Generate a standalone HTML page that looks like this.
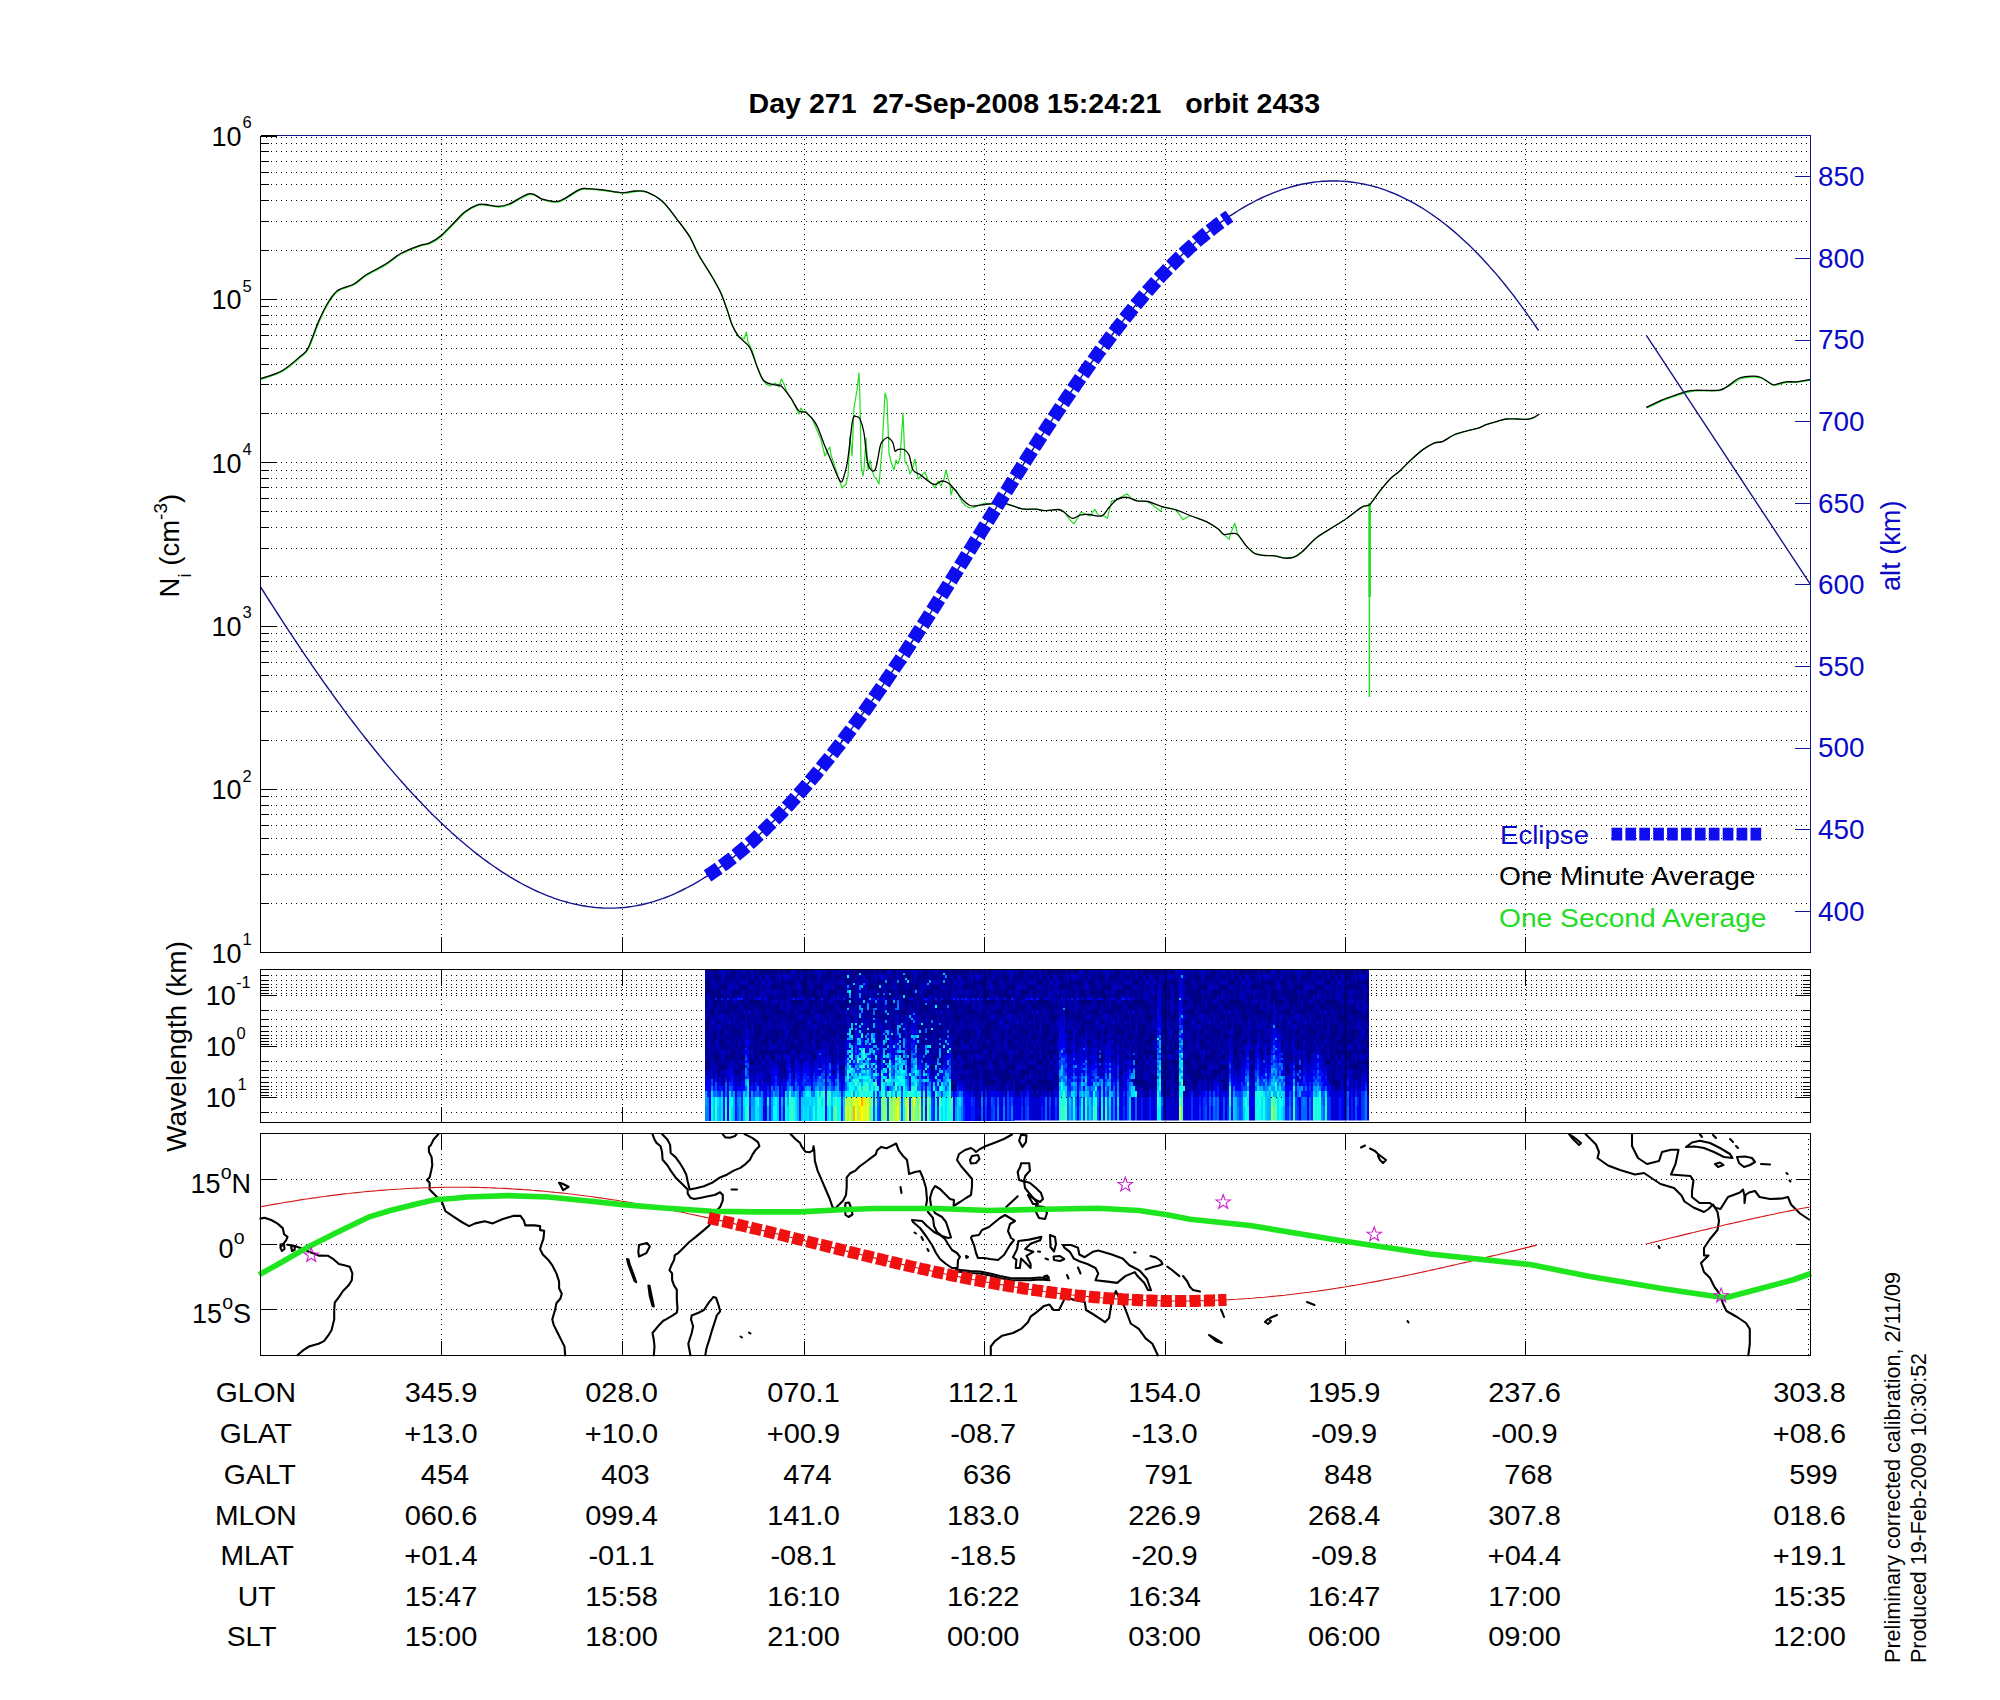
<!DOCTYPE html>
<html><head><meta charset="utf-8"><title>Day 271 27-Sep-2008 orbit 2433</title>
<style>html,body{margin:0;padding:0;background:#fff;}svg{display:block;}</style>
</head><body>
<svg width="2000" height="1700" viewBox="0 0 2000 1700">
<rect width="2000" height="1700" fill="#fff"/>
<g stroke="#000" stroke-width="1" stroke-dasharray="1 4" shape-rendering="crispEdges" fill="none">
<line x1="266" y1="903.5" x2="1809.5" y2="903.5"/>
<line x1="266" y1="874.5" x2="1809.5" y2="874.5"/>
<line x1="266" y1="854.5" x2="1809.5" y2="854.5"/>
<line x1="266" y1="838.5" x2="1809.5" y2="838.5"/>
<line x1="266" y1="825.5" x2="1809.5" y2="825.5"/>
<line x1="266" y1="814.5" x2="1809.5" y2="814.5"/>
<line x1="266" y1="805.5" x2="1809.5" y2="805.5"/>
<line x1="266" y1="796.5" x2="1809.5" y2="796.5"/>
<line x1="266" y1="789.5" x2="1809.5" y2="789.5"/>
<line x1="266" y1="740.5" x2="1809.5" y2="740.5"/>
<line x1="266" y1="711.5" x2="1809.5" y2="711.5"/>
<line x1="266" y1="691.5" x2="1809.5" y2="691.5"/>
<line x1="266" y1="675.5" x2="1809.5" y2="675.5"/>
<line x1="266" y1="662.5" x2="1809.5" y2="662.5"/>
<line x1="266" y1="651.5" x2="1809.5" y2="651.5"/>
<line x1="266" y1="641.5" x2="1809.5" y2="641.5"/>
<line x1="266" y1="633.5" x2="1809.5" y2="633.5"/>
<line x1="266" y1="626.5" x2="1809.5" y2="626.5"/>
<line x1="266" y1="576.5" x2="1809.5" y2="576.5"/>
<line x1="266" y1="548.5" x2="1809.5" y2="548.5"/>
<line x1="266" y1="527.5" x2="1809.5" y2="527.5"/>
<line x1="266" y1="511.5" x2="1809.5" y2="511.5"/>
<line x1="266" y1="498.5" x2="1809.5" y2="498.5"/>
<line x1="266" y1="487.5" x2="1809.5" y2="487.5"/>
<line x1="266" y1="478.5" x2="1809.5" y2="478.5"/>
<line x1="266" y1="470.5" x2="1809.5" y2="470.5"/>
<line x1="266" y1="462.5" x2="1809.5" y2="462.5"/>
<line x1="266" y1="413.5" x2="1809.5" y2="413.5"/>
<line x1="266" y1="384.5" x2="1809.5" y2="384.5"/>
<line x1="266" y1="364.5" x2="1809.5" y2="364.5"/>
<line x1="266" y1="348.5" x2="1809.5" y2="348.5"/>
<line x1="266" y1="335.5" x2="1809.5" y2="335.5"/>
<line x1="266" y1="324.5" x2="1809.5" y2="324.5"/>
<line x1="266" y1="315.5" x2="1809.5" y2="315.5"/>
<line x1="266" y1="306.5" x2="1809.5" y2="306.5"/>
<line x1="266" y1="299.5" x2="1809.5" y2="299.5"/>
<line x1="266" y1="250.5" x2="1809.5" y2="250.5"/>
<line x1="266" y1="221.5" x2="1809.5" y2="221.5"/>
<line x1="266" y1="200.5" x2="1809.5" y2="200.5"/>
<line x1="266" y1="184.5" x2="1809.5" y2="184.5"/>
<line x1="266" y1="172.5" x2="1809.5" y2="172.5"/>
<line x1="266" y1="161.5" x2="1809.5" y2="161.5"/>
<line x1="266" y1="151.5" x2="1809.5" y2="151.5"/>
<line x1="266" y1="143.5" x2="1809.5" y2="143.5"/>
<line x1="266" y1="137.5" x2="1809.5" y2="137.5"/>
<line x1="441.5" y1="139" x2="441.5" y2="951.5"/>
<line x1="622.5" y1="139" x2="622.5" y2="951.5"/>
<line x1="804.5" y1="139" x2="804.5" y2="951.5"/>
<line x1="984.5" y1="139" x2="984.5" y2="951.5"/>
<line x1="1165.5" y1="139" x2="1165.5" y2="951.5"/>
<line x1="1345.5" y1="139" x2="1345.5" y2="951.5"/>
<line x1="1525.5" y1="139" x2="1525.5" y2="951.5"/>
</g>
<g stroke="#000" stroke-width="1" stroke-dasharray="1 4" shape-rendering="crispEdges" fill="none">
<line x1="266" y1="975.5" x2="1809.5" y2="975.5"/>
<line x1="266" y1="980.5" x2="1809.5" y2="980.5"/>
<line x1="266" y1="984.5" x2="1809.5" y2="984.5"/>
<line x1="266" y1="987.5" x2="1809.5" y2="987.5"/>
<line x1="266" y1="990.5" x2="1809.5" y2="990.5"/>
<line x1="266" y1="993.5" x2="1809.5" y2="993.5"/>
<line x1="266" y1="995.5" x2="1809.5" y2="995.5"/>
<line x1="266" y1="1010.5" x2="1809.5" y2="1010.5"/>
<line x1="266" y1="1019.5" x2="1809.5" y2="1019.5"/>
<line x1="266" y1="1026.5" x2="1809.5" y2="1026.5"/>
<line x1="266" y1="1031.5" x2="1809.5" y2="1031.5"/>
<line x1="266" y1="1035.5" x2="1809.5" y2="1035.5"/>
<line x1="266" y1="1038.5" x2="1809.5" y2="1038.5"/>
<line x1="266" y1="1041.5" x2="1809.5" y2="1041.5"/>
<line x1="266" y1="1044.5" x2="1809.5" y2="1044.5"/>
<line x1="266" y1="1046.5" x2="1809.5" y2="1046.5"/>
<line x1="266" y1="1061.5" x2="1809.5" y2="1061.5"/>
<line x1="266" y1="1070.5" x2="1809.5" y2="1070.5"/>
<line x1="266" y1="1077.5" x2="1809.5" y2="1077.5"/>
<line x1="266" y1="1082.5" x2="1809.5" y2="1082.5"/>
<line x1="266" y1="1086.5" x2="1809.5" y2="1086.5"/>
<line x1="266" y1="1089.5" x2="1809.5" y2="1089.5"/>
<line x1="266" y1="1092.5" x2="1809.5" y2="1092.5"/>
<line x1="266" y1="1095.5" x2="1809.5" y2="1095.5"/>
<line x1="266" y1="1097.5" x2="1809.5" y2="1097.5"/>
<line x1="266" y1="1112.5" x2="1809.5" y2="1112.5"/>
<line x1="441.5" y1="974" x2="441.5" y2="1121.5"/>
<line x1="622.5" y1="974" x2="622.5" y2="1121.5"/>
<line x1="804.5" y1="974" x2="804.5" y2="1121.5"/>
<line x1="984.5" y1="974" x2="984.5" y2="1121.5"/>
<line x1="1165.5" y1="974" x2="1165.5" y2="1121.5"/>
<line x1="1345.5" y1="974" x2="1345.5" y2="1121.5"/>
<line x1="1525.5" y1="974" x2="1525.5" y2="1121.5"/>
</g>
<g stroke="#000" stroke-width="1" shape-rendering="crispEdges">
<line x1="260.5" y1="975.5" x2="268.5" y2="975.5"/>
<line x1="1802.5" y1="975.5" x2="1810.5" y2="975.5"/>
<line x1="260.5" y1="980.5" x2="268.5" y2="980.5"/>
<line x1="1802.5" y1="980.5" x2="1810.5" y2="980.5"/>
<line x1="260.5" y1="984.5" x2="268.5" y2="984.5"/>
<line x1="1802.5" y1="984.5" x2="1810.5" y2="984.5"/>
<line x1="260.5" y1="987.5" x2="268.5" y2="987.5"/>
<line x1="1802.5" y1="987.5" x2="1810.5" y2="987.5"/>
<line x1="260.5" y1="990.5" x2="268.5" y2="990.5"/>
<line x1="1802.5" y1="990.5" x2="1810.5" y2="990.5"/>
<line x1="260.5" y1="993.5" x2="268.5" y2="993.5"/>
<line x1="1802.5" y1="993.5" x2="1810.5" y2="993.5"/>
<line x1="260.5" y1="995.5" x2="276.5" y2="995.5"/>
<line x1="1794.5" y1="995.5" x2="1810.5" y2="995.5"/>
<line x1="260.5" y1="1010.5" x2="268.5" y2="1010.5"/>
<line x1="1802.5" y1="1010.5" x2="1810.5" y2="1010.5"/>
<line x1="260.5" y1="1019.5" x2="268.5" y2="1019.5"/>
<line x1="1802.5" y1="1019.5" x2="1810.5" y2="1019.5"/>
<line x1="260.5" y1="1026.5" x2="268.5" y2="1026.5"/>
<line x1="1802.5" y1="1026.5" x2="1810.5" y2="1026.5"/>
<line x1="260.5" y1="1031.5" x2="268.5" y2="1031.5"/>
<line x1="1802.5" y1="1031.5" x2="1810.5" y2="1031.5"/>
<line x1="260.5" y1="1035.5" x2="268.5" y2="1035.5"/>
<line x1="1802.5" y1="1035.5" x2="1810.5" y2="1035.5"/>
<line x1="260.5" y1="1038.5" x2="268.5" y2="1038.5"/>
<line x1="1802.5" y1="1038.5" x2="1810.5" y2="1038.5"/>
<line x1="260.5" y1="1041.5" x2="268.5" y2="1041.5"/>
<line x1="1802.5" y1="1041.5" x2="1810.5" y2="1041.5"/>
<line x1="260.5" y1="1044.5" x2="268.5" y2="1044.5"/>
<line x1="1802.5" y1="1044.5" x2="1810.5" y2="1044.5"/>
<line x1="260.5" y1="1046.5" x2="276.5" y2="1046.5"/>
<line x1="1794.5" y1="1046.5" x2="1810.5" y2="1046.5"/>
<line x1="260.5" y1="1061.5" x2="268.5" y2="1061.5"/>
<line x1="1802.5" y1="1061.5" x2="1810.5" y2="1061.5"/>
<line x1="260.5" y1="1070.5" x2="268.5" y2="1070.5"/>
<line x1="1802.5" y1="1070.5" x2="1810.5" y2="1070.5"/>
<line x1="260.5" y1="1077.5" x2="268.5" y2="1077.5"/>
<line x1="1802.5" y1="1077.5" x2="1810.5" y2="1077.5"/>
<line x1="260.5" y1="1082.5" x2="268.5" y2="1082.5"/>
<line x1="1802.5" y1="1082.5" x2="1810.5" y2="1082.5"/>
<line x1="260.5" y1="1086.5" x2="268.5" y2="1086.5"/>
<line x1="1802.5" y1="1086.5" x2="1810.5" y2="1086.5"/>
<line x1="260.5" y1="1089.5" x2="268.5" y2="1089.5"/>
<line x1="1802.5" y1="1089.5" x2="1810.5" y2="1089.5"/>
<line x1="260.5" y1="1092.5" x2="268.5" y2="1092.5"/>
<line x1="1802.5" y1="1092.5" x2="1810.5" y2="1092.5"/>
<line x1="260.5" y1="1095.5" x2="268.5" y2="1095.5"/>
<line x1="1802.5" y1="1095.5" x2="1810.5" y2="1095.5"/>
<line x1="260.5" y1="1097.5" x2="276.5" y2="1097.5"/>
<line x1="1794.5" y1="1097.5" x2="1810.5" y2="1097.5"/>
<line x1="260.5" y1="1112.5" x2="268.5" y2="1112.5"/>
<line x1="1802.5" y1="1112.5" x2="1810.5" y2="1112.5"/>
<line x1="441.5" y1="1122.5" x2="441.5" y2="1106.5"/>
<line x1="441.5" y1="969.5" x2="441.5" y2="985.5"/>
<line x1="622.5" y1="1122.5" x2="622.5" y2="1106.5"/>
<line x1="622.5" y1="969.5" x2="622.5" y2="985.5"/>
<line x1="804.5" y1="1122.5" x2="804.5" y2="1106.5"/>
<line x1="804.5" y1="969.5" x2="804.5" y2="985.5"/>
<line x1="984.5" y1="1122.5" x2="984.5" y2="1106.5"/>
<line x1="984.5" y1="969.5" x2="984.5" y2="985.5"/>
<line x1="1165.5" y1="1122.5" x2="1165.5" y2="1106.5"/>
<line x1="1165.5" y1="969.5" x2="1165.5" y2="985.5"/>
<line x1="1345.5" y1="1122.5" x2="1345.5" y2="1106.5"/>
<line x1="1345.5" y1="969.5" x2="1345.5" y2="985.5"/>
<line x1="1525.5" y1="1122.5" x2="1525.5" y2="1106.5"/>
<line x1="1525.5" y1="969.5" x2="1525.5" y2="985.5"/>
</g>
<defs><pattern id="sbg" patternUnits="userSpaceOnUse" width="48" height="160">
<rect width="48" height="160" fill="#000099"/>
<path fill="#00007f" d="M4 0h1v10h-1zM10 0h1v10h-1zM13 0h1v10h-1zM14 0h1v10h-1zM17 0h1v10h-1zM21 0h1v10h-1zM24 0h1v10h-1zM25 0h1v10h-1zM27 0h1v10h-1zM28 0h1v10h-1zM30 0h1v10h-1zM32 0h1v10h-1zM34 0h1v10h-1zM35 0h1v10h-1zM37 0h1v10h-1zM40 0h1v10h-1zM41 0h1v10h-1zM45 0h1v10h-1zM46 0h1v10h-1zM1 10h1v10h-1zM5 10h1v10h-1zM6 10h1v10h-1zM7 10h1v10h-1zM10 10h1v10h-1zM11 10h1v10h-1zM13 10h1v10h-1zM18 10h1v10h-1zM19 10h1v10h-1zM22 10h1v10h-1zM25 10h1v10h-1zM26 10h1v10h-1zM28 10h1v10h-1zM29 10h1v10h-1zM32 10h1v10h-1zM33 10h1v10h-1zM34 10h1v10h-1zM38 10h1v10h-1zM44 10h1v10h-1zM46 10h1v10h-1zM0 20h1v10h-1zM1 20h1v10h-1zM5 20h1v10h-1zM15 20h1v10h-1zM22 20h1v10h-1zM23 20h1v10h-1zM24 20h1v10h-1zM26 20h1v10h-1zM34 20h1v10h-1zM36 20h1v10h-1zM38 20h1v10h-1zM41 20h1v10h-1zM42 20h1v10h-1zM43 20h1v10h-1zM1 30h1v10h-1zM2 30h1v10h-1zM7 30h1v10h-1zM8 30h1v10h-1zM9 30h1v10h-1zM10 30h1v10h-1zM17 30h1v10h-1zM18 30h1v10h-1zM19 30h1v10h-1zM26 30h1v10h-1zM33 30h1v10h-1zM34 30h1v10h-1zM35 30h1v10h-1zM37 30h1v10h-1zM38 30h1v10h-1zM43 30h1v10h-1zM0 40h1v10h-1zM1 40h1v10h-1zM3 40h1v10h-1zM5 40h1v10h-1zM6 40h1v10h-1zM7 40h1v10h-1zM10 40h1v10h-1zM14 40h1v10h-1zM15 40h1v10h-1zM16 40h1v10h-1zM17 40h1v10h-1zM20 40h1v10h-1zM26 40h1v10h-1zM33 40h1v10h-1zM37 40h1v10h-1zM40 40h1v10h-1zM43 40h1v10h-1zM44 40h1v10h-1zM45 40h1v10h-1zM2 50h1v10h-1zM4 50h1v10h-1zM6 50h1v10h-1zM7 50h1v10h-1zM8 50h1v10h-1zM10 50h1v10h-1zM13 50h1v10h-1zM14 50h1v10h-1zM17 50h1v10h-1zM20 50h1v10h-1zM23 50h1v10h-1zM26 50h1v10h-1zM31 50h1v10h-1zM33 50h1v10h-1zM36 50h1v10h-1zM38 50h1v10h-1zM40 50h1v10h-1zM43 50h1v10h-1zM44 50h1v10h-1zM0 60h1v10h-1zM4 60h1v10h-1zM5 60h1v10h-1zM7 60h1v10h-1zM9 60h1v10h-1zM11 60h1v10h-1zM18 60h1v10h-1zM22 60h1v10h-1zM23 60h1v10h-1zM24 60h1v10h-1zM25 60h1v10h-1zM26 60h1v10h-1zM27 60h1v10h-1zM39 60h1v10h-1zM42 60h1v10h-1zM43 60h1v10h-1zM45 60h1v10h-1zM46 60h1v10h-1zM47 60h1v10h-1zM4 70h1v10h-1zM5 70h1v10h-1zM7 70h1v10h-1zM11 70h1v10h-1zM13 70h1v10h-1zM14 70h1v10h-1zM15 70h1v10h-1zM19 70h1v10h-1zM20 70h1v10h-1zM22 70h1v10h-1zM27 70h1v10h-1zM28 70h1v10h-1zM29 70h1v10h-1zM31 70h1v10h-1zM33 70h1v10h-1zM35 70h1v10h-1zM36 70h1v10h-1zM45 70h1v10h-1zM2 80h1v10h-1zM3 80h1v10h-1zM4 80h1v10h-1zM6 80h1v10h-1zM8 80h1v10h-1zM10 80h1v10h-1zM11 80h1v10h-1zM14 80h1v10h-1zM18 80h1v10h-1zM20 80h1v10h-1zM23 80h1v10h-1zM27 80h1v10h-1zM29 80h1v10h-1zM35 80h1v10h-1zM36 80h1v10h-1zM37 80h1v10h-1zM42 80h1v10h-1zM43 80h1v10h-1zM46 80h1v10h-1zM1 90h1v10h-1zM13 90h1v10h-1zM17 90h1v10h-1zM18 90h1v10h-1zM19 90h1v10h-1zM21 90h1v10h-1zM24 90h1v10h-1zM28 90h1v10h-1zM29 90h1v10h-1zM30 90h1v10h-1zM37 90h1v10h-1zM39 90h1v10h-1zM41 90h1v10h-1zM42 90h1v10h-1zM44 90h1v10h-1zM1 100h1v10h-1zM6 100h1v10h-1zM13 100h1v10h-1zM16 100h1v10h-1zM21 100h1v10h-1zM25 100h1v10h-1zM30 100h1v10h-1zM33 100h1v10h-1zM42 100h1v10h-1zM45 100h1v10h-1zM47 100h1v10h-1zM0 110h1v10h-1zM8 110h1v10h-1zM10 110h1v10h-1zM14 110h1v10h-1zM17 110h1v10h-1zM19 110h1v10h-1zM21 110h1v10h-1zM22 110h1v10h-1zM24 110h1v10h-1zM26 110h1v10h-1zM27 110h1v10h-1zM34 110h1v10h-1zM44 110h1v10h-1zM45 110h1v10h-1zM46 110h1v10h-1zM1 120h1v10h-1zM4 120h1v10h-1zM5 120h1v10h-1zM7 120h1v10h-1zM8 120h1v10h-1zM11 120h1v10h-1zM14 120h1v10h-1zM15 120h1v10h-1zM16 120h1v10h-1zM19 120h1v10h-1zM25 120h1v10h-1zM26 120h1v10h-1zM27 120h1v10h-1zM34 120h1v10h-1zM36 120h1v10h-1zM38 120h1v10h-1zM42 120h1v10h-1zM43 120h1v10h-1zM44 120h1v10h-1zM45 120h1v10h-1zM4 130h1v10h-1zM10 130h1v10h-1zM17 130h1v10h-1zM19 130h1v10h-1zM20 130h1v10h-1zM24 130h1v10h-1zM25 130h1v10h-1zM30 130h1v10h-1zM31 130h1v10h-1zM35 130h1v10h-1zM36 130h1v10h-1zM41 130h1v10h-1zM45 130h1v10h-1zM46 130h1v10h-1zM0 140h1v10h-1zM4 140h1v10h-1zM7 140h1v10h-1zM8 140h1v10h-1zM13 140h1v10h-1zM15 140h1v10h-1zM18 140h1v10h-1zM20 140h1v10h-1zM24 140h1v10h-1zM26 140h1v10h-1zM28 140h1v10h-1zM29 140h1v10h-1zM30 140h1v10h-1zM33 140h1v10h-1zM34 140h1v10h-1zM35 140h1v10h-1zM40 140h1v10h-1zM43 140h1v10h-1zM47 140h1v10h-1zM8 150h1v10h-1zM10 150h1v10h-1zM18 150h1v10h-1zM22 150h1v10h-1zM25 150h1v10h-1zM30 150h1v10h-1zM36 150h1v10h-1zM40 150h1v10h-1zM43 150h1v10h-1zM44 150h1v10h-1z"/>
<path fill="#0000b2" d="M1 0h1v10h-1zM3 0h1v10h-1zM8 0h1v10h-1zM11 0h1v10h-1zM12 0h1v10h-1zM16 0h1v10h-1zM19 0h1v10h-1zM26 0h1v10h-1zM36 0h1v10h-1zM39 0h1v10h-1zM47 0h1v10h-1zM16 10h1v10h-1zM20 10h1v10h-1zM35 10h1v10h-1zM36 10h1v10h-1zM41 10h1v10h-1zM42 10h1v10h-1zM43 10h1v10h-1zM45 10h1v10h-1zM47 10h1v10h-1zM3 20h1v10h-1zM4 20h1v10h-1zM8 20h1v10h-1zM12 20h1v10h-1zM14 20h1v10h-1zM16 20h1v10h-1zM19 20h1v10h-1zM20 20h1v10h-1zM21 20h1v10h-1zM25 20h1v10h-1zM29 20h1v10h-1zM31 20h1v10h-1zM33 20h1v10h-1zM35 20h1v10h-1zM37 20h1v10h-1zM45 20h1v10h-1zM46 20h1v10h-1zM0 30h1v10h-1zM4 30h1v10h-1zM5 30h1v10h-1zM11 30h1v10h-1zM13 30h1v10h-1zM14 30h1v10h-1zM15 30h1v10h-1zM16 30h1v10h-1zM22 30h1v10h-1zM23 30h1v10h-1zM24 30h1v10h-1zM27 30h1v10h-1zM30 30h1v10h-1zM31 30h1v10h-1zM32 30h1v10h-1zM40 30h1v10h-1zM41 30h1v10h-1zM44 30h1v10h-1zM45 30h1v10h-1zM47 30h1v10h-1zM12 40h1v10h-1zM18 40h1v10h-1zM19 40h1v10h-1zM27 40h1v10h-1zM30 40h1v10h-1zM31 40h1v10h-1zM35 40h1v10h-1zM36 40h1v10h-1zM38 40h1v10h-1zM41 40h1v10h-1zM42 40h1v10h-1zM47 40h1v10h-1zM9 50h1v10h-1zM12 50h1v10h-1zM19 50h1v10h-1zM21 50h1v10h-1zM22 50h1v10h-1zM24 50h1v10h-1zM28 50h1v10h-1zM29 50h1v10h-1zM30 50h1v10h-1zM34 50h1v10h-1zM35 50h1v10h-1zM37 50h1v10h-1zM47 50h1v10h-1zM1 60h1v10h-1zM2 60h1v10h-1zM8 60h1v10h-1zM16 60h1v10h-1zM21 60h1v10h-1zM30 60h1v10h-1zM33 60h1v10h-1zM34 60h1v10h-1zM40 60h1v10h-1zM0 70h1v10h-1zM2 70h1v10h-1zM3 70h1v10h-1zM10 70h1v10h-1zM17 70h1v10h-1zM18 70h1v10h-1zM30 70h1v10h-1zM32 70h1v10h-1zM37 70h1v10h-1zM38 70h1v10h-1zM42 70h1v10h-1zM46 70h1v10h-1zM7 80h1v10h-1zM9 80h1v10h-1zM13 80h1v10h-1zM17 80h1v10h-1zM21 80h1v10h-1zM24 80h1v10h-1zM25 80h1v10h-1zM26 80h1v10h-1zM28 80h1v10h-1zM31 80h1v10h-1zM2 90h1v10h-1zM6 90h1v10h-1zM16 90h1v10h-1zM26 90h1v10h-1zM27 90h1v10h-1zM34 90h1v10h-1zM35 90h1v10h-1zM38 90h1v10h-1zM40 90h1v10h-1zM45 90h1v10h-1zM14 100h1v10h-1zM15 100h1v10h-1zM17 100h1v10h-1zM18 100h1v10h-1zM20 100h1v10h-1zM22 100h1v10h-1zM24 100h1v10h-1zM26 100h1v10h-1zM27 100h1v10h-1zM31 100h1v10h-1zM36 100h1v10h-1zM38 100h1v10h-1zM39 100h1v10h-1zM41 100h1v10h-1zM43 100h1v10h-1zM3 110h1v10h-1zM4 110h1v10h-1zM9 110h1v10h-1zM15 110h1v10h-1zM16 110h1v10h-1zM18 110h1v10h-1zM20 110h1v10h-1zM29 110h1v10h-1zM31 110h1v10h-1zM32 110h1v10h-1zM33 110h1v10h-1zM35 110h1v10h-1zM37 110h1v10h-1zM38 110h1v10h-1zM42 110h1v10h-1zM43 110h1v10h-1zM47 110h1v10h-1zM0 120h1v10h-1zM2 120h1v10h-1zM3 120h1v10h-1zM12 120h1v10h-1zM18 120h1v10h-1zM20 120h1v10h-1zM29 120h1v10h-1zM0 130h1v10h-1zM1 130h1v10h-1zM6 130h1v10h-1zM9 130h1v10h-1zM15 130h1v10h-1zM23 130h1v10h-1zM28 130h1v10h-1zM37 130h1v10h-1zM42 130h1v10h-1zM47 130h1v10h-1zM1 140h1v10h-1zM2 140h1v10h-1zM6 140h1v10h-1zM14 140h1v10h-1zM16 140h1v10h-1zM17 140h1v10h-1zM21 140h1v10h-1zM22 140h1v10h-1zM23 140h1v10h-1zM25 140h1v10h-1zM27 140h1v10h-1zM36 140h1v10h-1zM37 140h1v10h-1zM39 140h1v10h-1zM44 140h1v10h-1zM2 150h1v10h-1zM3 150h1v10h-1zM5 150h1v10h-1zM13 150h1v10h-1zM17 150h1v10h-1zM20 150h1v10h-1zM21 150h1v10h-1zM23 150h1v10h-1zM29 150h1v10h-1zM33 150h1v10h-1zM34 150h1v10h-1zM38 150h1v10h-1zM41 150h1v10h-1z"/>
<path fill="#0000cc" d="M7 0h1v10h-1zM9 0h1v10h-1zM18 0h1v10h-1zM23 0h1v10h-1zM43 0h1v10h-1zM44 0h1v10h-1zM0 10h1v10h-1zM8 10h1v10h-1zM9 10h1v10h-1zM23 10h1v10h-1zM27 10h1v10h-1zM30 10h1v10h-1zM31 10h1v10h-1zM37 10h1v10h-1zM39 10h1v10h-1zM40 10h1v10h-1zM18 20h1v10h-1zM28 20h1v10h-1zM32 20h1v10h-1zM12 30h1v10h-1zM46 30h1v10h-1zM8 40h1v10h-1zM11 40h1v10h-1zM28 40h1v10h-1zM32 40h1v10h-1zM34 40h1v10h-1zM1 50h1v10h-1zM16 50h1v10h-1zM18 50h1v10h-1zM27 50h1v10h-1zM41 50h1v10h-1zM10 60h1v10h-1zM14 60h1v10h-1zM35 60h1v10h-1zM38 60h1v10h-1zM41 60h1v10h-1zM6 70h1v10h-1zM41 70h1v10h-1zM5 80h1v10h-1zM19 80h1v10h-1zM22 80h1v10h-1zM41 80h1v10h-1zM45 80h1v10h-1zM0 90h1v10h-1zM7 90h1v10h-1zM8 90h1v10h-1zM10 90h1v10h-1zM14 90h1v10h-1zM20 90h1v10h-1zM23 90h1v10h-1zM47 90h1v10h-1zM3 100h1v10h-1zM4 100h1v10h-1zM8 100h1v10h-1zM11 100h1v10h-1zM12 100h1v10h-1zM32 100h1v10h-1zM6 110h1v10h-1zM7 110h1v10h-1zM23 110h1v10h-1zM39 110h1v10h-1zM6 120h1v10h-1zM10 120h1v10h-1zM23 120h1v10h-1zM40 120h1v10h-1zM41 120h1v10h-1zM18 130h1v10h-1zM40 130h1v10h-1zM5 140h1v10h-1zM11 140h1v10h-1zM19 140h1v10h-1zM32 140h1v10h-1zM45 140h1v10h-1zM6 150h1v10h-1zM32 150h1v10h-1zM35 150h1v10h-1zM39 150h1v10h-1z"/>
</pattern></defs>
<g transform="translate(705.30 969.60) scale(1.9997 0.5)" shape-rendering="crispEdges">
<rect width="332" height="303" fill="url(#sbg)"/>
<path fill="#0000cc" d="M135 273h1v30h-1zM139 273h1v30h-1zM141 273h1v30h-1zM150 273h1v30h-1zM159 273h1v30h-1zM163 273h5v30h-5zM171 273h1v30h-1zM173 273h1v30h-1zM214 273h1v30h-1zM216 273h2v30h-2zM219 273h2v30h-2zM224 273h1v30h-1zM229 273h1v30h-1zM231 273h5v30h-5zM240 273h1v30h-1zM257 273h1v30h-1zM260 273h1v30h-1zM313 273h1v30h-1zM315 273h1v30h-1zM319 273h1v30h-1zM322 273h1v30h-1zM331 273h1v30h-1zM135 255h2v18h-2zM139 255h1v18h-1zM141 255h1v18h-1zM150 255h1v18h-1zM159 255h1v18h-1zM163 255h5v18h-5zM171 255h1v18h-1zM173 255h1v18h-1zM216 255h2v18h-2zM219 255h2v18h-2zM224 255h1v18h-1zM229 255h1v18h-1zM231 255h4v18h-4zM240 255h1v18h-1zM257 255h1v18h-1zM260 255h1v18h-1zM313 255h1v18h-1zM315 255h1v18h-1zM319 255h1v18h-1zM322 255h1v18h-1zM324 255h1v18h-1zM327 255h1v18h-1zM331 255h1v18h-1zM15 242h1v13h-1zM37 242h1v13h-1zM131 242h2v13h-2zM134 242h1v13h-1zM136 242h1v13h-1zM142 242h1v13h-1zM147 242h2v13h-2zM152 242h1v13h-1zM157 242h1v13h-1zM162 242h1v13h-1zM168 242h1v13h-1zM174 242h1v13h-1zM176 242h1v13h-1zM208 242h1v13h-1zM224 242h1v13h-1zM230 242h1v13h-1zM234 242h1v13h-1zM236 242h1v13h-1zM239 242h1v13h-1zM244 242h1v13h-1zM248 242h1v13h-1zM251 242h1v13h-1zM260 242h1v13h-1zM273 242h2v13h-2zM313 242h1v13h-1zM315 242h2v13h-2zM319 242h1v13h-1zM322 242h1v13h-1zM324 242h1v13h-1zM326 242h2v13h-2zM2 232h1v10h-1zM9 232h1v10h-1zM11 232h1v10h-1zM15 232h1v10h-1zM27 232h1v10h-1zM30 232h1v10h-1zM37 232h1v10h-1zM39 232h1v10h-1zM129 232h1v10h-1zM131 232h1v10h-1zM133 232h1v10h-1zM138 232h1v10h-1zM140 232h1v10h-1zM142 232h1v10h-1zM144 232h1v10h-1zM151 232h1v10h-1zM154 232h1v10h-1zM160 232h2v10h-2zM175 232h1v10h-1zM205 232h1v10h-1zM207 232h2v10h-2zM210 232h1v10h-1zM215 232h1v10h-1zM218 232h1v10h-1zM222 232h1v10h-1zM225 232h1v10h-1zM228 232h1v10h-1zM243 232h1v10h-1zM249 232h2v10h-2zM258 232h1v10h-1zM261 232h1v10h-1zM272 232h3v10h-3zM314 232h1v10h-1zM317 232h1v10h-1zM320 232h1v10h-1zM326 232h1v10h-1zM329 232h1v10h-1zM4 224h1v8h-1zM6 224h1v8h-1zM8 224h1v8h-1zM11 224h1v8h-1zM16 224h2v8h-2zM24 224h1v8h-1zM29 224h3v8h-3zM60 224h1v8h-1zM68 224h1v8h-1zM110 224h1v8h-1zM113 224h1v8h-1zM128 224h2v8h-2zM138 224h1v8h-1zM151 224h1v8h-1zM207 224h1v8h-1zM210 224h1v8h-1zM214 224h1v8h-1zM247 224h1v8h-1zM249 224h1v8h-1zM252 224h1v8h-1zM254 224h1v8h-1zM258 224h1v8h-1zM272 224h3v8h-3zM290 224h2v8h-2zM295 224h1v8h-1zM297 224h1v8h-1zM301 224h1v8h-1zM312 224h1v8h-1zM318 224h1v8h-1zM320 224h1v8h-1zM323 224h1v8h-1zM325 224h1v8h-1zM329 224h1v8h-1zM2 218h1v6h-1zM4 218h1v6h-1zM14 218h1v6h-1zM16 218h1v6h-1zM19 218h1v6h-1zM38 218h3v6h-3zM44 218h1v6h-1zM53 218h1v6h-1zM64 218h1v6h-1zM102 218h1v6h-1zM114 218h1v6h-1zM126 218h2v6h-2zM138 218h1v6h-1zM186 218h1v6h-1zM205 218h1v6h-1zM210 218h1v6h-1zM213 218h1v6h-1zM247 218h1v6h-1zM254 218h1v6h-1zM256 218h1v6h-1zM266 218h2v6h-2zM272 218h1v6h-1zM274 218h1v6h-1zM290 218h2v6h-2zM296 218h3v6h-3zM301 218h1v6h-1zM311 218h1v6h-1zM318 218h1v6h-1zM323 218h1v6h-1zM325 218h1v6h-1zM328 218h1v6h-1zM1 212h1v6h-1zM18 212h1v6h-1zM23 212h1v6h-1zM25 212h1v6h-1zM36 212h1v6h-1zM39 212h1v6h-1zM53 212h1v6h-1zM60 212h1v6h-1zM64 212h1v6h-1zM67 212h3v6h-3zM102 212h1v6h-1zM113 212h1v6h-1zM126 212h1v6h-1zM199 212h1v6h-1zM205 212h1v6h-1zM210 212h1v6h-1zM264 212h1v6h-1zM266 212h1v6h-1zM272 212h1v6h-1zM274 212h1v6h-1zM290 212h2v6h-2zM293 212h1v6h-1zM298 212h1v6h-1zM301 212h1v6h-1zM309 212h1v6h-1zM328 212h1v6h-1zM0 206h1v6h-1zM2 206h1v6h-1zM7 206h1v6h-1zM10 206h1v6h-1zM14 206h1v6h-1zM18 206h1v6h-1zM23 206h1v6h-1zM25 206h1v6h-1zM28 206h1v6h-1zM34 206h1v6h-1zM36 206h1v6h-1zM43 206h1v6h-1zM48 206h1v6h-1zM57 206h1v6h-1zM63 206h1v6h-1zM67 206h1v6h-1zM69 206h1v6h-1zM87 206h1v6h-1zM117 206h1v6h-1zM181 206h1v6h-1zM196 206h1v6h-1zM198 206h2v6h-2zM210 206h1v6h-1zM263 206h3v6h-3zM267 206h1v6h-1zM269 206h1v6h-1zM274 206h1v6h-1zM292 206h1v6h-1zM295 206h1v6h-1zM297 206h2v6h-2zM301 206h2v6h-2zM321 206h1v6h-1zM328 206h1v6h-1zM330 206h1v6h-1zM0 201h2v5h-2zM5 201h1v5h-1zM10 201h1v5h-1zM18 201h1v5h-1zM26 201h1v5h-1zM28 201h1v5h-1zM33 201h1v5h-1zM36 201h1v5h-1zM41 201h1v5h-1zM43 201h1v5h-1zM47 201h2v5h-2zM63 201h1v5h-1zM65 201h1v5h-1zM68 201h1v5h-1zM87 201h1v5h-1zM115 201h2v5h-2zM181 201h1v5h-1zM186 201h1v5h-1zM189 201h1v5h-1zM191 201h2v5h-2zM196 201h4v5h-4zM204 201h2v5h-2zM263 201h3v5h-3zM267 201h1v5h-1zM269 201h1v5h-1zM278 201h1v5h-1zM292 201h2v5h-2zM295 201h1v5h-1zM309 201h1v5h-1zM321 201h1v5h-1zM330 201h1v5h-1zM3 196h1v5h-1zM5 196h1v5h-1zM10 196h1v5h-1zM33 196h2v5h-2zM36 196h1v5h-1zM46 196h2v5h-2zM54 196h1v5h-1zM63 196h1v5h-1zM65 196h1v5h-1zM86 196h2v5h-2zM91 196h1v5h-1zM102 196h1v5h-1zM109 196h1v5h-1zM116 196h1v5h-1zM118 196h1v5h-1zM181 196h1v5h-1zM185 196h1v5h-1zM192 196h1v5h-1zM196 196h3v5h-3zM203 196h1v5h-1zM209 196h1v5h-1zM213 196h1v5h-1zM263 196h1v5h-1zM269 196h1v5h-1zM278 196h2v5h-2zM281 196h1v5h-1zM293 196h1v5h-1zM297 196h1v5h-1zM300 196h1v5h-1zM302 196h1v5h-1zM305 196h1v5h-1zM308 196h2v5h-2zM321 196h1v5h-1zM3 191h1v5h-1zM12 191h2v5h-2zM26 191h1v5h-1zM33 191h4v5h-4zM47 191h1v5h-1zM50 191h1v5h-1zM52 191h1v5h-1zM54 191h1v5h-1zM63 191h1v5h-1zM87 191h1v5h-1zM89 191h2v5h-2zM101 191h1v5h-1zM109 191h1v5h-1zM112 191h1v5h-1zM116 191h1v5h-1zM120 191h1v5h-1zM181 191h2v5h-2zM189 191h1v5h-1zM196 191h2v5h-2zM199 191h1v5h-1zM203 191h1v5h-1zM209 191h1v5h-1zM211 191h1v5h-1zM263 191h1v5h-1zM268 191h2v5h-2zM277 191h1v5h-1zM279 191h1v5h-1zM281 191h1v5h-1zM289 191h1v5h-1zM292 191h2v5h-2zM297 191h1v5h-1zM300 191h4v5h-4zM308 191h1v5h-1zM310 191h1v5h-1zM3 186h1v5h-1zM12 186h2v5h-2zM34 186h2v5h-2zM41 186h1v5h-1zM45 186h2v5h-2zM50 186h1v5h-1zM52 186h1v5h-1zM54 186h1v5h-1zM65 186h1v5h-1zM89 186h1v5h-1zM101 186h2v5h-2zM108 186h1v5h-1zM112 186h1v5h-1zM115 186h1v5h-1zM120 186h1v5h-1zM181 186h2v5h-2zM186 186h1v5h-1zM199 186h1v5h-1zM203 186h1v5h-1zM209 186h1v5h-1zM211 186h1v5h-1zM263 186h1v5h-1zM281 186h2v5h-2zM289 186h1v5h-1zM293 186h1v5h-1zM299 186h2v5h-2zM302 186h2v5h-2zM305 186h1v5h-1zM308 186h2v5h-2zM321 186h1v5h-1zM3 181h1v5h-1zM13 181h1v5h-1zM35 181h1v5h-1zM41 181h2v5h-2zM46 181h1v5h-1zM49 181h3v5h-3zM54 181h1v5h-1zM56 181h1v5h-1zM62 181h1v5h-1zM84 181h1v5h-1zM86 181h1v5h-1zM101 181h1v5h-1zM106 181h1v5h-1zM111 181h2v5h-2zM120 181h1v5h-1zM181 181h2v5h-2zM185 181h3v5h-3zM191 181h1v5h-1zM193 181h1v5h-1zM199 181h1v5h-1zM201 181h1v5h-1zM203 181h2v5h-2zM209 181h1v5h-1zM211 181h1v5h-1zM263 181h1v5h-1zM268 181h1v5h-1zM270 181h1v5h-1zM277 181h2v5h-2zM288 181h2v5h-2zM299 181h2v5h-2zM303 181h1v5h-1zM305 181h1v5h-1zM308 181h1v5h-1zM35 176h1v5h-1zM41 176h2v5h-2zM45 176h1v5h-1zM51 176h2v5h-2zM62 176h1v5h-1zM86 176h1v5h-1zM89 176h2v5h-2zM101 176h1v5h-1zM120 176h1v5h-1zM182 176h2v5h-2zM185 176h3v5h-3zM191 176h1v5h-1zM193 176h1v5h-1zM204 176h1v5h-1zM209 176h1v5h-1zM212 176h1v5h-1zM263 176h1v5h-1zM268 176h1v5h-1zM277 176h1v5h-1zM282 176h1v5h-1zM289 176h1v5h-1zM299 176h2v5h-2zM303 176h1v5h-1zM305 176h1v5h-1zM307 176h1v5h-1zM35 171h1v5h-1zM41 171h2v5h-2zM45 171h1v5h-1zM47 171h1v5h-1zM49 171h1v5h-1zM51 171h2v5h-2zM58 171h2v5h-2zM61 171h2v5h-2zM66 171h1v5h-1zM74 171h1v5h-1zM84 171h1v5h-1zM86 171h1v5h-1zM108 171h1v5h-1zM111 171h1v5h-1zM120 171h1v5h-1zM182 171h2v5h-2zM185 171h1v5h-1zM195 171h1v5h-1zM201 171h2v5h-2zM204 171h1v5h-1zM263 171h1v5h-1zM268 171h1v5h-1zM270 171h1v5h-1zM277 171h1v5h-1zM282 171h1v5h-1zM303 171h3v5h-3zM307 171h2v5h-2zM35 166h1v5h-1zM51 166h1v5h-1zM56 166h1v5h-1zM58 166h2v5h-2zM66 166h1v5h-1zM70 166h1v5h-1zM83 166h1v5h-1zM86 166h1v5h-1zM94 166h1v5h-1zM97 166h1v5h-1zM108 166h1v5h-1zM111 166h1v5h-1zM119 166h1v5h-1zM183 166h1v5h-1zM185 166h4v5h-4zM193 166h1v5h-1zM195 166h1v5h-1zM201 166h1v5h-1zM203 166h2v5h-2zM211 166h2v5h-2zM262 166h2v5h-2zM268 166h1v5h-1zM275 166h1v5h-1zM277 166h1v5h-1zM280 166h1v5h-1zM299 166h1v5h-1zM303 166h5v5h-5zM56 161h1v5h-1zM58 161h1v5h-1zM61 161h1v5h-1zM86 161h1v5h-1zM94 161h1v5h-1zM107 161h2v5h-2zM180 161h1v5h-1zM186 161h4v5h-4zM193 161h3v5h-3zM200 161h2v5h-2zM203 161h1v5h-1zM206 161h1v5h-1zM212 161h1v5h-1zM270 161h1v5h-1zM275 161h1v5h-1zM35 156h1v5h-1zM58 156h2v5h-2zM61 156h1v5h-1zM66 156h1v5h-1zM70 156h1v5h-1zM72 156h1v5h-1zM74 156h1v5h-1zM94 156h1v5h-1zM107 156h2v5h-2zM111 156h1v5h-1zM121 156h1v5h-1zM180 156h1v5h-1zM183 156h1v5h-1zM187 156h2v5h-2zM191 156h1v5h-1zM193 156h2v5h-2zM200 156h2v5h-2zM206 156h1v5h-1zM209 156h1v5h-1zM212 156h1v5h-1zM262 156h1v5h-1zM268 156h1v5h-1zM270 156h1v5h-1zM280 156h1v5h-1zM294 156h1v5h-1zM299 156h1v5h-1zM306 156h1v5h-1zM20 151h1v5h-1zM58 151h1v5h-1zM70 151h1v5h-1zM74 151h1v5h-1zM76 151h1v5h-1zM80 151h1v5h-1zM83 151h1v5h-1zM108 151h1v5h-1zM121 151h2v5h-2zM183 151h1v5h-1zM187 151h2v5h-2zM195 151h1v5h-1zM200 151h2v5h-2zM206 151h1v5h-1zM262 151h1v5h-1zM270 151h1v5h-1zM275 151h1v5h-1zM280 151h1v5h-1zM286 151h1v5h-1zM294 151h1v5h-1zM299 151h1v5h-1zM306 151h1v5h-1zM58 146h2v5h-2zM61 146h1v5h-1zM70 146h1v5h-1zM73 146h2v5h-2zM79 146h1v5h-1zM83 146h1v5h-1zM93 146h2v5h-2zM119 146h1v5h-1zM122 146h1v5h-1zM180 146h1v5h-1zM195 146h1v5h-1zM200 146h3v5h-3zM206 146h1v5h-1zM262 146h1v5h-1zM280 146h1v5h-1zM286 146h1v5h-1zM294 146h1v5h-1zM299 146h1v5h-1zM72 141h1v5h-1zM79 141h1v5h-1zM82 141h1v5h-1zM88 141h1v5h-1zM93 141h2v5h-2zM121 141h1v5h-1zM180 141h1v5h-1zM184 141h1v5h-1zM187 141h1v5h-1zM190 141h1v5h-1zM194 141h2v5h-2zM201 141h2v5h-2zM262 141h1v5h-1zM271 141h1v5h-1zM276 141h1v5h-1zM285 141h2v5h-2zM294 141h1v5h-1zM20 136h2v5h-2zM66 136h1v5h-1zM79 136h1v5h-1zM82 136h1v5h-1zM85 136h1v5h-1zM88 136h1v5h-1zM93 136h1v5h-1zM95 136h1v5h-1zM119 136h1v5h-1zM121 136h2v5h-2zM178 136h1v5h-1zM184 136h1v5h-1zM188 136h1v5h-1zM195 136h1v5h-1zM262 136h1v5h-1zM271 136h1v5h-1zM276 136h1v5h-1zM280 136h1v5h-1zM283 136h1v5h-1zM286 136h1v5h-1zM294 136h1v5h-1zM20 131h2v5h-2zM66 131h1v5h-1zM77 131h1v5h-1zM81 131h2v5h-2zM92 131h2v5h-2zM122 131h1v5h-1zM180 131h1v5h-1zM188 131h1v5h-1zM190 131h1v5h-1zM202 131h1v5h-1zM206 131h1v5h-1zM271 131h1v5h-1zM276 131h1v5h-1zM286 131h2v5h-2zM294 131h1v5h-1zM20 126h2v5h-2zM76 126h2v5h-2zM82 126h1v5h-1zM95 126h1v5h-1zM103 126h1v5h-1zM105 126h1v5h-1zM122 126h1v5h-1zM180 126h1v5h-1zM184 126h1v5h-1zM190 126h1v5h-1zM202 126h1v5h-1zM262 126h1v5h-1zM271 126h1v5h-1zM276 126h1v5h-1zM283 126h1v5h-1zM286 126h2v5h-2zM294 126h1v5h-1zM20 121h2v5h-2zM76 121h1v5h-1zM81 121h1v5h-1zM85 121h1v5h-1zM92 121h2v5h-2zM95 121h1v5h-1zM184 121h1v5h-1zM190 121h1v5h-1zM262 121h1v5h-1zM271 121h1v5h-1zM276 121h1v5h-1zM283 121h1v5h-1zM285 121h1v5h-1zM287 121h1v5h-1zM20 116h2v5h-2zM71 116h1v5h-1zM77 116h2v5h-2zM82 116h1v5h-1zM85 116h1v5h-1zM100 116h1v5h-1zM103 116h1v5h-1zM105 116h1v5h-1zM122 116h1v5h-1zM178 116h1v5h-1zM202 116h1v5h-1zM283 116h4v5h-4zM20 111h1v5h-1zM71 111h1v5h-1zM85 111h1v5h-1zM88 111h1v5h-1zM92 111h1v5h-1zM103 111h1v5h-1zM105 111h1v5h-1zM122 111h1v5h-1zM177 111h2v5h-2zM190 111h1v5h-1zM271 111h1v5h-1zM276 111h1v5h-1zM287 111h1v5h-1zM20 106h1v5h-1zM71 106h1v5h-1zM77 106h1v5h-1zM81 106h1v5h-1zM85 106h1v5h-1zM92 106h1v5h-1zM95 106h2v5h-2zM100 106h1v5h-1zM103 106h3v5h-3zM177 106h2v5h-2zM276 106h1v5h-1zM283 106h1v5h-1zM287 106h1v5h-1zM71 101h1v5h-1zM75 101h1v5h-1zM81 101h1v5h-1zM85 101h1v5h-1zM92 101h1v5h-1zM95 101h2v5h-2zM100 101h1v5h-1zM103 101h1v5h-1zM105 101h1v5h-1zM177 101h1v5h-1zM179 101h1v5h-1zM271 101h1v5h-1zM284 101h2v5h-2zM287 101h1v5h-1zM20 96h1v5h-1zM71 96h1v5h-1zM75 96h1v5h-1zM78 96h1v5h-1zM81 96h1v5h-1zM85 96h1v5h-1zM100 96h1v5h-1zM104 96h2v5h-2zM177 96h2v5h-2zM284 96h1v5h-1zM71 91h1v5h-1zM75 91h1v5h-1zM78 91h1v5h-1zM92 91h1v5h-1zM96 91h1v5h-1zM100 91h1v5h-1zM103 91h3v5h-3zM179 91h1v5h-1zM284 91h1v5h-1zM75 86h1v5h-1zM78 86h1v5h-1zM103 86h1v5h-1zM179 86h1v5h-1zM227 86h1v5h-1zM284 86h1v5h-1zM75 81h1v5h-1zM103 81h2v5h-2zM177 81h1v5h-1zM179 81h1v5h-1zM284 81h1v5h-1zM75 76h1v5h-1zM227 76h1v5h-1zM284 76h1v5h-1zM75 71h1v5h-1zM78 71h1v5h-1zM179 71h1v5h-1zM238 71h1v5h-1zM284 71h1v5h-1zM179 66h1v5h-1zM226 66h1v5h-1zM238 66h1v5h-1zM284 66h1v5h-1zM75 61h1v5h-1zM226 61h2v5h-2zM226 56h2v5h-2zM238 56h1v5h-1zM226 51h2v5h-2zM226 46h2v5h-2zM226 41h2v5h-2zM227 36h1v5h-1zM237 36h2v5h-2zM226 31h2v5h-2zM238 31h1v5h-1zM227 26h1v5h-1zM237 26h2v5h-2zM227 21h1v5h-1zM238 21h1v5h-1zM237 16h2v5h-2zM227 11h1v5h-1zM237 11h1v5h-1zM238 6h1v5h-1zM237 1h2v5h-2zM237 0h1v1h-1z"/>
<path fill="#0000e5" d="M30 273h1v30h-1zM124 273h1v30h-1zM136 273h1v30h-1zM142 273h1v30h-1zM145 273h1v30h-1zM147 273h2v30h-2zM154 273h4v30h-4zM162 273h1v30h-1zM169 273h1v30h-1zM174 273h1v30h-1zM176 273h1v30h-1zM197 273h1v30h-1zM207 273h2v30h-2zM221 273h1v30h-1zM223 273h1v30h-1zM236 273h1v30h-1zM239 273h1v30h-1zM241 273h2v30h-2zM244 273h3v30h-3zM248 273h1v30h-1zM251 273h1v30h-1zM272 273h3v30h-3zM297 273h1v30h-1zM314 273h1v30h-1zM316 273h1v30h-1zM324 273h1v30h-1zM327 273h1v30h-1zM30 255h1v18h-1zM124 255h1v18h-1zM142 255h1v18h-1zM145 255h1v18h-1zM147 255h2v18h-2zM154 255h4v18h-4zM162 255h1v18h-1zM169 255h1v18h-1zM174 255h1v18h-1zM176 255h1v18h-1zM197 255h1v18h-1zM207 255h2v18h-2zM210 255h1v18h-1zM213 255h2v18h-2zM221 255h1v18h-1zM223 255h1v18h-1zM236 255h1v18h-1zM239 255h1v18h-1zM241 255h2v18h-2zM244 255h3v18h-3zM248 255h1v18h-1zM251 255h1v18h-1zM272 255h1v18h-1zM274 255h1v18h-1zM297 255h1v18h-1zM314 255h1v18h-1zM316 255h1v18h-1zM2 242h1v13h-1zM9 242h1v13h-1zM11 242h1v13h-1zM22 242h1v13h-1zM30 242h1v13h-1zM39 242h1v13h-1zM47 242h1v13h-1zM114 242h1v13h-1zM124 242h1v13h-1zM144 242h2v13h-2zM149 242h1v13h-1zM154 242h1v13h-1zM170 242h1v13h-1zM207 242h1v13h-1zM210 242h1v13h-1zM225 242h1v13h-1zM228 242h1v13h-1zM242 242h1v13h-1zM247 242h1v13h-1zM253 242h1v13h-1zM258 242h1v13h-1zM290 242h1v13h-1zM312 242h1v13h-1zM314 242h1v13h-1zM317 242h2v13h-2zM6 232h1v10h-1zM22 232h1v10h-1zM24 232h1v10h-1zM29 232h1v10h-1zM60 232h1v10h-1zM68 232h1v10h-1zM116 232h1v10h-1zM197 232h1v10h-1zM199 232h1v10h-1zM203 232h1v10h-1zM209 232h1v10h-1zM247 232h1v10h-1zM252 232h1v10h-1zM254 232h2v10h-2zM263 232h1v10h-1zM311 232h1v10h-1zM318 232h1v10h-1zM0 224h3v8h-3zM7 224h1v8h-1zM18 224h2v8h-2zM38 224h2v8h-2zM44 224h1v8h-1zM47 224h1v8h-1zM64 224h1v8h-1zM87 224h1v8h-1zM102 224h1v8h-1zM126 224h2v8h-2zM192 224h1v8h-1zM205 224h1v8h-1zM255 224h2v8h-2zM263 224h1v8h-1zM266 224h2v8h-2zM292 224h2v8h-2zM309 224h1v8h-1zM311 224h1v8h-1zM328 224h1v8h-1zM1 218h1v6h-1zM7 218h1v6h-1zM18 218h1v6h-1zM23 218h1v6h-1zM25 218h1v6h-1zM28 218h1v6h-1zM33 218h2v6h-2zM47 218h1v6h-1zM67 218h3v6h-3zM84 218h1v6h-1zM87 218h1v6h-1zM113 218h1v6h-1zM189 218h1v6h-1zM196 218h1v6h-1zM199 218h1v6h-1zM203 218h1v6h-1zM209 218h1v6h-1zM264 218h1v6h-1zM268 218h1v6h-1zM292 218h2v6h-2zM295 218h1v6h-1zM302 218h2v6h-2zM330 218h1v6h-1zM0 212h1v6h-1zM3 212h1v6h-1zM7 212h1v6h-1zM10 212h1v6h-1zM12 212h1v6h-1zM14 212h1v6h-1zM26 212h1v6h-1zM28 212h1v6h-1zM43 212h1v6h-1zM47 212h2v6h-2zM87 212h1v6h-1zM91 212h1v6h-1zM116 212h1v6h-1zM118 212h1v6h-1zM186 212h1v6h-1zM192 212h2v6h-2zM197 212h1v6h-1zM201 212h1v6h-1zM203 212h2v6h-2zM209 212h1v6h-1zM263 212h1v6h-1zM265 212h1v6h-1zM269 212h1v6h-1zM281 212h1v6h-1zM292 212h1v6h-1zM295 212h1v6h-1zM303 212h1v6h-1zM321 212h1v6h-1zM330 212h1v6h-1zM3 206h1v6h-1zM5 206h1v6h-1zM13 206h1v6h-1zM26 206h1v6h-1zM33 206h1v6h-1zM47 206h1v6h-1zM52 206h1v6h-1zM91 206h1v6h-1zM108 206h1v6h-1zM115 206h1v6h-1zM118 206h1v6h-1zM182 206h2v6h-2zM185 206h3v6h-3zM189 206h1v6h-1zM192 206h1v6h-1zM201 206h1v6h-1zM203 206h2v6h-2zM209 206h1v6h-1zM277 206h1v6h-1zM288 206h2v6h-2zM293 206h1v6h-1zM303 206h2v6h-2zM309 206h2v6h-2zM3 201h1v5h-1zM12 201h1v5h-1zM34 201h1v5h-1zM46 201h1v5h-1zM50 201h1v5h-1zM55 201h1v5h-1zM84 201h1v5h-1zM86 201h1v5h-1zM91 201h1v5h-1zM102 201h1v5h-1zM108 201h1v5h-1zM183 201h1v5h-1zM185 201h1v5h-1zM187 201h1v5h-1zM201 201h1v5h-1zM203 201h1v5h-1zM209 201h1v5h-1zM211 201h1v5h-1zM277 201h1v5h-1zM279 201h1v5h-1zM281 201h2v5h-2zM289 201h1v5h-1zM299 201h1v5h-1zM302 201h2v5h-2zM308 201h1v5h-1zM310 201h1v5h-1zM12 196h2v5h-2zM45 196h1v5h-1zM50 196h1v5h-1zM52 196h1v5h-1zM55 196h1v5h-1zM99 196h1v5h-1zM112 196h1v5h-1zM120 196h1v5h-1zM183 196h1v5h-1zM186 196h1v5h-1zM191 196h1v5h-1zM204 196h1v5h-1zM211 196h1v5h-1zM268 196h1v5h-1zM277 196h1v5h-1zM282 196h1v5h-1zM289 196h1v5h-1zM303 196h2v5h-2zM310 196h1v5h-1zM41 191h2v5h-2zM45 191h2v5h-2zM49 191h1v5h-1zM51 191h1v5h-1zM55 191h1v5h-1zM58 191h1v5h-1zM65 191h1v5h-1zM84 191h1v5h-1zM86 191h1v5h-1zM99 191h1v5h-1zM106 191h1v5h-1zM183 191h1v5h-1zM186 191h2v5h-2zM191 191h1v5h-1zM193 191h1v5h-1zM195 191h1v5h-1zM201 191h1v5h-1zM204 191h1v5h-1zM212 191h1v5h-1zM278 191h1v5h-1zM304 191h2v5h-2zM307 191h1v5h-1zM49 186h1v5h-1zM55 186h2v5h-2zM86 186h1v5h-1zM106 186h1v5h-1zM111 186h1v5h-1zM119 186h1v5h-1zM183 186h1v5h-1zM185 186h1v5h-1zM187 186h1v5h-1zM191 186h1v5h-1zM193 186h2v5h-2zM201 186h1v5h-1zM204 186h1v5h-1zM212 186h1v5h-1zM268 186h1v5h-1zM277 186h2v5h-2zM304 186h1v5h-1zM307 186h1v5h-1zM45 181h1v5h-1zM55 181h1v5h-1zM58 181h2v5h-2zM66 181h1v5h-1zM83 181h1v5h-1zM90 181h1v5h-1zM94 181h1v5h-1zM107 181h1v5h-1zM119 181h1v5h-1zM183 181h1v5h-1zM194 181h2v5h-2zM200 181h1v5h-1zM202 181h1v5h-1zM206 181h1v5h-1zM212 181h1v5h-1zM275 181h1v5h-1zM280 181h1v5h-1zM282 181h1v5h-1zM286 181h1v5h-1zM294 181h1v5h-1zM304 181h1v5h-1zM306 181h2v5h-2zM21 176h1v5h-1zM56 176h1v5h-1zM58 176h1v5h-1zM61 176h1v5h-1zM74 176h1v5h-1zM83 176h2v5h-2zM93 176h2v5h-2zM107 176h2v5h-2zM111 176h1v5h-1zM194 176h2v5h-2zM200 176h2v5h-2zM262 176h1v5h-1zM270 176h1v5h-1zM275 176h1v5h-1zM280 176h1v5h-1zM294 176h1v5h-1zM306 176h1v5h-1zM56 171h1v5h-1zM70 171h1v5h-1zM83 171h1v5h-1zM107 171h1v5h-1zM119 171h1v5h-1zM122 171h1v5h-1zM187 171h2v5h-2zM190 171h1v5h-1zM193 171h2v5h-2zM200 171h1v5h-1zM212 171h1v5h-1zM275 171h2v5h-2zM280 171h1v5h-1zM286 171h1v5h-1zM294 171h1v5h-1zM299 171h1v5h-1zM20 166h1v5h-1zM61 166h1v5h-1zM74 166h1v5h-1zM93 166h1v5h-1zM107 166h1v5h-1zM121 166h1v5h-1zM190 166h1v5h-1zM194 166h1v5h-1zM200 166h1v5h-1zM206 166h1v5h-1zM270 166h2v5h-2zM285 166h2v5h-2zM294 166h1v5h-1zM20 161h1v5h-1zM59 161h1v5h-1zM66 161h1v5h-1zM70 161h1v5h-1zM74 161h1v5h-1zM80 161h1v5h-1zM88 161h1v5h-1zM93 161h1v5h-1zM119 161h1v5h-1zM184 161h1v5h-1zM190 161h1v5h-1zM202 161h1v5h-1zM262 161h1v5h-1zM271 161h1v5h-1zM276 161h1v5h-1zM280 161h1v5h-1zM285 161h1v5h-1zM294 161h1v5h-1zM299 161h1v5h-1zM21 156h1v5h-1zM80 156h1v5h-1zM93 156h1v5h-1zM119 156h1v5h-1zM177 156h1v5h-1zM184 156h1v5h-1zM190 156h1v5h-1zM195 156h1v5h-1zM202 156h1v5h-1zM271 156h1v5h-1zM276 156h1v5h-1zM286 156h1v5h-1zM21 151h1v5h-1zM66 151h1v5h-1zM79 151h1v5h-1zM82 151h1v5h-1zM88 151h1v5h-1zM93 151h1v5h-1zM104 151h1v5h-1zM178 151h1v5h-1zM180 151h1v5h-1zM184 151h1v5h-1zM202 151h1v5h-1zM271 151h1v5h-1zM283 151h1v5h-1zM20 146h1v5h-1zM85 146h1v5h-1zM88 146h1v5h-1zM100 146h1v5h-1zM105 146h1v5h-1zM178 146h1v5h-1zM184 146h1v5h-1zM190 146h1v5h-1zM271 146h1v5h-1zM276 146h1v5h-1zM20 141h2v5h-2zM85 141h1v5h-1zM95 141h2v5h-2zM103 141h1v5h-1zM105 141h1v5h-1zM122 141h1v5h-1zM177 141h2v5h-2zM283 141h1v5h-1zM287 141h1v5h-1zM75 136h1v5h-1zM96 136h1v5h-1zM190 136h1v5h-1zM287 136h1v5h-1zM71 131h1v5h-1zM76 131h1v5h-1zM85 131h1v5h-1zM88 131h1v5h-1zM95 131h2v5h-2zM178 131h2v5h-2zM283 131h1v5h-1zM285 131h1v5h-1zM85 126h1v5h-1zM92 126h1v5h-1zM100 126h1v5h-1zM177 126h3v5h-3zM284 126h2v5h-2zM71 121h1v5h-1zM78 121h1v5h-1zM100 121h1v5h-1zM103 121h3v5h-3zM177 121h3v5h-3zM226 121h1v5h-1zM92 116h1v5h-1zM95 116h1v5h-1zM104 116h1v5h-1zM177 116h1v5h-1zM179 116h1v5h-1zM75 111h1v5h-1zM78 111h1v5h-1zM81 111h1v5h-1zM100 111h1v5h-1zM104 111h1v5h-1zM179 111h1v5h-1zM179 106h1v5h-1zM226 106h1v5h-1zM284 106h1v5h-1zM78 101h1v5h-1zM226 101h2v5h-2zM179 96h1v5h-1zM226 91h1v5h-1zM226 86h1v5h-1zM238 86h1v5h-1zM227 81h1v5h-1zM237 81h1v5h-1zM226 76h1v5h-1zM226 71h2v5h-2zM227 66h1v5h-1zM238 61h1v5h-1zM1 56h1v5h-1zM15 56h1v5h-1zM25 56h1v5h-1zM54 56h1v5h-1zM63 56h1v5h-1zM78 56h1v5h-1zM88 56h1v5h-1zM93 56h1v5h-1zM102 56h1v5h-1zM111 56h1v5h-1zM129 56h1v5h-1zM131 56h1v5h-1zM142 56h1v5h-1zM146 56h1v5h-1zM150 56h1v5h-1zM154 56h1v5h-1zM161 56h1v5h-1zM175 56h1v5h-1zM193 56h1v5h-1zM204 56h1v5h-1zM212 56h2v5h-2zM238 51h1v5h-1zM237 46h2v5h-2zM237 41h2v5h-2zM237 31h1v5h-1zM237 21h1v5h-1z"/>
<path fill="#0000ff" d="M2 273h1v30h-1zM11 273h1v30h-1zM29 273h1v30h-1zM37 273h1v30h-1zM39 273h1v30h-1zM60 273h1v30h-1zM130 273h3v30h-3zM186 273h1v30h-1zM205 273h1v30h-1zM210 273h1v30h-1zM213 273h1v30h-1zM225 273h1v30h-1zM230 273h1v30h-1zM253 273h1v30h-1zM258 273h1v30h-1zM263 273h1v30h-1zM301 273h1v30h-1zM318 273h1v30h-1zM326 273h1v30h-1zM2 255h1v18h-1zM11 255h1v18h-1zM37 255h1v18h-1zM130 255h3v18h-3zM168 255h1v18h-1zM186 255h1v18h-1zM205 255h1v18h-1zM225 255h1v18h-1zM230 255h1v18h-1zM258 255h1v18h-1zM273 255h1v18h-1zM301 255h1v18h-1zM318 255h1v18h-1zM29 242h1v13h-1zM32 242h1v13h-1zM60 242h1v13h-1zM110 242h1v13h-1zM129 242h2v13h-2zM133 242h1v13h-1zM143 242h1v13h-1zM146 242h1v13h-1zM153 242h1v13h-1zM158 242h1v13h-1zM160 242h1v13h-1zM172 242h1v13h-1zM175 242h1v13h-1zM186 242h1v13h-1zM197 242h1v13h-1zM199 242h1v13h-1zM205 242h1v13h-1zM218 242h1v13h-1zM222 242h1v13h-1zM249 242h1v13h-1zM255 242h1v13h-1zM259 242h1v13h-1zM261 242h1v13h-1zM263 242h1v13h-1zM272 242h1v13h-1zM291 242h1v13h-1zM295 242h1v13h-1zM301 242h1v13h-1zM323 242h1v13h-1zM0 232h2v10h-2zM14 232h1v10h-1zM16 232h4v10h-4zM28 232h1v10h-1zM44 232h1v10h-1zM48 232h1v10h-1zM53 232h1v10h-1zM87 232h1v10h-1zM91 232h1v10h-1zM102 232h1v10h-1zM110 232h1v10h-1zM113 232h1v10h-1zM127 232h2v10h-2zM186 232h1v10h-1zM189 232h1v10h-1zM265 232h3v10h-3zM290 232h4v10h-4zM301 232h1v10h-1zM303 232h1v10h-1zM312 232h1v10h-1zM321 232h1v10h-1zM323 232h1v10h-1zM325 232h1v10h-1zM328 232h1v10h-1zM14 224h1v8h-1zM23 224h1v8h-1zM26 224h1v8h-1zM28 224h1v8h-1zM33 224h2v8h-2zM36 224h1v8h-1zM40 224h1v8h-1zM43 224h1v8h-1zM53 224h1v8h-1zM69 224h1v8h-1zM86 224h1v8h-1zM115 224h1v8h-1zM117 224h1v8h-1zM186 224h1v8h-1zM191 224h1v8h-1zM193 224h1v8h-1zM199 224h1v8h-1zM203 224h1v8h-1zM209 224h1v8h-1zM264 224h2v8h-2zM269 224h1v8h-1zM298 224h1v8h-1zM303 224h1v8h-1zM310 224h1v8h-1zM0 218h1v6h-1zM5 218h1v6h-1zM12 218h1v6h-1zM26 218h1v6h-1zM36 218h1v6h-1zM43 218h1v6h-1zM46 218h1v6h-1zM48 218h1v6h-1zM51 218h1v6h-1zM63 218h1v6h-1zM86 218h1v6h-1zM115 218h1v6h-1zM118 218h1v6h-1zM183 218h1v6h-1zM187 218h1v6h-1zM191 218h2v6h-2zM204 218h1v6h-1zM263 218h1v6h-1zM265 218h1v6h-1zM269 218h1v6h-1zM300 218h1v6h-1zM308 218h3v6h-3zM5 212h1v6h-1zM13 212h1v6h-1zM33 212h2v6h-2zM41 212h1v6h-1zM52 212h1v6h-1zM55 212h1v6h-1zM62 212h2v6h-2zM65 212h1v6h-1zM106 212h1v6h-1zM108 212h1v6h-1zM112 212h1v6h-1zM117 212h1v6h-1zM181 212h2v6h-2zM198 212h1v6h-1zM211 212h1v6h-1zM268 212h1v6h-1zM277 212h1v6h-1zM279 212h1v6h-1zM300 212h1v6h-1zM302 212h1v6h-1zM305 212h1v6h-1zM308 212h1v6h-1zM12 206h1v6h-1zM35 206h1v6h-1zM41 206h1v6h-1zM46 206h1v6h-1zM51 206h1v6h-1zM55 206h2v6h-2zM65 206h1v6h-1zM112 206h1v6h-1zM191 206h1v6h-1zM211 206h1v6h-1zM268 206h1v6h-1zM278 206h2v6h-2zM281 206h1v6h-1zM299 206h2v6h-2zM307 206h1v6h-1zM13 201h1v5h-1zM35 201h1v5h-1zM42 201h1v5h-1zM45 201h1v5h-1zM49 201h1v5h-1zM51 201h2v5h-2zM54 201h1v5h-1zM56 201h1v5h-1zM58 201h1v5h-1zM101 201h1v5h-1zM112 201h1v5h-1zM182 201h1v5h-1zM188 201h1v5h-1zM268 201h1v5h-1zM288 201h1v5h-1zM300 201h1v5h-1zM305 201h1v5h-1zM35 196h1v5h-1zM41 196h1v5h-1zM49 196h1v5h-1zM51 196h1v5h-1zM59 196h1v5h-1zM61 196h1v5h-1zM83 196h1v5h-1zM101 196h1v5h-1zM108 196h1v5h-1zM111 196h1v5h-1zM182 196h1v5h-1zM187 196h1v5h-1zM193 196h2v5h-2zM201 196h1v5h-1zM212 196h1v5h-1zM275 196h1v5h-1zM294 196h1v5h-1zM306 196h2v5h-2zM56 191h1v5h-1zM61 191h1v5h-1zM74 191h1v5h-1zM108 191h1v5h-1zM121 191h1v5h-1zM194 191h1v5h-1zM200 191h1v5h-1zM270 191h1v5h-1zM275 191h1v5h-1zM280 191h1v5h-1zM282 191h1v5h-1zM299 191h1v5h-1zM42 186h1v5h-1zM51 186h1v5h-1zM58 186h2v5h-2zM61 186h1v5h-1zM66 186h1v5h-1zM70 186h1v5h-1zM74 186h1v5h-1zM94 186h1v5h-1zM107 186h1v5h-1zM184 186h1v5h-1zM188 186h1v5h-1zM206 186h1v5h-1zM270 186h1v5h-1zM275 186h1v5h-1zM280 186h1v5h-1zM283 186h1v5h-1zM294 186h1v5h-1zM21 181h1v5h-1zM61 181h1v5h-1zM73 181h1v5h-1zM180 181h1v5h-1zM184 181h1v5h-1zM188 181h1v5h-1zM262 181h1v5h-1zM271 181h1v5h-1zM59 176h1v5h-1zM66 176h1v5h-1zM70 176h1v5h-1zM72 176h1v5h-1zM119 176h1v5h-1zM121 176h1v5h-1zM177 176h1v5h-1zM188 176h1v5h-1zM190 176h1v5h-1zM202 176h1v5h-1zM206 176h1v5h-1zM286 176h1v5h-1zM21 171h1v5h-1zM71 171h1v5h-1zM88 171h1v5h-1zM93 171h2v5h-2zM121 171h1v5h-1zM184 171h1v5h-1zM206 171h1v5h-1zM262 171h1v5h-1zM21 166h1v5h-1zM72 166h1v5h-1zM85 166h1v5h-1zM88 166h1v5h-1zM95 166h1v5h-1zM122 166h1v5h-1zM178 166h3v5h-3zM184 166h1v5h-1zM202 166h1v5h-1zM276 166h1v5h-1zM283 166h1v5h-1zM21 161h1v5h-1zM76 161h1v5h-1zM81 161h1v5h-1zM92 161h1v5h-1zM100 161h1v5h-1zM104 161h1v5h-1zM179 161h1v5h-1zM286 161h2v5h-2zM71 156h1v5h-1zM76 156h1v5h-1zM81 156h1v5h-1zM88 156h1v5h-1zM95 156h1v5h-1zM103 156h1v5h-1zM283 156h1v5h-1zM287 156h1v5h-1zM71 151h1v5h-1zM77 151h1v5h-1zM81 151h1v5h-1zM92 151h1v5h-1zM96 151h1v5h-1zM100 151h1v5h-1zM177 151h1v5h-1zM179 151h1v5h-1zM190 151h1v5h-1zM226 151h1v5h-1zM276 151h1v5h-1zM285 151h1v5h-1zM287 151h1v5h-1zM21 146h1v5h-1zM71 146h1v5h-1zM78 146h1v5h-1zM92 146h1v5h-1zM177 146h1v5h-1zM179 146h1v5h-1zM283 146h3v5h-3zM287 146h1v5h-1zM71 141h1v5h-1zM75 141h1v5h-1zM92 141h1v5h-1zM104 141h1v5h-1zM179 141h1v5h-1zM78 136h1v5h-1zM92 136h1v5h-1zM100 136h1v5h-1zM103 136h1v5h-1zM105 136h1v5h-1zM177 136h1v5h-1zM179 136h1v5h-1zM284 136h1v5h-1zM75 131h1v5h-1zM100 131h1v5h-1zM177 131h1v5h-1zM238 131h1v5h-1zM284 131h1v5h-1zM75 126h1v5h-1zM104 126h1v5h-1zM226 126h2v5h-2zM75 121h1v5h-1zM284 121h1v5h-1zM226 111h2v5h-2zM227 106h1v5h-1zM238 106h1v5h-1zM238 101h1v5h-1zM226 96h2v5h-2zM238 96h1v5h-1zM227 91h1v5h-1zM226 81h1v5h-1zM238 81h1v5h-1zM237 76h2v5h-2zM237 71h1v5h-1zM237 66h1v5h-1zM237 61h1v5h-1zM14 56h1v5h-1zM26 56h2v5h-2zM30 56h1v5h-1zM43 56h1v5h-1zM46 56h1v5h-1zM48 56h1v5h-1zM53 56h1v5h-1zM66 56h1v5h-1zM83 56h1v5h-1zM89 56h1v5h-1zM94 56h1v5h-1zM103 56h1v5h-1zM109 56h1v5h-1zM123 56h1v5h-1zM133 56h1v5h-1zM138 56h1v5h-1zM145 56h1v5h-1zM149 56h1v5h-1zM160 56h1v5h-1zM162 56h1v5h-1zM165 56h1v5h-1zM170 56h1v5h-1zM178 56h1v5h-1zM181 56h1v5h-1zM188 56h1v5h-1zM191 56h2v5h-2zM196 56h3v5h-3zM203 56h1v5h-1zM211 56h1v5h-1zM237 51h1v5h-1z"/>
<path fill="#0019ff" d="M9 273h1v30h-1zM15 273h1v30h-1zM22 273h1v30h-1zM32 273h1v30h-1zM47 273h1v30h-1zM68 273h1v30h-1zM110 273h1v30h-1zM114 273h1v30h-1zM133 273h2v30h-2zM152 273h1v30h-1zM168 273h1v30h-1zM199 273h1v30h-1zM203 273h1v30h-1zM218 273h1v30h-1zM222 273h1v30h-1zM290 273h1v30h-1zM293 273h1v30h-1zM303 273h1v30h-1zM317 273h1v30h-1zM323 273h1v30h-1zM9 255h1v18h-1zM15 255h1v18h-1zM29 255h1v18h-1zM32 255h1v18h-1zM39 255h1v18h-1zM47 255h1v18h-1zM60 255h1v18h-1zM114 255h1v18h-1zM116 255h1v18h-1zM129 255h1v18h-1zM134 255h1v18h-1zM152 255h1v18h-1zM158 255h1v18h-1zM199 255h1v18h-1zM203 255h1v18h-1zM209 255h1v18h-1zM218 255h1v18h-1zM222 255h1v18h-1zM247 255h1v18h-1zM253 255h1v18h-1zM261 255h1v18h-1zM263 255h1v18h-1zM290 255h2v18h-2zM293 255h1v18h-1zM296 255h1v18h-1zM303 255h1v18h-1zM317 255h1v18h-1zM323 255h1v18h-1zM326 255h1v18h-1zM1 242h1v13h-1zM18 242h1v13h-1zM38 242h1v13h-1zM68 242h1v13h-1zM86 242h1v13h-1zM113 242h1v13h-1zM125 242h1v13h-1zM140 242h1v13h-1zM161 242h1v13h-1zM201 242h1v13h-1zM243 242h1v13h-1zM250 242h1v13h-1zM256 242h1v13h-1zM293 242h1v13h-1zM298 242h3v13h-3zM302 242h1v13h-1zM311 242h1v13h-1zM320 242h1v13h-1zM325 242h1v13h-1zM4 232h1v10h-1zM7 232h2v10h-2zM23 232h1v10h-1zM25 232h1v10h-1zM31 232h1v10h-1zM34 232h1v10h-1zM38 232h1v10h-1zM40 232h1v10h-1zM47 232h1v10h-1zM67 232h1v10h-1zM69 232h1v10h-1zM98 232h1v10h-1zM108 232h1v10h-1zM126 232h1v10h-1zM182 232h1v10h-1zM196 232h1v10h-1zM256 232h1v10h-1zM295 232h1v10h-1zM299 232h1v10h-1zM308 232h2v10h-2zM13 224h1v8h-1zM25 224h1v8h-1zM46 224h1v8h-1zM48 224h1v8h-1zM50 224h1v8h-1zM52 224h1v8h-1zM67 224h1v8h-1zM181 224h2v8h-2zM299 224h2v8h-2zM302 224h1v8h-1zM321 224h1v8h-1zM330 224h1v8h-1zM10 218h1v6h-1zM13 218h1v6h-1zM35 218h1v6h-1zM41 218h1v6h-1zM52 218h1v6h-1zM55 218h1v6h-1zM181 218h1v6h-1zM185 218h1v6h-1zM212 218h1v6h-1zM278 218h1v6h-1zM281 218h1v6h-1zM304 218h1v6h-1zM321 218h1v6h-1zM45 212h2v6h-2zM50 212h1v6h-1zM86 212h1v6h-1zM109 212h1v6h-1zM183 212h1v6h-1zM187 212h1v6h-1zM191 212h1v6h-1zM194 212h1v6h-1zM206 212h1v6h-1zM310 212h1v6h-1zM45 206h1v6h-1zM49 206h2v6h-2zM54 206h1v6h-1zM61 206h1v6h-1zM89 206h2v6h-2zM119 206h1v6h-1zM193 206h1v6h-1zM270 206h1v6h-1zM282 206h1v6h-1zM286 206h1v6h-1zM305 206h1v6h-1zM308 206h1v6h-1zM61 201h2v5h-2zM111 201h1v5h-1zM119 201h1v5h-1zM180 201h1v5h-1zM184 201h1v5h-1zM193 201h1v5h-1zM200 201h1v5h-1zM202 201h1v5h-1zM206 201h1v5h-1zM262 201h1v5h-1zM280 201h1v5h-1zM304 201h1v5h-1zM307 201h1v5h-1zM21 196h1v5h-1zM42 196h1v5h-1zM56 196h1v5h-1zM58 196h1v5h-1zM66 196h1v5h-1zM106 196h1v5h-1zM119 196h1v5h-1zM180 196h1v5h-1zM188 196h1v5h-1zM200 196h1v5h-1zM262 196h1v5h-1zM270 196h2v5h-2zM276 196h1v5h-1zM280 196h1v5h-1zM287 196h1v5h-1zM299 196h1v5h-1zM20 191h1v5h-1zM59 191h1v5h-1zM80 191h1v5h-1zM82 191h1v5h-1zM88 191h1v5h-1zM107 191h1v5h-1zM119 191h1v5h-1zM188 191h1v5h-1zM202 191h1v5h-1zM206 191h1v5h-1zM271 191h1v5h-1zM72 186h2v5h-2zM122 186h1v5h-1zM179 186h1v5h-1zM190 186h1v5h-1zM195 186h1v5h-1zM200 186h1v5h-1zM276 186h1v5h-1zM20 181h1v5h-1zM70 181h1v5h-1zM79 181h1v5h-1zM93 181h1v5h-1zM276 181h1v5h-1zM285 181h1v5h-1zM287 181h1v5h-1zM80 176h1v5h-1zM180 176h1v5h-1zM276 176h1v5h-1zM77 171h1v5h-1zM82 171h1v5h-1zM104 171h1v5h-1zM178 171h3v5h-3zM271 171h1v5h-1zM285 171h1v5h-1zM287 171h1v5h-1zM75 166h2v5h-2zM96 166h1v5h-1zM227 166h1v5h-1zM284 166h1v5h-1zM287 166h1v5h-1zM77 161h1v5h-1zM85 161h1v5h-1zM122 161h1v5h-1zM177 161h1v5h-1zM283 161h1v5h-1zM20 156h1v5h-1zM85 156h1v5h-1zM92 156h1v5h-1zM178 156h1v5h-1zM78 151h1v5h-1zM95 151h1v5h-1zM103 151h1v5h-1zM75 146h1v5h-1zM81 146h1v5h-1zM95 146h1v5h-1zM103 146h2v5h-2zM78 141h1v5h-1zM100 141h1v5h-1zM284 141h1v5h-1zM226 131h1v5h-1zM237 131h1v5h-1zM238 126h1v5h-1zM227 121h1v5h-1zM226 116h2v5h-2zM237 116h1v5h-1zM237 106h1v5h-1zM237 101h1v5h-1zM237 91h1v5h-1zM237 86h1v5h-1zM5 56h1v5h-1zM8 56h1v5h-1zM11 56h1v5h-1zM16 56h3v5h-3zM44 56h1v5h-1zM58 56h1v5h-1zM69 56h1v5h-1zM84 56h1v5h-1zM86 56h1v5h-1zM110 56h1v5h-1zM115 56h1v5h-1zM118 56h1v5h-1zM124 56h1v5h-1zM126 56h1v5h-1zM128 56h1v5h-1zM130 56h1v5h-1zM134 56h1v5h-1zM136 56h1v5h-1zM141 56h1v5h-1zM153 56h1v5h-1zM163 56h1v5h-1zM166 56h1v5h-1zM183 56h1v5h-1zM186 56h1v5h-1zM208 56h2v5h-2z"/>
<path fill="#0032ff" d="M18 273h1v30h-1zM87 273h1v30h-1zM102 273h1v30h-1zM116 273h1v30h-1zM129 273h1v30h-1zM140 273h1v30h-1zM143 273h1v30h-1zM158 273h1v30h-1zM160 273h1v30h-1zM172 273h1v30h-1zM175 273h1v30h-1zM189 273h1v30h-1zM209 273h1v30h-1zM228 273h1v30h-1zM243 273h1v30h-1zM247 273h1v30h-1zM249 273h1v30h-1zM261 273h1v30h-1zM291 273h1v30h-1zM296 273h1v30h-1zM311 273h2v30h-2zM320 273h1v30h-1zM328 273h1v30h-1zM18 255h1v18h-1zM22 255h1v18h-1zM68 255h1v18h-1zM87 255h1v18h-1zM102 255h1v18h-1zM110 255h1v18h-1zM133 255h1v18h-1zM144 255h1v18h-1zM160 255h2v18h-2zM189 255h1v18h-1zM243 255h1v18h-1zM249 255h2v18h-2zM311 255h2v18h-2zM320 255h1v18h-1zM328 255h1v18h-1zM7 242h1v13h-1zM24 242h1v13h-1zM27 242h1v13h-1zM31 242h1v13h-1zM108 242h1v13h-1zM123 242h1v13h-1zM126 242h1v13h-1zM138 242h1v13h-1zM151 242h1v13h-1zM193 242h1v13h-1zM209 242h1v13h-1zM252 242h1v13h-1zM267 242h1v13h-1zM303 242h1v13h-1zM328 242h2v13h-2zM49 232h1v10h-1zM64 232h1v10h-1zM181 232h1v10h-1zM201 232h1v10h-1zM211 232h1v10h-1zM268 232h1v10h-1zM302 232h1v10h-1zM330 232h1v10h-1zM3 224h1v8h-1zM12 224h1v8h-1zM35 224h1v8h-1zM42 224h1v8h-1zM49 224h1v8h-1zM51 224h1v8h-1zM61 224h1v8h-1zM63 224h1v8h-1zM65 224h1v8h-1zM108 224h1v8h-1zM187 224h1v8h-1zM204 224h1v8h-1zM211 224h1v8h-1zM268 224h1v8h-1zM270 224h1v8h-1zM277 224h1v8h-1zM279 224h1v8h-1zM281 224h1v8h-1zM307 224h2v8h-2zM45 218h1v6h-1zM50 218h1v6h-1zM54 218h1v6h-1zM89 218h1v6h-1zM112 218h1v6h-1zM182 218h1v6h-1zM193 218h2v6h-2zM200 218h1v6h-1zM211 218h1v6h-1zM275 218h1v6h-1zM277 218h1v6h-1zM289 218h1v6h-1zM299 218h1v6h-1zM306 218h2v6h-2zM20 212h1v6h-1zM35 212h1v6h-1zM42 212h1v6h-1zM49 212h1v6h-1zM51 212h1v6h-1zM54 212h1v6h-1zM56 212h1v6h-1zM59 212h1v6h-1zM101 212h1v6h-1zM122 212h1v6h-1zM262 212h1v6h-1zM275 212h1v6h-1zM278 212h1v6h-1zM280 212h1v6h-1zM282 212h1v6h-1zM294 212h1v6h-1zM299 212h1v6h-1zM21 206h1v6h-1zM42 206h1v6h-1zM72 206h1v6h-1zM94 206h1v6h-1zM101 206h1v6h-1zM206 206h1v6h-1zM212 206h1v6h-1zM262 206h1v6h-1zM306 206h1v6h-1zM21 201h1v5h-1zM59 201h1v5h-1zM66 201h1v5h-1zM94 201h1v5h-1zM194 201h2v5h-2zM212 201h1v5h-1zM270 201h1v5h-1zM275 201h1v5h-1zM286 201h1v5h-1zM294 201h1v5h-1zM77 196h1v5h-1zM88 196h1v5h-1zM96 196h1v5h-1zM107 196h1v5h-1zM179 196h1v5h-1zM184 196h1v5h-1zM195 196h1v5h-1zM206 196h1v5h-1zM286 196h1v5h-1zM66 191h1v5h-1zM73 191h1v5h-1zM177 191h1v5h-1zM276 191h1v5h-1zM286 191h1v5h-1zM294 191h1v5h-1zM306 191h1v5h-1zM88 186h1v5h-1zM177 186h1v5h-1zM262 186h1v5h-1zM271 186h1v5h-1zM286 186h1v5h-1zM306 186h1v5h-1zM75 181h1v5h-1zM82 181h1v5h-1zM85 181h1v5h-1zM88 181h1v5h-1zM122 181h1v5h-1zM284 181h1v5h-1zM88 176h1v5h-1zM100 176h1v5h-1zM122 176h1v5h-1zM227 176h1v5h-1zM238 176h1v5h-1zM271 176h1v5h-1zM283 176h1v5h-1zM285 176h1v5h-1zM287 176h1v5h-1zM20 171h1v5h-1zM105 171h1v5h-1zM177 171h1v5h-1zM283 171h1v5h-1zM100 166h1v5h-1zM105 166h1v5h-1zM177 166h1v5h-1zM288 166h1v5h-1zM95 161h1v5h-1zM103 161h1v5h-1zM197 161h1v5h-1zM237 161h1v5h-1zM75 156h1v5h-1zM96 156h1v5h-1zM100 156h1v5h-1zM104 156h1v5h-1zM179 156h1v5h-1zM238 156h1v5h-1zM284 156h1v5h-1zM75 151h1v5h-1zM226 141h1v5h-1zM227 136h1v5h-1zM238 116h1v5h-1zM238 111h1v5h-1zM237 96h1v5h-1z"/>
<path fill="#004cff" d="M84 273h1v30h-1zM86 273h1v30h-1zM91 273h1v30h-1zM98 273h1v30h-1zM113 273h1v30h-1zM144 273h1v30h-1zM151 273h1v30h-1zM161 273h1v30h-1zM196 273h1v30h-1zM250 273h1v30h-1zM252 273h1v30h-1zM255 273h1v30h-1zM259 273h1v30h-1zM267 273h1v30h-1zM295 273h1v30h-1zM325 273h1v30h-1zM329 273h1v30h-1zM84 255h1v18h-1zM91 255h1v18h-1zM98 255h1v18h-1zM108 255h1v18h-1zM113 255h1v18h-1zM140 255h1v18h-1zM143 255h1v18h-1zM151 255h1v18h-1zM153 255h1v18h-1zM172 255h1v18h-1zM175 255h1v18h-1zM255 255h1v18h-1zM259 255h1v18h-1zM267 255h1v18h-1zM295 255h1v18h-1zM309 255h1v18h-1zM321 255h1v18h-1zM329 255h1v18h-1zM6 242h1v13h-1zM16 242h2v13h-2zM33 242h1v13h-1zM48 242h1v13h-1zM84 242h1v13h-1zM98 242h1v13h-1zM118 242h1v13h-1zM181 242h2v13h-2zM192 242h1v13h-1zM254 242h1v13h-1zM265 242h2v13h-2zM268 242h1v13h-1zM292 242h1v13h-1zM308 242h1v13h-1zM5 232h1v10h-1zM13 232h1v10h-1zM20 232h1v10h-1zM35 232h1v10h-1zM45 232h1v10h-1zM54 232h1v10h-1zM63 232h1v10h-1zM115 232h1v10h-1zM120 232h1v10h-1zM183 232h1v10h-1zM187 232h1v10h-1zM192 232h1v10h-1zM269 232h2v10h-2zM310 232h1v10h-1zM5 224h1v8h-1zM54 224h2v8h-2zM94 224h1v8h-1zM109 224h1v8h-1zM111 224h1v8h-1zM278 224h1v8h-1zM288 224h1v8h-1zM305 224h1v8h-1zM3 218h1v6h-1zM42 218h1v6h-1zM49 218h1v6h-1zM58 218h1v6h-1zM72 218h1v6h-1zM177 218h1v6h-1zM184 218h1v6h-1zM195 218h1v6h-1zM206 218h1v6h-1zM282 218h1v6h-1zM287 218h1v6h-1zM21 212h1v6h-1zM58 212h1v6h-1zM61 212h1v6h-1zM83 212h1v6h-1zM100 212h1v6h-1zM226 212h1v6h-1zM285 212h1v6h-1zM304 212h1v6h-1zM307 212h1v6h-1zM58 206h2v6h-2zM70 206h1v6h-1zM83 206h1v6h-1zM93 206h1v6h-1zM104 206h1v6h-1zM111 206h1v6h-1zM122 206h1v6h-1zM179 206h2v6h-2zM184 206h1v6h-1zM188 206h1v6h-1zM194 206h2v6h-2zM275 206h2v6h-2zM284 206h1v6h-1zM294 206h1v6h-1zM70 201h1v5h-1zM75 201h3v5h-3zM83 201h1v5h-1zM121 201h1v5h-1zM179 201h1v5h-1zM190 201h1v5h-1zM271 201h1v5h-1zM276 201h1v5h-1zM62 196h1v5h-1zM75 196h1v5h-1zM79 196h1v5h-1zM81 196h1v5h-1zM94 196h1v5h-1zM122 196h1v5h-1zM177 196h1v5h-1zM226 196h1v5h-1zM21 191h1v5h-1zM70 191h1v5h-1zM103 191h1v5h-1zM179 191h2v5h-2zM190 191h1v5h-1zM262 191h1v5h-1zM285 191h1v5h-1zM287 191h1v5h-1zM21 186h1v5h-1zM62 186h1v5h-1zM75 186h1v5h-1zM82 186h1v5h-1zM85 186h1v5h-1zM93 186h1v5h-1zM103 186h1v5h-1zM180 186h1v5h-1zM197 186h1v5h-1zM285 186h1v5h-1zM288 186h1v5h-1zM297 186h1v5h-1zM177 181h3v5h-3zM279 181h1v5h-1zM283 181h1v5h-1zM297 181h1v5h-1zM75 176h1v5h-1zM92 176h1v5h-1zM184 176h1v5h-1zM288 176h1v5h-1zM81 171h1v5h-1zM92 171h1v5h-1zM100 171h1v5h-1zM306 171h1v5h-1zM57 166h1v5h-1zM92 166h1v5h-1zM214 166h1v5h-1zM226 166h1v5h-1zM75 161h1v5h-1zM226 161h1v5h-1zM238 161h1v5h-1zM284 161h1v5h-1zM189 156h1v5h-1zM226 146h1v5h-1zM237 141h1v5h-1zM238 136h1v5h-1zM237 121h1v5h-1zM110 116h1v5h-1zM237 111h1v5h-1z"/>
<path fill="#0065ff" d="M16 273h1v30h-1zM108 273h1v30h-1zM138 273h1v30h-1zM170 273h1v30h-1zM181 273h1v30h-1zM201 273h1v30h-1zM211 273h1v30h-1zM215 273h1v30h-1zM254 273h1v30h-1zM256 273h1v30h-1zM268 273h1v30h-1zM298 273h3v30h-3zM302 273h1v30h-1zM309 273h1v30h-1zM321 273h1v30h-1zM86 255h1v18h-1zM146 255h1v18h-1zM149 255h1v18h-1zM170 255h1v18h-1zM181 255h1v18h-1zM185 255h1v18h-1zM187 255h1v18h-1zM196 255h1v18h-1zM201 255h1v18h-1zM211 255h1v18h-1zM215 255h1v18h-1zM228 255h1v18h-1zM252 255h1v18h-1zM256 255h1v18h-1zM266 255h1v18h-1zM268 255h1v18h-1zM292 255h1v18h-1zM298 255h1v18h-1zM300 255h1v18h-1zM302 255h1v18h-1zM325 255h1v18h-1zM4 242h1v13h-1zM10 242h1v13h-1zM13 242h1v13h-1zM25 242h2v13h-2zM35 242h1v13h-1zM54 242h1v13h-1zM128 242h1v13h-1zM196 242h1v13h-1zM204 242h1v13h-1zM211 242h1v13h-1zM296 242h1v13h-1zM309 242h1v13h-1zM321 242h1v13h-1zM10 232h1v10h-1zM12 232h1v10h-1zM33 232h1v10h-1zM36 232h1v10h-1zM41 232h1v10h-1zM46 232h1v10h-1zM57 232h1v10h-1zM70 232h1v10h-1zM90 232h1v10h-1zM92 232h1v10h-1zM106 232h1v10h-1zM204 232h1v10h-1zM264 232h1v10h-1zM275 232h1v10h-1zM279 232h1v10h-1zM289 232h1v10h-1zM300 232h1v10h-1zM10 224h1v8h-1zM41 224h1v8h-1zM45 224h1v8h-1zM59 224h1v8h-1zM70 224h1v8h-1zM101 224h1v8h-1zM107 224h1v8h-1zM121 224h1v8h-1zM180 224h1v8h-1zM197 224h1v8h-1zM200 224h1v8h-1zM282 224h1v8h-1zM286 224h1v8h-1zM296 224h1v8h-1zM304 224h1v8h-1zM56 218h2v6h-2zM62 218h1v6h-1zM65 218h1v6h-1zM101 218h1v6h-1zM107 218h1v6h-1zM119 218h1v6h-1zM179 218h1v6h-1zM262 218h1v6h-1zM270 218h1v6h-1zM280 218h1v6h-1zM305 218h1v6h-1zM66 212h1v6h-1zM73 212h1v6h-1zM85 212h1v6h-1zM94 212h1v6h-1zM107 212h1v6h-1zM178 212h1v6h-1zM185 212h1v6h-1zM189 212h1v6h-1zM196 212h1v6h-1zM212 212h1v6h-1zM283 212h1v6h-1zM286 212h1v6h-1zM297 212h1v6h-1zM306 212h1v6h-1zM66 206h1v6h-1zM76 206h1v6h-1zM107 206h1v6h-1zM190 206h1v6h-1zM200 206h1v6h-1zM271 206h1v6h-1zM287 206h1v6h-1zM296 206h1v6h-1zM107 201h1v5h-1zM122 201h1v5h-1zM287 201h1v5h-1zM297 201h1v5h-1zM306 201h1v5h-1zM57 196h1v5h-1zM70 196h1v5h-1zM80 196h1v5h-1zM93 196h1v5h-1zM121 196h1v5h-1zM190 196h1v5h-1zM214 196h1v5h-1zM62 191h1v5h-1zM76 191h1v5h-1zM93 191h1v5h-1zM96 191h1v5h-1zM122 191h1v5h-1zM184 191h1v5h-1zM283 191h2v5h-2zM288 191h1v5h-1zM20 186h1v5h-1zM76 186h1v5h-1zM178 186h1v5h-1zM189 186h1v5h-1zM202 186h1v5h-1zM226 186h1v5h-1zM71 181h1v5h-1zM108 181h1v5h-1zM20 176h1v5h-1zM179 176h1v5h-1zM226 176h1v5h-1zM96 171h1v5h-1zM103 171h1v5h-1zM109 171h1v5h-1zM197 171h1v5h-1zM103 166h1v5h-1zM226 156h2v5h-2zM237 151h2v5h-2zM284 151h1v5h-1zM110 136h1v5h-1zM117 136h1v5h-1zM121 131h1v5h-1zM110 121h1v5h-1zM121 121h1v5h-1zM117 106h1v5h-1zM104 101h1v5h-1zM104 86h1v5h-1zM84 81h1v5h-1zM84 76h1v5h-1zM95 76h1v5h-1zM121 71h1v5h-1zM90 66h1v5h-1zM96 61h1v5h-1zM86 46h1v5h-1zM89 46h1v5h-1zM79 26h1v5h-1z"/>
<path fill="#007fff" d="M0 273h2v30h-2zM128 273h1v30h-1zM146 273h1v30h-1zM149 273h1v30h-1zM153 273h1v30h-1zM183 273h1v30h-1zM185 273h1v30h-1zM187 273h1v30h-1zM191 273h1v30h-1zM204 273h1v30h-1zM266 273h1v30h-1zM292 273h1v30h-1zM330 273h1v30h-1zM1 255h1v18h-1zM16 255h1v18h-1zM125 255h1v18h-1zM138 255h1v18h-1zM183 255h1v18h-1zM193 255h1v18h-1zM204 255h1v18h-1zM254 255h1v18h-1zM299 255h1v18h-1zM308 255h1v18h-1zM330 255h1v18h-1zM5 242h1v13h-1zM28 242h1v13h-1zM36 242h1v13h-1zM41 242h1v13h-1zM44 242h1v13h-1zM53 242h1v13h-1zM69 242h1v13h-1zM90 242h1v13h-1zM95 242h1v13h-1zM127 242h1v13h-1zM195 242h1v13h-1zM200 242h1v13h-1zM212 242h1v13h-1zM330 242h1v13h-1zM3 232h1v10h-1zM26 232h1v10h-1zM43 232h1v10h-1zM58 232h1v10h-1zM61 232h1v10h-1zM93 232h1v10h-1zM101 232h1v10h-1zM107 232h1v10h-1zM109 232h1v10h-1zM112 232h1v10h-1zM185 232h1v10h-1zM191 232h1v10h-1zM193 232h2v10h-2zM206 232h1v10h-1zM280 232h1v10h-1zM288 232h1v10h-1zM296 232h2v10h-2zM307 232h1v10h-1zM56 224h3v8h-3zM62 224h1v8h-1zM112 224h1v8h-1zM195 224h1v8h-1zM206 224h1v8h-1zM212 224h1v8h-1zM306 224h1v8h-1zM61 218h1v6h-1zM77 218h1v6h-1zM108 218h1v6h-1zM180 218h1v6h-1zM188 218h1v6h-1zM197 218h1v6h-1zM201 218h2v6h-2zM271 218h1v6h-1zM111 212h1v6h-1zM119 212h2v6h-2zM177 212h1v6h-1zM179 212h1v6h-1zM184 212h1v6h-1zM188 212h1v6h-1zM195 212h1v6h-1zM200 212h1v6h-1zM270 212h2v6h-2zM276 212h1v6h-1zM289 212h1v6h-1zM20 206h1v6h-1zM62 206h1v6h-1zM103 206h1v6h-1zM283 206h1v6h-1zM20 201h1v5h-1zM93 201h1v5h-1zM120 201h1v5h-1zM227 201h1v5h-1zM284 201h1v5h-1zM20 196h1v5h-1zM85 196h1v5h-1zM117 196h1v5h-1zM189 196h1v5h-1zM285 196h1v5h-1zM288 196h1v5h-1zM94 191h1v5h-1zM110 191h1v5h-1zM77 186h1v5h-1zM91 186h1v5h-1zM100 186h1v5h-1zM214 186h1v5h-1zM284 186h1v5h-1zM77 181h1v5h-1zM95 181h1v5h-1zM100 181h1v5h-1zM103 181h1v5h-1zM116 181h1v5h-1zM190 181h1v5h-1zM214 181h1v5h-1zM104 176h1v5h-1zM116 176h1v5h-1zM178 176h1v5h-1zM284 176h1v5h-1zM75 171h1v5h-1zM226 171h2v5h-2zM99 166h1v5h-1zM104 166h1v5h-1zM98 161h1v5h-1zM110 156h1v5h-1zM117 156h1v5h-1zM83 141h1v5h-1zM84 131h1v5h-1zM227 131h1v5h-1zM89 126h1v5h-1zM96 126h2v5h-2zM237 126h1v5h-1zM96 121h1v5h-1zM75 116h1v5h-1zM113 101h1v5h-1zM84 86h1v5h-1zM78 81h1v5h-1zM85 76h1v5h-1zM96 76h1v5h-1zM96 71h1v5h-1zM81 66h1v5h-1zM96 66h1v5h-1zM110 66h1v5h-1zM85 61h1v5h-1zM90 61h1v5h-1zM77 51h1v5h-1zM77 36h1v5h-1zM71 31h1v5h-1zM77 31h1v5h-1zM96 21h1v5h-1zM120 11h1v5h-1z"/>
<path fill="#0099ff" d="M17 273h1v30h-1zM24 273h1v30h-1zM28 273h1v30h-1zM33 273h1v30h-1zM38 273h1v30h-1zM63 273h1v30h-1zM125 273h1v30h-1zM193 273h1v30h-1zM308 273h1v30h-1zM0 255h1v18h-1zM17 255h1v18h-1zM23 255h2v18h-2zM28 255h1v18h-1zM33 255h1v18h-1zM128 255h1v18h-1zM191 255h1v18h-1zM0 242h1v13h-1zM8 242h1v13h-1zM14 242h1v13h-1zM20 242h1v13h-1zM23 242h1v13h-1zM34 242h1v13h-1zM43 242h1v13h-1zM46 242h1v13h-1zM74 242h1v13h-1zM185 242h1v13h-1zM187 242h1v13h-1zM189 242h1v13h-1zM206 242h1v13h-1zM264 242h1v13h-1zM305 242h1v13h-1zM50 232h1v10h-1zM52 232h1v10h-1zM55 232h1v10h-1zM62 232h1v10h-1zM65 232h1v10h-1zM96 232h1v10h-1zM184 232h1v10h-1zM188 232h1v10h-1zM200 232h1v10h-1zM202 232h1v10h-1zM212 232h1v10h-1zM271 232h1v10h-1zM281 232h1v10h-1zM283 232h2v10h-2zM286 232h1v10h-1zM298 232h1v10h-1zM304 232h2v10h-2zM66 224h1v8h-1zM78 224h1v8h-1zM100 224h1v8h-1zM106 224h1v8h-1zM119 224h1v8h-1zM183 224h1v8h-1zM185 224h1v8h-1zM189 224h2v8h-2zM213 224h1v8h-1zM275 224h1v8h-1zM280 224h1v8h-1zM289 224h1v8h-1zM294 224h1v8h-1zM59 218h1v6h-1zM66 218h1v6h-1zM78 218h1v6h-1zM100 218h1v6h-1zM116 218h2v6h-2zM120 218h1v6h-1zM198 218h1v6h-1zM279 218h1v6h-1zM285 218h2v6h-2zM288 218h1v6h-1zM57 212h1v6h-1zM93 212h1v6h-1zM105 212h1v6h-1zM238 212h1v6h-1zM78 206h2v6h-2zM82 206h1v6h-1zM86 206h1v6h-1zM213 206h2v6h-2zM280 206h1v6h-1zM285 206h1v6h-1zM82 201h1v5h-1zM103 201h1v5h-1zM109 201h1v5h-1zM177 201h1v5h-1zM226 201h1v5h-1zM237 201h1v5h-1zM285 201h1v5h-1zM103 196h1v5h-1zM115 196h1v5h-1zM202 196h1v5h-1zM237 196h1v5h-1zM283 196h1v5h-1zM104 191h1v5h-1zM185 191h1v5h-1zM226 191h1v5h-1zM78 186h1v5h-1zM97 186h1v5h-1zM104 186h2v5h-2zM287 186h1v5h-1zM80 181h1v5h-1zM96 181h1v5h-1zM98 181h1v5h-1zM121 181h1v5h-1zM226 181h1v5h-1zM98 176h1v5h-1zM103 176h1v5h-1zM117 171h1v5h-1zM237 171h1v5h-1zM284 171h1v5h-1zM71 166h1v5h-1zM84 166h1v5h-1zM83 161h1v5h-1zM105 161h1v5h-1zM117 161h1v5h-1zM178 161h1v5h-1zM86 156h1v5h-1zM89 156h2v5h-2zM97 156h1v5h-1zM105 156h1v5h-1zM285 156h1v5h-1zM84 151h1v5h-1zM99 151h1v5h-1zM110 151h1v5h-1zM80 146h1v5h-1zM117 146h1v5h-1zM227 146h1v5h-1zM237 146h1v5h-1zM76 141h1v5h-1zM81 141h1v5h-1zM90 141h1v5h-1zM99 141h1v5h-1zM238 141h1v5h-1zM71 136h3v5h-3zM99 136h1v5h-1zM104 136h1v5h-1zM237 136h1v5h-1zM285 136h1v5h-1zM80 131h1v5h-1zM104 131h1v5h-1zM81 126h1v5h-1zM84 126h1v5h-1zM90 121h1v5h-1zM99 116h1v5h-1zM284 111h1v5h-1zM98 106h1v5h-1zM90 101h1v5h-1zM84 96h1v5h-1zM77 86h1v5h-1zM90 81h1v5h-1zM77 76h1v5h-1zM81 76h1v5h-1zM179 76h1v5h-1zM77 71h1v5h-1zM81 71h1v5h-1zM82 56h1v5h-1zM72 51h1v5h-1zM77 46h1v5h-1zM92 46h1v5h-1zM105 41h1v5h-1zM111 26h1v5h-1zM90 21h1v5h-1zM112 21h1v5h-1zM119 21h1v5h-1zM238 11h1v5h-1zM99 6h1v5h-1z"/>
<path fill="#00b2ff" d="M7 273h1v30h-1zM14 273h1v30h-1zM23 273h1v30h-1zM27 273h1v30h-1zM31 273h1v30h-1zM46 273h1v30h-1zM52 273h1v30h-1zM127 273h1v30h-1zM182 273h1v30h-1zM265 273h1v30h-1zM281 273h2v30h-2zM289 273h1v30h-1zM7 255h1v18h-1zM14 255h1v18h-1zM27 255h1v18h-1zM38 255h1v18h-1zM41 255h1v18h-1zM46 255h1v18h-1zM265 255h1v18h-1zM281 255h2v18h-2zM49 242h1v13h-1zM63 242h1v13h-1zM67 242h1v13h-1zM87 242h1v13h-1zM116 242h2v13h-2zM191 242h1v13h-1zM203 242h1v13h-1zM227 242h1v13h-1zM269 242h2v13h-2zM280 242h1v13h-1zM282 242h1v13h-1zM284 242h2v13h-2zM297 242h1v13h-1zM42 232h1v10h-1zM51 232h1v10h-1zM56 232h1v10h-1zM59 232h1v10h-1zM66 232h1v10h-1zM71 232h1v10h-1zM75 232h1v10h-1zM111 232h1v10h-1zM121 232h1v10h-1zM177 232h1v10h-1zM190 232h1v10h-1zM198 232h1v10h-1zM277 232h2v10h-2zM306 232h1v10h-1zM20 224h1v8h-1zM90 224h1v8h-1zM103 224h1v8h-1zM120 224h1v8h-1zM179 224h1v8h-1zM184 224h1v8h-1zM194 224h1v8h-1zM196 224h1v8h-1zM198 224h1v8h-1zM201 224h2v8h-2zM226 224h1v8h-1zM237 224h1v8h-1zM262 224h1v8h-1zM276 224h1v8h-1zM287 224h1v8h-1zM20 218h1v6h-1zM178 218h1v6h-1zM276 218h1v6h-1zM283 218h2v6h-2zM294 218h1v6h-1zM70 212h1v6h-1zM72 212h1v6h-1zM74 212h1v6h-1zM84 212h1v6h-1zM121 212h1v6h-1zM180 212h1v6h-1zM190 212h1v6h-1zM202 212h1v6h-1zM213 212h2v6h-2zM287 212h2v6h-2zM74 206h1v6h-1zM80 206h1v6h-1zM96 206h1v6h-1zM100 206h1v6h-1zM106 206h1v6h-1zM110 206h1v6h-1zM120 206h2v6h-2zM177 206h2v6h-2zM202 206h1v6h-1zM80 201h1v5h-1zM85 201h1v5h-1zM89 201h1v5h-1zM95 201h1v5h-1zM117 201h1v5h-1zM214 201h1v5h-1zM238 201h1v5h-1zM283 201h1v5h-1zM74 196h1v5h-1zM78 196h1v5h-1zM82 196h1v5h-1zM100 196h1v5h-1zM104 196h1v5h-1zM284 196h1v5h-1zM71 191h1v5h-1zM75 191h1v5h-1zM83 191h1v5h-1zM178 191h1v5h-1zM81 186h1v5h-1zM90 186h1v5h-1zM110 186h1v5h-1zM116 186h2v5h-2zM121 186h1v5h-1zM227 186h1v5h-1zM74 181h1v5h-1zM78 181h1v5h-1zM81 181h1v5h-1zM104 181h2v5h-2zM96 176h1v5h-1zM90 171h1v5h-1zM99 171h1v5h-1zM101 171h1v5h-1zM77 166h1v5h-1zM80 166h1v5h-1zM82 166h1v5h-1zM89 166h1v5h-1zM110 166h1v5h-1zM117 166h1v5h-1zM71 161h1v5h-1zM73 161h1v5h-1zM89 161h1v5h-1zM96 161h1v5h-1zM99 161h1v5h-1zM110 161h1v5h-1zM78 156h1v5h-1zM82 156h2v5h-2zM73 151h1v5h-1zM85 151h1v5h-1zM91 151h1v5h-1zM97 151h1v5h-1zM105 151h1v5h-1zM227 151h1v5h-1zM76 146h1v5h-1zM89 146h1v5h-1zM96 146h1v5h-1zM99 146h1v5h-1zM121 146h1v5h-1zM80 141h1v5h-1zM97 141h1v5h-1zM120 141h1v5h-1zM227 141h1v5h-1zM77 136h1v5h-1zM81 136h1v5h-1zM90 136h1v5h-1zM90 131h1v5h-1zM97 131h1v5h-1zM105 131h1v5h-1zM83 126h1v5h-1zM91 126h1v5h-1zM91 121h1v5h-1zM238 121h1v5h-1zM72 116h1v5h-1zM96 116h1v5h-1zM73 111h1v5h-1zM77 111h1v5h-1zM84 111h1v5h-1zM96 111h2v5h-2zM84 106h1v5h-1zM103 96h1v5h-1zM102 91h1v5h-1zM238 91h1v5h-1zM71 76h1v5h-1zM78 76h1v5h-1zM94 61h1v5h-1zM72 46h1v5h-1zM71 41h1v5h-1z"/>
<path fill="#00ccff" d="M4 273h1v30h-1zM6 273h1v30h-1zM19 273h1v30h-1zM36 273h1v30h-1zM48 273h1v30h-1zM50 273h1v30h-1zM53 273h1v30h-1zM55 273h1v30h-1zM69 273h1v30h-1zM126 273h1v30h-1zM192 273h1v30h-1zM202 273h1v30h-1zM206 273h1v30h-1zM212 273h1v30h-1zM264 273h1v30h-1zM269 273h1v30h-1zM280 273h1v30h-1zM4 255h1v18h-1zM36 255h1v18h-1zM48 255h4v18h-4zM53 255h1v18h-1zM55 255h1v18h-1zM63 255h1v18h-1zM69 255h1v18h-1zM126 255h1v18h-1zM182 255h1v18h-1zM192 255h1v18h-1zM212 255h1v18h-1zM264 255h1v18h-1zM280 255h1v18h-1zM289 255h1v18h-1zM19 242h1v13h-1zM40 242h1v13h-1zM45 242h1v13h-1zM57 242h1v13h-1zM64 242h3v13h-3zM93 242h1v13h-1zM112 242h1v13h-1zM119 242h2v13h-2zM180 242h1v13h-1zM184 242h1v13h-1zM188 242h1v13h-1zM190 242h1v13h-1zM198 242h1v13h-1zM202 242h1v13h-1zM281 242h1v13h-1zM287 242h1v13h-1zM289 242h1v13h-1zM304 242h1v13h-1zM306 242h1v13h-1zM82 232h1v10h-1zM84 232h1v10h-1zM94 232h1v10h-1zM100 232h1v10h-1zM119 232h1v10h-1zM179 232h1v10h-1zM213 232h1v10h-1zM226 232h1v10h-1zM71 224h1v8h-1zM82 224h1v8h-1zM92 224h2v8h-2zM104 224h1v8h-1zM114 224h1v8h-1zM177 224h1v8h-1zM188 224h1v8h-1zM283 224h2v8h-2zM21 218h1v6h-1zM70 218h2v6h-2zM73 218h1v6h-1zM81 218h1v6h-1zM83 218h1v6h-1zM85 218h1v6h-1zM93 218h2v6h-2zM106 218h1v6h-1zM110 218h2v6h-2zM226 218h1v6h-1zM76 212h1v6h-1zM82 212h1v6h-1zM88 212h1v6h-1zM90 212h1v6h-1zM284 212h1v6h-1zM81 206h1v6h-1zM97 206h1v6h-1zM99 206h1v6h-1zM226 206h2v6h-2zM73 201h2v5h-2zM78 201h1v5h-1zM88 201h1v5h-1zM92 201h1v5h-1zM97 201h1v5h-1zM100 201h1v5h-1zM104 201h1v5h-1zM106 201h1v5h-1zM118 201h1v5h-1zM178 201h1v5h-1zM71 196h1v5h-1zM76 196h1v5h-1zM90 196h1v5h-1zM105 196h1v5h-1zM178 196h1v5h-1zM92 191h1v5h-1zM95 191h1v5h-1zM97 191h1v5h-1zM100 191h1v5h-1zM111 191h1v5h-1zM115 191h1v5h-1zM80 186h1v5h-1zM83 186h1v5h-1zM96 186h1v5h-1zM98 186h2v5h-2zM237 186h1v5h-1zM99 181h1v5h-1zM227 181h1v5h-1zM237 181h1v5h-1zM78 176h1v5h-1zM82 176h1v5h-1zM85 176h1v5h-1zM105 176h1v5h-1zM95 171h1v5h-1zM238 171h1v5h-1zM91 166h1v5h-1zM237 166h1v5h-1zM82 161h1v5h-1zM97 161h1v5h-1zM111 161h1v5h-1zM227 161h1v5h-1zM237 156h1v5h-1zM72 151h1v5h-1zM94 151h1v5h-1zM111 151h1v5h-1zM72 146h1v5h-1zM82 146h1v5h-1zM238 146h1v5h-1zM77 141h1v5h-1zM89 141h1v5h-1zM106 141h1v5h-1zM83 136h2v5h-2zM72 131h1v5h-1zM83 131h1v5h-1zM103 131h1v5h-1zM71 126h1v5h-1zM73 106h1v5h-1zM77 91h1v5h-1zM91 86h1v5h-1zM72 61h1v5h-1zM79 61h1v5h-1zM237 56h1v5h-1zM78 31h1v5h-1zM74 26h1v5h-1zM100 16h1v5h-1zM77 6h1v5h-1zM119 6h1v5h-1z"/>
<path fill="#00e5ff" d="M8 273h1v30h-1zM13 273h1v30h-1zM25 273h2v30h-2zM41 273h1v30h-1zM45 273h1v30h-1zM49 273h1v30h-1zM51 273h1v30h-1zM61 273h1v30h-1zM118 273h1v30h-1zM120 273h1v30h-1zM262 273h1v30h-1zM278 273h1v30h-1zM286 273h1v30h-1zM288 273h1v30h-1zM6 255h1v18h-1zM8 255h1v18h-1zM19 255h1v18h-1zM25 255h1v18h-1zM34 255h1v18h-1zM45 255h1v18h-1zM52 255h1v18h-1zM54 255h1v18h-1zM58 255h1v18h-1zM120 255h1v18h-1zM127 255h1v18h-1zM202 255h1v18h-1zM206 255h1v18h-1zM269 255h1v18h-1zM271 255h1v18h-1zM278 255h1v18h-1zM286 255h1v18h-1zM3 242h1v13h-1zM12 242h1v13h-1zM21 242h1v13h-1zM50 242h1v13h-1zM52 242h1v13h-1zM55 242h1v13h-1zM76 242h1v13h-1zM100 242h1v13h-1zM105 242h1v13h-1zM111 242h1v13h-1zM121 242h1v13h-1zM177 242h2v13h-2zM183 242h1v13h-1zM213 242h2v13h-2zM279 242h1v13h-1zM288 242h1v13h-1zM294 242h1v13h-1zM310 242h1v13h-1zM21 232h1v10h-1zM74 232h1v10h-1zM78 232h1v10h-1zM97 232h1v10h-1zM180 232h1v10h-1zM214 232h1v10h-1zM276 232h1v10h-1zM282 232h1v10h-1zM287 232h1v10h-1zM21 224h1v8h-1zM73 224h2v8h-2zM76 224h1v8h-1zM83 224h1v8h-1zM89 224h1v8h-1zM91 224h1v8h-1zM97 224h1v8h-1zM116 224h1v8h-1zM118 224h1v8h-1zM271 224h1v8h-1zM79 218h2v6h-2zM88 218h1v6h-1zM95 218h2v6h-2zM103 218h3v6h-3zM109 218h1v6h-1zM121 218h2v6h-2zM190 218h1v6h-1zM75 212h1v6h-1zM78 212h1v6h-1zM95 212h1v6h-1zM99 212h1v6h-1zM103 212h2v6h-2zM227 212h1v6h-1zM73 206h1v6h-1zM75 206h1v6h-1zM84 206h1v6h-1zM95 206h1v6h-1zM98 206h1v6h-1zM105 206h1v6h-1zM109 206h1v6h-1zM116 206h1v6h-1zM237 206h1v6h-1zM96 201h1v5h-1zM72 196h1v5h-1zM84 196h1v5h-1zM95 196h1v5h-1zM98 196h1v5h-1zM77 191h1v5h-1zM91 191h1v5h-1zM98 191h1v5h-1zM227 191h1v5h-1zM237 191h2v5h-2zM95 186h1v5h-1zM238 186h1v5h-1zM71 176h1v5h-1zM97 176h1v5h-1zM237 176h1v5h-1zM76 171h1v5h-1zM78 171h1v5h-1zM80 171h1v5h-1zM89 171h1v5h-1zM91 171h1v5h-1zM97 171h1v5h-1zM78 166h1v5h-1zM81 166h1v5h-1zM84 161h1v5h-1zM73 156h1v5h-1zM112 151h1v5h-1zM119 151h1v5h-1zM77 146h1v5h-1zM76 136h1v5h-1zM91 136h1v5h-1zM73 131h1v5h-1zM106 131h1v5h-1zM72 126h1v5h-1zM78 126h1v5h-1zM93 126h1v5h-1zM72 121h1v5h-1zM77 121h1v5h-1zM107 121h1v5h-1zM73 116h1v5h-1zM81 116h1v5h-1zM75 106h1v5h-1zM78 106h1v5h-1zM99 51h1v5h-1zM87 31h1v5h-1zM101 21h1v5h-1zM91 0h1v1h-1z"/>
<path fill="#00ffff" d="M3 273h1v30h-1zM34 273h2v30h-2zM40 273h1v30h-1zM58 273h1v30h-1zM62 273h1v30h-1zM66 273h2v30h-2zM99 273h1v30h-1zM112 273h1v30h-1zM115 273h1v30h-1zM119 273h1v30h-1zM184 273h1v30h-1zM188 273h1v30h-1zM226 273h2v30h-2zM270 273h1v30h-1zM275 273h1v30h-1zM277 273h1v30h-1zM287 273h1v30h-1zM305 273h1v30h-1zM3 255h1v18h-1zM10 255h1v18h-1zM12 255h1v18h-1zM20 255h1v18h-1zM26 255h1v18h-1zM31 255h1v18h-1zM35 255h1v18h-1zM40 255h1v18h-1zM64 255h1v18h-1zM66 255h2v18h-2zM115 255h1v18h-1zM118 255h2v18h-2zM121 255h1v18h-1zM188 255h1v18h-1zM194 255h1v18h-1zM198 255h1v18h-1zM227 255h1v18h-1zM275 255h2v18h-2zM288 255h1v18h-1zM305 255h1v18h-1zM310 255h1v18h-1zM51 242h1v13h-1zM70 242h3v13h-3zM79 242h1v13h-1zM81 242h1v13h-1zM85 242h1v13h-1zM99 242h1v13h-1zM104 242h1v13h-1zM194 242h1v13h-1zM215 242h1v13h-1zM237 242h1v13h-1zM271 242h1v13h-1zM275 242h1v13h-1zM72 232h2v10h-2zM76 232h1v10h-1zM89 232h1v10h-1zM99 232h1v10h-1zM114 232h1v10h-1zM117 232h2v10h-2zM122 232h1v10h-1zM178 232h1v10h-1zM195 232h1v10h-1zM285 232h1v10h-1zM72 224h1v8h-1zM79 224h1v8h-1zM96 224h1v8h-1zM98 224h2v8h-2zM122 224h1v8h-1zM227 224h1v8h-1zM75 218h1v6h-1zM99 218h1v6h-1zM237 218h1v6h-1zM77 212h1v6h-1zM79 212h3v6h-3zM89 212h1v6h-1zM92 212h1v6h-1zM98 212h1v6h-1zM115 212h1v6h-1zM71 206h1v6h-1zM77 206h1v6h-1zM102 206h1v6h-1zM79 201h1v5h-1zM90 201h1v5h-1zM98 201h2v5h-2zM105 201h1v5h-1zM89 196h1v5h-1zM97 196h1v5h-1zM110 196h1v5h-1zM227 196h1v5h-1zM72 191h1v5h-1zM79 191h1v5h-1zM81 191h1v5h-1zM85 191h1v5h-1zM105 191h1v5h-1zM71 186h1v5h-1zM84 186h1v5h-1zM92 181h1v5h-1zM97 181h1v5h-1zM238 181h1v5h-1zM73 176h1v5h-1zM81 176h1v5h-1zM95 176h1v5h-1zM72 171h1v5h-1zM85 171h1v5h-1zM73 166h1v5h-1zM238 166h1v5h-1zM72 161h1v5h-1zM121 161h1v5h-1zM77 156h1v5h-1zM79 156h1v5h-1zM122 156h1v5h-1zM84 141h1v5h-1zM226 136h1v5h-1zM78 131h1v5h-1zM113 116h1v5h-1zM108 106h1v5h-1zM115 71h1v5h-1zM72 41h1v5h-1zM71 11h1v5h-1z"/>
<path fill="#19ffe5" d="M20 273h1v30h-1zM42 273h1v30h-1zM44 273h1v30h-1zM54 273h1v30h-1zM56 273h2v30h-2zM59 273h1v30h-1zM85 273h1v30h-1zM121 273h1v30h-1zM123 273h1v30h-1zM177 273h1v30h-1zM198 273h1v30h-1zM271 273h1v30h-1zM279 273h1v30h-1zM307 273h1v30h-1zM310 273h1v30h-1zM5 255h1v18h-1zM13 255h1v18h-1zM21 255h1v18h-1zM43 255h2v18h-2zM56 255h1v18h-1zM59 255h1v18h-1zM62 255h1v18h-1zM99 255h1v18h-1zM177 255h1v18h-1zM179 255h1v18h-1zM184 255h1v18h-1zM200 255h1v18h-1zM279 255h1v18h-1zM287 255h1v18h-1zM294 255h1v18h-1zM306 255h1v18h-1zM42 242h1v13h-1zM56 242h1v13h-1zM75 242h1v13h-1zM83 242h1v13h-1zM88 242h1v13h-1zM91 242h1v13h-1zM94 242h1v13h-1zM96 242h2v13h-2zM101 242h1v13h-1zM107 242h1v13h-1zM115 242h1v13h-1zM226 242h1v13h-1zM277 242h2v13h-2zM286 242h1v13h-1zM307 242h1v13h-1zM83 232h1v10h-1zM85 232h2v10h-2zM88 232h1v10h-1zM103 232h1v10h-1zM105 232h1v10h-1zM237 232h3v10h-3zM262 232h1v10h-1zM294 232h1v10h-1zM77 224h1v8h-1zM81 224h1v8h-1zM88 224h1v8h-1zM105 224h1v8h-1zM178 224h1v8h-1zM285 224h1v8h-1zM82 218h1v6h-1zM91 218h2v6h-2zM97 218h2v6h-2zM227 218h1v6h-1zM71 212h1v6h-1zM96 212h2v6h-2zM237 212h1v6h-1zM85 206h1v6h-1zM88 206h1v6h-1zM92 206h1v6h-1zM238 206h1v6h-1zM71 201h2v5h-2zM81 201h1v5h-1zM79 186h1v5h-1zM92 186h1v5h-1zM72 181h1v5h-1zM89 181h1v5h-1zM76 176h1v5h-1zM79 176h1v5h-1zM73 171h1v5h-1zM79 166h1v5h-1zM78 161h1v5h-1z"/>
<path fill="#32ffcc" d="M5 273h1v30h-1zM10 273h1v30h-1zM12 273h1v30h-1zM21 273h1v30h-1zM64 273h1v30h-1zM117 273h1v30h-1zM122 273h1v30h-1zM178 273h2v30h-2zM190 273h1v30h-1zM194 273h2v30h-2zM276 273h1v30h-1zM294 273h1v30h-1zM304 273h1v30h-1zM306 273h1v30h-1zM42 255h1v18h-1zM57 255h1v18h-1zM61 255h1v18h-1zM112 255h1v18h-1zM123 255h1v18h-1zM178 255h1v18h-1zM180 255h1v18h-1zM190 255h1v18h-1zM195 255h1v18h-1zM226 255h1v18h-1zM238 255h1v18h-1zM262 255h1v18h-1zM270 255h1v18h-1zM277 255h1v18h-1zM285 255h1v18h-1zM304 255h1v18h-1zM307 255h1v18h-1zM58 242h2v13h-2zM61 242h2v13h-2zM77 242h2v13h-2zM80 242h1v13h-1zM82 242h1v13h-1zM89 242h1v13h-1zM102 242h2v13h-2zM106 242h1v13h-1zM109 242h1v13h-1zM122 242h1v13h-1zM238 242h1v13h-1zM262 242h1v13h-1zM276 242h1v13h-1zM283 242h1v13h-1zM80 232h2v10h-2zM95 232h1v10h-1zM104 232h1v10h-1zM227 232h1v10h-1zM80 224h1v8h-1zM84 224h2v8h-2zM95 224h1v8h-1zM74 218h1v6h-1zM238 218h1v6h-1zM73 196h1v5h-1zM92 196h1v5h-1zM238 196h1v5h-1zM78 191h1v5h-1zM76 181h1v5h-1zM77 176h1v5h-1zM79 171h1v5h-1zM79 161h1v5h-1z"/>
<path fill="#4cffb2" d="M43 273h1v30h-1zM83 273h1v30h-1zM88 273h1v30h-1zM180 273h1v30h-1zM200 273h1v30h-1zM238 273h1v30h-1zM284 273h1v30h-1zM65 255h1v18h-1zM85 255h1v18h-1zM106 255h1v18h-1zM122 255h1v18h-1zM284 255h1v18h-1zM73 242h1v13h-1zM92 242h1v13h-1zM179 242h1v13h-1zM79 232h1v10h-1zM75 224h1v8h-1zM238 224h1v8h-1zM76 218h1v6h-1zM90 218h1v6h-1z"/>
<path fill="#65ff99" d="M82 273h1v30h-1zM97 273h1v30h-1zM106 273h1v30h-1zM109 273h1v30h-1zM285 273h1v30h-1zM90 255h1v18h-1zM97 255h1v18h-1zM109 255h1v18h-1zM117 255h1v18h-1zM283 255h1v18h-1zM77 232h1v10h-1z"/>
<path fill="#7fff7f" d="M65 273h1v30h-1zM73 273h1v30h-1zM90 273h1v30h-1zM93 273h1v30h-1zM100 273h1v30h-1zM103 273h1v30h-1zM105 273h1v30h-1zM82 255h2v18h-2zM88 255h2v18h-2zM93 255h1v18h-1zM103 255h1v18h-1zM105 255h1v18h-1zM111 255h1v18h-1zM237 255h1v18h-1z"/>
<path fill="#99ff65" d="M71 273h1v30h-1zM76 273h1v30h-1zM89 273h1v30h-1zM92 273h1v30h-1zM111 273h1v30h-1zM283 273h1v30h-1zM73 255h1v18h-1zM92 255h1v18h-1zM95 255h1v18h-1z"/>
<path fill="#b2ff4c" d="M94 273h2v30h-2zM104 273h1v30h-1zM107 273h1v30h-1zM70 255h3v18h-3zM94 255h1v18h-1zM107 255h1v18h-1z"/>
<path fill="#cbff33" d="M80 273h1v30h-1zM237 273h1v30h-1zM76 255h1v18h-1zM80 255h1v18h-1zM100 255h2v18h-2z"/>
<path fill="#e5ff19" d="M70 273h1v30h-1zM72 273h1v30h-1zM79 273h1v30h-1zM74 255h2v18h-2zM81 255h1v18h-1z"/>
<path fill="#ffff00" d="M75 273h1v30h-1zM78 273h1v30h-1zM81 273h1v30h-1zM96 273h1v30h-1zM101 273h1v30h-1zM77 255h1v18h-1zM104 255h1v18h-1z"/>
<path fill="#ffe500" d="M77 273h1v30h-1zM79 255h1v18h-1zM96 255h1v18h-1z"/>
<path fill="#ffb200" d="M74 273h1v30h-1zM78 255h1v18h-1z"/>
</g>
<g stroke="#000" stroke-width="1" stroke-dasharray="1 4" shape-rendering="crispEdges"><line x1="846" y1="1097.5" x2="952" y2="1097.5"/><line x1="1061" y1="1097.5" x2="1085" y2="1097.5"/><line x1="1271" y1="1097.5" x2="1286" y2="1097.5"/></g>
<g stroke="#000050" stroke-width="1.4"><line x1="1165.5" y1="969.6" x2="1165.5" y2="1121.3"/><line x1="1345.5" y1="969.6" x2="1345.5" y2="1121.3"/><line x1="984.5" y1="969.6" x2="984.5" y2="1000"/><line x1="804.5" y1="969.6" x2="804.5" y2="995"/></g>
<g stroke="#000" stroke-width="1" stroke-dasharray="1 4" shape-rendering="crispEdges" fill="none">
<line x1="266" y1="1179.5" x2="1809.5" y2="1179.5"/>
<line x1="266" y1="1244.5" x2="1809.5" y2="1244.5"/>
<line x1="266" y1="1309.5" x2="1809.5" y2="1309.5"/>
<line x1="441.5" y1="1139" x2="441.5" y2="1354.5"/>
<line x1="622.5" y1="1139" x2="622.5" y2="1354.5"/>
<line x1="804.5" y1="1139" x2="804.5" y2="1354.5"/>
<line x1="984.5" y1="1139" x2="984.5" y2="1354.5"/>
<line x1="1165.5" y1="1139" x2="1165.5" y2="1354.5"/>
<line x1="1345.5" y1="1139" x2="1345.5" y2="1354.5"/>
<line x1="1525.5" y1="1139" x2="1525.5" y2="1354.5"/>
<line x1="1808.5" y1="1139" x2="1808.5" y2="1354.5"/>
</g>
<g fill="none" stroke="#000" stroke-width="2.1" stroke-linejoin="round" stroke-linecap="round">
<polyline points="260.4,1218.6 264.5,1217.7 271.2,1220.0 277.3,1223.4 282.7,1228.1 284.1,1234.2 287.5,1236.9 286.1,1240.3 283.4,1243.7 281.4,1246.4"/>
<polyline points="287.5,1244.8 294.2,1245.7 299.7,1247.7 303.7,1249.1 309.1,1251.8 314.5,1253.8 318.6,1255.6 328.1,1255.8 333.5,1259.2 338.9,1264.0 344.3,1265.3 349.7,1266.7 352.4,1273.4 351.8,1280.2 348.4,1285.6 343.0,1291.0 338.9,1297.1 334.8,1302.5 334.2,1310.0 334.2,1319.4 332.8,1324.9 331.5,1330.3 328.1,1335.7 324.0,1341.1 318.6,1343.8 313.2,1345.2 309.1,1346.5 303.7,1349.9 299.7,1353.3 297.6,1355.3"/>
<polyline points="280.5,1244.5 284.0,1244.0 284.5,1249.0 282.0,1251.0 280.5,1248.0 280.5,1244.5"/>
<polyline points="291.0,1246.0 295.0,1246.5 294.5,1250.0 292.0,1251.0 291.0,1246.0"/>
<polyline points="438.4,1134.1 433.6,1139.5 430.9,1144.9 428.9,1146.9 428.9,1151.7 431.6,1157.1 432.3,1165.2 430.9,1172.0 429.6,1177.4 426.9,1180.1 429.6,1182.8 429.6,1189.5 432.3,1192.2 436.3,1196.3 441.5,1201.0 443.5,1206.0 445.4,1211.2 453.5,1216.6 461.7,1222.0 469.1,1226.1 475.2,1223.4 484.7,1221.3 492.8,1223.4 502.2,1219.3 513.1,1215.9 520.5,1215.9 523.9,1220.7 525.3,1225.4 534.7,1225.4 540.1,1226.1 540.1,1230.1 544.2,1230.8 543.5,1238.3 540.8,1246.4 540.1,1249.1 542.8,1254.5 548.3,1259.9 552.3,1265.3 556.4,1273.4 559.1,1281.6 559.1,1288.3 561.8,1293.7 560.4,1298.5 556.4,1303.2 555.0,1310.0 552.3,1319.4 553.7,1324.9 557.7,1333.0 561.8,1341.1 564.5,1346.5 565.2,1355.3"/>
<polyline points="559.0,1182.8 562.0,1183.5 568.6,1186.8 563.1,1190.2 561.0,1186.0 559.0,1182.8"/>
<polyline points="652.5,1134.1 654.5,1139.5 656.5,1142.9 660.6,1146.2 662.0,1151.7 662.6,1159.8 667.4,1165.2 670.7,1170.6 675.5,1177.4 682.2,1184.1 687.7,1189.5 687.7,1193.6 690.4,1197.7 694.4,1199.0 701.2,1197.7 708.0,1196.3 714.7,1195.0 720.1,1192.2 722.8,1195.0 722.8,1200.4 720.1,1207.1 717.4,1209.8 714.7,1212.5 709.3,1225.4 703.9,1230.1 695.8,1236.9 689.0,1242.3 683.6,1247.7 678.2,1253.1 674.8,1255.2 674.1,1259.9 671.4,1265.3 669.4,1270.1 672.1,1273.4 672.1,1280.2 674.1,1285.6 676.8,1289.7 676.8,1299.2 677.5,1308.6 676.8,1312.7 672.8,1315.4 666.0,1319.4 663.3,1320.8 659.2,1324.9 652.5,1333.0 653.8,1339.7 654.5,1346.5 653.8,1355.3"/>
<polyline points="662.0,1134.1 667.4,1139.5 670.1,1144.9 670.7,1153.0 675.5,1157.1 679.5,1162.5 683.6,1169.2 686.3,1174.7 687.7,1181.4 689.0,1186.8 689.7,1189.5 695.8,1188.2 703.9,1186.2 712.0,1182.8 720.1,1177.4 726.9,1174.7 733.7,1170.6 740.4,1167.9 745.8,1163.8 749.9,1159.8 752.6,1154.4 755.3,1150.3 759.4,1146.2 758.0,1142.2 752.6,1138.1 747.2,1135.4 744.5,1134.1"/>
<polyline points="722.8,1134.6 725.5,1137.4 730.0,1137.8 735.0,1136.1 736.4,1134.4"/>
<polyline points="731.5,1189.5 737.0,1189.5"/>
<polyline points="639.0,1245.0 647.0,1243.0 649.8,1246.4 646.4,1253.1 639.0,1256.5 638.3,1251.8 639.0,1245.0"/>
<polyline points="627.0,1259.0 628.5,1259.5 630.0,1265.0 633.0,1273.0 636.2,1282.2 634.5,1281.0 631.5,1273.0 628.5,1265.0 627.0,1259.0"/>
<polyline points="648.4,1285.6 649.5,1285.8 651.0,1293.0 653.8,1306.5 652.5,1306.0 649.8,1296.0 648.4,1285.6"/>
<polyline points="740.5,1336.5 742.0,1337.5"/>
<polyline points="749.0,1332.5 750.5,1333.5"/>
<polyline points="713.4,1297.1 716.1,1297.8 718.8,1305.9 720.1,1311.3 716.8,1315.4 714.7,1322.2 712.0,1330.3 709.3,1339.7 706.6,1347.9 705.3,1355.3"/>
<polyline points="690.4,1355.3 688.3,1343.8 691.7,1333.0 693.1,1326.2 691.0,1319.4 691.7,1315.4 698.5,1312.7 703.9,1310.0 709.3,1301.9 713.4,1297.1"/>
<polyline points="790.5,1134.1 795.9,1139.5 800.0,1142.9 801.4,1146.2 805.4,1151.7 809.5,1152.3 812.9,1150.3 813.5,1146.2 814.2,1150.3 814.9,1161.1 817.6,1170.6 821.7,1180.1 825.7,1189.5 829.8,1199.0 832.5,1207.1 835.2,1208.5 839.2,1204.4 843.3,1200.4 846.0,1195.0 846.7,1186.8 846.7,1177.4 850.1,1173.3 855.5,1170.6 859.5,1166.5 865.0,1162.5 870.4,1158.4 875.8,1154.4 877.1,1150.3 881.2,1146.9 886.6,1148.3 892.0,1145.6 896.1,1143.5 898.8,1150.3 902.8,1155.7 906.9,1159.8 908.3,1167.9 909.0,1174.0 915.0,1172.0 920.0,1171.0 923.0,1178.0 926.0,1188.0 927.0,1200.0 926.0,1206.0 928.0,1212.0 933.0,1218.0 934.0,1226.0 937.0,1232.0 942.0,1236.0 948.0,1238.0 951.0,1237.5 949.0,1231.0 946.0,1222.0 942.0,1217.0 935.0,1213.0 931.0,1206.0 930.0,1198.0 932.0,1191.0 935.0,1186.0 940.0,1189.0 945.0,1194.0 950.0,1199.0 954.0,1200.0 953.5,1206.0 960.0,1202.0 966.0,1198.0 971.0,1195.0 972.0,1186.0 972.0,1179.0 967.0,1173.0 961.0,1166.0 957.0,1160.0 959.0,1154.0 965.0,1150.0 971.0,1148.0 974.0,1150.0 976.0,1152.0 980.0,1149.0 986.0,1146.0 994.0,1143.0 1004.0,1139.0 1012.0,1134.5"/>
<polyline points="845.5,1203.0 849.0,1202.5 851.5,1209.0 852.5,1214.5 848.5,1217.0 845.5,1215.0 845.0,1209.0 845.5,1203.0"/>
<polyline points="972.0,1156.0 978.0,1155.0 979.5,1159.0 976.0,1163.0 971.0,1163.5 970.0,1160.0 972.0,1156.0"/>
<polyline points="912.0,1220.0 922.0,1221.0 927.0,1226.0 934.0,1232.0 940.0,1235.0 945.0,1239.0 948.0,1244.0 952.0,1250.0 957.0,1253.0 960.0,1257.0 958.0,1260.0 957.5,1268.0 952.0,1268.0 946.0,1264.0 940.0,1259.0 936.0,1253.0 932.0,1245.0 926.0,1236.0 920.0,1228.0 913.0,1222.0 912.0,1220.0"/>
<polyline points="914.5,1232.5 916.0,1233.5"/>
<polyline points="921.5,1237.0 923.0,1240.0"/>
<polyline points="927.5,1249.0 928.5,1251.0"/>
<polyline points="966.0,1256.0 968.0,1257.0 966.5,1258.0 966.0,1256.0"/>
<polyline points="900.5,1187.0 901.5,1193.0"/>
<polyline points="956.0,1269.5 970.0,1271.0 980.0,1271.5 990.0,1273.5 1000.0,1276.0 1010.0,1278.0 1020.0,1278.3 1030.0,1278.3 1040.0,1277.5 1048.0,1278.5"/>
<polyline points="957.0,1271.5 970.0,1273.0 980.0,1273.5 990.0,1275.5 1000.0,1278.0 1010.0,1280.0 1020.0,1280.3 1030.0,1280.3 1040.0,1279.5 1049.5,1280.2"/>
<polyline points="1044.0,1276.5 1047.0,1275.5 1049.0,1278.0"/>
<polyline points="1005.0,1215.0 1010.0,1218.0 1015.0,1221.0 1010.0,1224.0 1008.0,1231.0 1011.0,1238.0 1014.0,1240.0 1010.0,1245.0 1007.0,1250.0 1004.0,1255.0 998.0,1260.0 990.0,1259.0 984.0,1258.0 978.0,1258.0 976.0,1253.0 974.0,1245.0 971.0,1238.0 972.0,1236.0 979.0,1235.0 982.0,1230.0 989.0,1227.0 995.0,1222.0 1000.0,1218.0 1005.0,1215.0"/>
<polyline points="1021.1,1134.7 1026.5,1135.4 1025.9,1142.2 1022.5,1146.9 1019.1,1140.8 1021.1,1134.7"/>
<polyline points="1021.1,1163.2 1029.2,1163.2 1029.9,1170.6 1025.2,1176.0 1023.8,1181.4 1019.1,1180.1 1017.7,1172.0 1020.4,1166.5 1021.1,1163.2"/>
<polyline points="1024.0,1181.0 1030.0,1183.0 1036.0,1188.0 1041.0,1193.0 1043.0,1199.0 1040.0,1202.0 1034.0,1199.0 1029.0,1193.0 1025.0,1188.0 1024.0,1181.0"/>
<polyline points="1028.0,1195.0 1034.0,1198.5 1038.0,1204.0 1033.0,1204.0 1028.0,1195.0"/>
<polyline points="1036.0,1206.0 1044.0,1207.0 1047.0,1213.0 1045.0,1219.0 1039.0,1218.0 1036.0,1212.0 1036.0,1206.0"/>
<polyline points="1006.2,1207.1 1017.7,1196.3"/>
<polyline points="1018.4,1241.0 1029.2,1239.6 1041.4,1236.9 1040.1,1240.3 1030.6,1243.7 1025.2,1249.1 1033.3,1251.8 1026.5,1255.8 1030.6,1264.0 1030.6,1268.0 1025.2,1262.6 1021.1,1258.6 1019.8,1268.0 1015.7,1268.0 1016.4,1259.9 1013.0,1257.2 1017.1,1249.1 1018.4,1241.0"/>
<polyline points="1050.0,1235.0 1055.0,1237.0 1056.0,1244.0 1054.0,1251.5 1050.5,1247.0 1050.0,1235.0"/>
<polyline points="1053.6,1256.5 1060.0,1256.0 1064.4,1259.0 1060.0,1261.0 1054.0,1260.0 1053.6,1256.5"/>
<polyline points="1045.5,1258.5 1048.0,1259.5"/>
<polyline points="1038.0,1251.5 1040.0,1251.8"/>
<polyline points="1078.0,1267.5 1080.5,1273.5"/>
<polyline points="1067.0,1275.0 1068.5,1278.5"/>
<polyline points="1063.1,1245.0 1071.2,1245.0 1078.0,1247.7 1079.3,1254.5 1084.7,1257.2 1092.8,1251.8 1098.3,1250.4 1111.8,1254.5 1122.6,1258.6 1129.4,1265.3 1136.1,1268.7 1140.0,1271.0 1147.0,1279.0 1151.0,1290.3 1148.0,1290.0 1144.3,1282.9 1137.5,1276.1 1134.8,1272.1 1125.3,1276.1 1117.2,1282.9 1107.7,1281.6 1095.5,1280.2 1098.3,1273.4 1095.5,1268.0 1087.4,1264.0 1079.3,1261.3 1073.9,1258.6 1069.8,1251.8 1064.4,1247.7 1063.1,1245.0"/>
<polyline points="1150.5,1256.0 1156.0,1257.5 1161.0,1261.0 1162.5,1264.0 1159.0,1265.5 1153.0,1267.0 1145.6,1269.4"/>
<polyline points="1134.0,1252.5 1135.5,1252.5"/>
<polyline points="1167.3,1266.7 1172.0,1270.0 1179.4,1276.1"/>
<polyline points="1183.0,1276.0 1187.0,1281.0 1190.0,1287.0 1193.0,1290.0 1200.0,1291.5"/>
<polyline points="1221.0,1309.5 1222.5,1313.0 1224.0,1317.0"/>
<polyline points="1209.0,1335.0 1215.0,1338.5 1221.8,1343.0 1216.0,1341.0 1209.0,1335.0"/>
<polyline points="1265.0,1322.0 1268.0,1324.0 1271.0,1321.0 1268.0,1319.0 1265.0,1322.0"/>
<polyline points="1270.0,1318.0 1277.0,1315.0"/>
<polyline points="1307.0,1302.0 1314.5,1305.0"/>
<polyline points="1407.5,1321.0 1408.5,1322.5"/>
<polyline points="1361.0,1147.5 1365.0,1145.5"/>
<polyline points="1370.0,1148.5 1375.0,1151.0 1378.0,1154.0 1382.0,1157.0 1386.0,1160.0 1383.0,1163.0 1380.0,1160.0 1378.0,1156.0"/>
<polyline points="990.8,1355.3 990.8,1346.5 994.9,1341.1 1002.2,1335.7 1013.0,1333.0 1021.1,1328.9 1027.9,1322.2 1030.6,1316.7 1036.0,1312.7 1044.1,1305.9 1049.5,1304.6 1053.6,1310.0 1059.0,1310.0 1061.7,1304.6 1065.8,1296.4 1074.0,1300.0 1084.7,1301.9 1086.1,1310.0 1092.8,1314.0 1101.0,1319.4 1105.0,1322.2 1109.1,1318.1 1110.4,1310.0 1111.8,1301.9 1115.8,1291.0 1119.9,1299.2 1124.0,1305.9 1126.7,1312.7 1130.7,1323.5 1138.8,1328.9 1145.6,1338.4 1152.4,1343.8 1157.8,1355.3"/>
<polyline points="1569.0,1134.0 1575.0,1138.0 1581.0,1143.0 1579.0,1145.0 1573.0,1139.0 1569.0,1134.0"/>
<polyline points="1585.5,1134.0 1596.0,1144.5 1599.0,1152.0 1597.5,1158.0 1608.0,1165.5 1620.0,1170.0 1635.0,1174.5 1644.0,1173.0 1653.0,1179.0 1660.5,1184.0 1674.0,1188.0 1681.5,1195.5 1684.5,1201.5 1693.5,1207.5 1704.0,1212.0 1708.5,1209.0 1713.0,1204.5 1717.5,1212.0 1719.0,1221.0 1717.5,1230.0 1710.0,1239.0 1704.0,1248.0 1704.0,1255.5 1708.5,1255.5 1701.0,1263.0 1704.0,1272.0 1710.0,1278.0 1714.5,1287.0 1719.0,1293.0 1723.5,1305.0 1726.5,1311.0 1737.0,1317.0 1746.0,1323.0 1749.8,1329.0 1749.8,1344.0 1748.3,1355.3"/>
<polyline points="1632.0,1134.0 1632.0,1146.0 1638.0,1158.0 1647.0,1164.0 1659.0,1161.0 1662.0,1152.0 1671.0,1149.8 1678.5,1149.8 1675.5,1164.0 1671.0,1174.5 1690.5,1176.0 1693.5,1180.5 1692.0,1191.0 1692.0,1197.0 1699.5,1203.0 1710.0,1203.0 1716.0,1208.0 1720.5,1209.0 1728.0,1197.0 1740.0,1192.5 1743.0,1189.5 1744.5,1196.0 1744.5,1203.0 1745.5,1195.0 1749.0,1192.5 1755.0,1191.0 1759.5,1197.0 1770.0,1199.0 1782.0,1198.5 1788.0,1197.0 1791.0,1204.5 1800.0,1213.5 1809.0,1219.5"/>
<polyline points="1686.0,1147.0 1692.0,1142.5 1700.0,1140.8 1710.0,1143.0 1720.0,1148.0 1730.0,1154.0 1732.5,1158.0 1724.0,1157.0 1714.0,1152.0 1704.0,1148.0 1695.0,1146.5 1686.0,1147.0"/>
<polyline points="1737.0,1157.0 1745.0,1156.5 1752.0,1158.0 1755.0,1162.0 1750.0,1165.0 1744.0,1167.0 1739.0,1163.0 1737.0,1157.0"/>
<polyline points="1715.0,1164.0 1720.0,1162.5 1723.5,1165.0 1718.0,1167.0 1715.0,1164.0"/>
<polyline points="1761.0,1164.0 1770.0,1164.5"/>
<polyline points="1700.0,1134.5 1702.0,1137.0"/>
<polyline points="1713.0,1135.0 1716.0,1138.0"/>
<polyline points="1730.0,1139.0 1733.0,1142.0"/>
<polyline points="1736.0,1146.0 1738.0,1148.0"/>
<polyline points="1786.5,1173.0 1787.5,1174.0"/>
<polyline points="1789.5,1180.5 1790.5,1181.5"/>
<polyline points="1658.5,1246.0 1659.5,1248.0"/>
</g>
<polyline points="260.5,1206.8 264.5,1206.1 268.5,1205.3 272.5,1204.6 276.5,1203.9 280.5,1203.2 284.5,1202.5 288.5,1201.9 292.5,1201.2 296.5,1200.6 300.5,1199.9 304.5,1199.3 308.5,1198.7 312.5,1198.1 316.5,1197.6 320.5,1197.0 324.5,1196.5 328.5,1195.9 332.5,1195.4 336.5,1194.9 340.5,1194.4 344.5,1193.9 348.5,1193.5 352.5,1193.0 356.5,1192.6 360.5,1192.2 364.5,1191.8 368.5,1191.4 372.5,1191.1 376.5,1190.7 380.5,1190.4 384.5,1190.1 388.5,1189.8 392.5,1189.5 396.5,1189.2 400.5,1189.0 404.5,1188.7 408.5,1188.5 412.5,1188.3 416.5,1188.1 420.5,1188.0 424.5,1187.8 428.5,1187.7 432.5,1187.6 436.5,1187.5 440.5,1187.4 444.5,1187.3 448.5,1187.3 452.5,1187.2 456.5,1187.2 460.5,1187.2 464.5,1187.3 468.5,1187.3 472.5,1187.4 476.5,1187.4 480.5,1187.5 484.5,1187.6 488.5,1187.8 492.5,1187.9 496.5,1188.1 500.5,1188.2 504.5,1188.4 508.5,1188.6 512.5,1188.9 516.5,1189.1 520.5,1189.4 524.5,1189.7 528.5,1189.9 532.5,1190.3 536.5,1190.6 540.5,1190.9 544.5,1191.3 548.5,1191.7 552.5,1192.1 556.5,1192.5 560.5,1192.9 564.5,1193.3 568.5,1193.8 572.5,1194.2 576.5,1194.7 580.5,1195.2 584.5,1195.7 588.5,1196.3 592.5,1196.8 596.5,1197.4 600.5,1197.9 604.5,1198.5 608.5,1199.1 612.5,1199.7 616.5,1200.3 620.5,1201.0 624.5,1201.6 628.5,1202.3 632.5,1203.0 636.5,1203.7 640.5,1204.4 644.5,1205.1 648.5,1205.8 652.5,1206.6 656.5,1207.3 660.5,1208.1 664.5,1208.8 668.5,1209.6 672.5,1210.4 676.5,1211.2 680.5,1212.0 684.5,1212.8 688.5,1213.7 692.5,1214.5 696.5,1215.4 700.5,1216.2 704.5,1217.1 708.5,1218.0 712.5,1218.8 716.5,1219.7 720.5,1220.6 724.5,1221.5 728.5,1222.5 732.5,1223.4 736.5,1224.3 740.5,1225.2 744.5,1226.2 748.5,1227.1 752.5,1228.1 756.5,1229.0 760.5,1230.0 764.5,1230.9 768.5,1231.9 772.5,1232.9 776.5,1233.8 780.5,1234.8 784.5,1235.8 788.5,1236.8 792.5,1237.7 796.5,1238.7 800.5,1239.7 804.5,1240.7 808.5,1241.7 812.5,1242.7 816.5,1243.7 820.5,1244.7 824.5,1245.6 828.5,1246.6 832.5,1247.6 836.5,1248.6 840.5,1249.6 844.5,1250.6 848.5,1251.6 852.5,1252.5 856.5,1253.5 860.5,1254.5 864.5,1255.5 868.5,1256.4 872.5,1257.4 876.5,1258.4 880.5,1259.3 884.5,1260.3 888.5,1261.2 892.5,1262.2 896.5,1263.1 900.5,1264.0 904.5,1264.9 908.5,1265.9 912.5,1266.8 916.5,1267.7 920.5,1268.6 924.5,1269.5 928.5,1270.3 932.5,1271.2 936.5,1272.1 940.5,1272.9 944.5,1273.8 948.5,1274.6 952.5,1275.5 956.5,1276.3 960.5,1277.1 964.5,1277.9 968.5,1278.7 972.5,1279.5 976.5,1280.2 980.5,1281.0 984.5,1281.7 988.5,1282.5 992.5,1283.2 996.5,1283.9 1000.5,1284.6 1004.5,1285.3 1008.5,1286.0 1012.5,1286.7 1016.5,1287.3 1020.5,1287.9 1024.5,1288.6 1028.5,1289.2 1032.5,1289.8 1036.5,1290.4 1040.5,1290.9 1044.5,1291.5 1048.5,1292.0 1052.5,1292.6 1056.5,1293.1 1060.5,1293.6 1064.5,1294.0 1068.5,1294.5 1072.5,1295.0 1076.5,1295.4 1080.5,1295.8 1084.5,1296.2 1088.5,1296.6 1092.5,1297.0 1096.5,1297.3 1100.5,1297.7 1104.5,1298.0 1108.5,1298.3 1112.5,1298.6 1116.5,1298.9 1120.5,1299.1 1124.5,1299.4 1128.5,1299.6 1132.5,1299.8 1136.5,1300.0 1140.5,1300.2 1144.5,1300.4 1148.5,1300.5 1152.5,1300.6 1156.5,1300.7 1160.5,1300.8 1164.5,1300.9 1168.5,1300.9 1172.5,1301.0 1176.5,1301.0 1180.5,1301.0 1184.5,1301.0 1188.5,1301.0 1192.5,1300.9 1196.5,1300.9 1200.5,1300.8 1204.5,1300.7 1208.5,1300.6 1212.5,1300.4 1216.5,1300.3 1220.5,1300.1 1224.5,1299.9 1228.5,1299.7 1232.5,1299.5 1236.5,1299.3 1240.5,1299.0 1244.5,1298.7 1248.5,1298.5 1252.5,1298.2 1256.5,1297.8 1260.5,1297.5 1264.5,1297.2 1268.5,1296.8 1272.5,1296.4 1276.5,1296.0 1280.5,1295.6 1284.5,1295.2 1288.5,1294.7 1292.5,1294.3 1296.5,1293.8 1300.5,1293.3 1304.5,1292.8 1308.5,1292.3 1312.5,1291.7 1316.5,1291.2 1320.5,1290.6 1324.5,1290.1 1328.5,1289.5 1332.5,1288.9 1336.5,1288.2 1340.5,1287.6 1344.5,1287.0 1348.5,1286.3 1352.5,1285.6 1356.5,1285.0 1360.5,1284.3 1364.5,1283.6 1368.5,1282.8 1372.5,1282.1 1376.5,1281.4 1380.5,1280.6 1384.5,1279.8 1388.5,1279.1 1392.5,1278.3 1396.5,1277.5 1400.5,1276.7 1404.5,1275.9 1408.5,1275.0 1412.5,1274.2 1416.5,1273.4 1420.5,1272.5 1424.5,1271.6 1428.5,1270.8 1432.5,1269.9 1436.5,1269.0 1440.5,1268.1 1444.5,1267.2 1448.5,1266.3 1452.5,1265.4 1456.5,1264.5 1460.5,1263.5 1464.5,1262.6 1468.5,1261.7 1472.5,1260.7 1476.5,1259.8 1480.5,1258.8 1484.5,1257.9 1488.5,1256.9 1492.5,1255.9 1496.5,1255.0 1500.5,1254.0 1504.5,1253.0 1508.5,1252.0 1512.5,1251.1 1516.5,1250.1 1520.5,1249.1 1524.5,1248.1 1528.5,1247.1 1532.5,1246.1 1536.5,1245.1" fill="none" stroke="#d01818" stroke-width="1.1"/>
<polyline points="1645.5,1244.2 1649.5,1243.3 1653.5,1242.3 1657.5,1241.3 1661.5,1240.3 1665.5,1239.3 1669.5,1238.3 1673.5,1237.3 1677.5,1236.4 1681.5,1235.4 1685.5,1234.4 1689.5,1233.4 1693.5,1232.5 1697.5,1231.5 1701.5,1230.5 1705.5,1229.6 1709.5,1228.6 1713.5,1227.7 1717.5,1226.7 1721.5,1225.8 1725.5,1224.8 1729.5,1223.9 1733.5,1223.0 1737.5,1222.1 1741.5,1221.2 1745.5,1220.3 1749.5,1219.4 1753.5,1218.5 1757.5,1217.6 1761.5,1216.7 1765.5,1215.9 1769.5,1215.0 1773.5,1214.2 1777.5,1213.3 1781.5,1212.5 1785.5,1211.7 1789.5,1210.9 1793.5,1210.1 1797.5,1209.3 1801.5,1208.5 1805.5,1207.7 1809.5,1207.0" fill="none" stroke="#d01818" stroke-width="1.1"/>
<polyline points="259.0,1274.8 282.0,1262.0 309.1,1246.4 336.2,1232.8 370.0,1216.6 390.3,1210.5 417.4,1203.7 435.0,1199.7 455.0,1198.3 467.0,1197.0 507.7,1195.6 548.3,1197.0 588.8,1201.0 620.0,1204.4 660.6,1207.8 712.0,1211.2 755.3,1211.9 800.0,1211.9 840.6,1209.8 874.4,1208.5 935.3,1208.5 990.0,1210.5 1044.1,1209.2 1098.3,1208.2 1138.8,1210.5 1165.9,1214.6 1190.0,1219.3 1250.0,1225.5 1340.0,1240.5 1430.0,1254.0 1530.0,1264.5 1590.0,1276.5 1665.0,1289.0 1717.5,1296.7 1726.5,1297.5 1792.5,1280.0 1811.0,1273.5" fill="none" stroke="#1ee61e" stroke-width="5.6" stroke-linejoin="round"/>
<polyline points="708.5,1218.0 710.5,1218.4 712.5,1218.8 714.5,1219.3 716.5,1219.7 718.5,1220.2 720.5,1220.6 722.5,1221.1 724.5,1221.5 726.5,1222.0 728.5,1222.5 730.5,1222.9 732.5,1223.4 734.5,1223.8 736.5,1224.3 738.5,1224.8 740.5,1225.2 742.5,1225.7 744.5,1226.2 746.5,1226.6 748.5,1227.1 750.5,1227.6 752.5,1228.1 754.5,1228.5 756.5,1229.0 758.5,1229.5 760.5,1230.0 762.5,1230.4 764.5,1230.9 766.5,1231.4 768.5,1231.9 770.5,1232.4 772.5,1232.9 774.5,1233.3 776.5,1233.8 778.5,1234.3 780.5,1234.8 782.5,1235.3 784.5,1235.8 786.5,1236.3 788.5,1236.8 790.5,1237.2 792.5,1237.7 794.5,1238.2 796.5,1238.7 798.5,1239.2 800.5,1239.7 802.5,1240.2 804.5,1240.7 806.5,1241.2 808.5,1241.7 810.5,1242.2 812.5,1242.7 814.5,1243.2 816.5,1243.7 818.5,1244.2 820.5,1244.7 822.5,1245.1 824.5,1245.6 826.5,1246.1 828.5,1246.6 830.5,1247.1 832.5,1247.6 834.5,1248.1 836.5,1248.6 838.5,1249.1 840.5,1249.6 842.5,1250.1 844.5,1250.6 846.5,1251.1 848.5,1251.6 850.5,1252.1 852.5,1252.5 854.5,1253.0 856.5,1253.5 858.5,1254.0 860.5,1254.5 862.5,1255.0 864.5,1255.5 866.5,1256.0 868.5,1256.4 870.5,1256.9 872.5,1257.4 874.5,1257.9 876.5,1258.4 878.5,1258.8 880.5,1259.3 882.5,1259.8 884.5,1260.3 886.5,1260.7 888.5,1261.2 890.5,1261.7 892.5,1262.2 894.5,1262.6 896.5,1263.1 898.5,1263.6 900.5,1264.0 902.5,1264.5 904.5,1264.9 906.5,1265.4 908.5,1265.9 910.5,1266.3 912.5,1266.8 914.5,1267.2 916.5,1267.7 918.5,1268.1 920.5,1268.6 922.5,1269.0 924.5,1269.5 926.5,1269.9 928.5,1270.3 930.5,1270.8 932.5,1271.2 934.5,1271.7 936.5,1272.1 938.5,1272.5 940.5,1272.9 942.5,1273.4 944.5,1273.8 946.5,1274.2 948.5,1274.6 950.5,1275.1 952.5,1275.5 954.5,1275.9 956.5,1276.3 958.5,1276.7 960.5,1277.1 962.5,1277.5 964.5,1277.9 966.5,1278.3 968.5,1278.7 970.5,1279.1 972.5,1279.5 974.5,1279.9 976.5,1280.2 978.5,1280.6 980.5,1281.0 982.5,1281.4 984.5,1281.7 986.5,1282.1 988.5,1282.5 990.5,1282.8 992.5,1283.2 994.5,1283.6 996.5,1283.9 998.5,1284.3 1000.5,1284.6 1002.5,1285.0 1004.5,1285.3 1006.5,1285.7 1008.5,1286.0 1010.5,1286.3 1012.5,1286.7 1014.5,1287.0 1016.5,1287.3 1018.5,1287.6 1020.5,1287.9 1022.5,1288.3 1024.5,1288.6 1026.5,1288.9 1028.5,1289.2 1030.5,1289.5 1032.5,1289.8 1034.5,1290.1 1036.5,1290.4 1038.5,1290.6 1040.5,1290.9 1042.5,1291.2 1044.5,1291.5 1046.5,1291.8 1048.5,1292.0 1050.5,1292.3 1052.5,1292.6 1054.5,1292.8 1056.5,1293.1 1058.5,1293.3 1060.5,1293.6 1062.5,1293.8 1064.5,1294.0 1066.5,1294.3 1068.5,1294.5 1070.5,1294.7 1072.5,1295.0 1074.5,1295.2 1076.5,1295.4 1078.5,1295.6 1080.5,1295.8 1082.5,1296.0 1084.5,1296.2 1086.5,1296.4 1088.5,1296.6 1090.5,1296.8 1092.5,1297.0 1094.5,1297.2 1096.5,1297.3 1098.5,1297.5 1100.5,1297.7 1102.5,1297.8 1104.5,1298.0 1106.5,1298.2 1108.5,1298.3 1110.5,1298.5 1112.5,1298.6 1114.5,1298.8 1116.5,1298.9 1118.5,1299.0 1120.5,1299.1 1122.5,1299.3 1124.5,1299.4 1126.5,1299.5 1128.5,1299.6 1130.5,1299.7 1132.5,1299.8 1134.5,1299.9 1136.5,1300.0 1138.5,1300.1 1140.5,1300.2 1142.5,1300.3 1144.5,1300.4 1146.5,1300.4 1148.5,1300.5 1150.5,1300.6 1152.5,1300.6 1154.5,1300.7 1156.5,1300.7 1158.5,1300.8 1160.5,1300.8 1162.5,1300.9 1164.5,1300.9 1166.5,1300.9 1168.5,1300.9 1170.5,1301.0 1172.5,1301.0 1174.5,1301.0 1176.5,1301.0 1178.5,1301.0 1180.5,1301.0 1182.5,1301.0 1184.5,1301.0 1186.5,1301.0 1188.5,1301.0 1190.5,1300.9 1192.5,1300.9 1194.5,1300.9 1196.5,1300.9 1198.5,1300.8 1200.5,1300.8 1202.5,1300.7 1204.5,1300.7 1206.5,1300.6 1208.5,1300.6 1210.5,1300.5 1212.5,1300.4 1214.5,1300.3 1216.5,1300.3 1218.5,1300.2 1220.5,1300.1 1222.5,1300.0 1224.5,1299.9 1226.5,1299.8" fill="none" stroke="#f01010" stroke-width="12" stroke-dasharray="11.2 3.2"/>
<g fill="none" stroke="#cc22cc" stroke-width="1.1">
<polygon points="311.2,1247.6 313.0,1252.7 318.4,1252.9 314.1,1256.1 315.7,1261.3 311.2,1258.2 306.7,1261.3 308.3,1256.1 304.0,1252.9 309.4,1252.7"/>
<polygon points="1125.3,1177.2 1127.1,1182.3 1132.5,1182.5 1128.2,1185.7 1129.8,1190.9 1125.3,1187.8 1120.8,1190.9 1122.4,1185.7 1118.1,1182.5 1123.5,1182.3"/>
<polygon points="1223.2,1194.6 1225.0,1199.7 1230.4,1199.9 1226.1,1203.1 1227.7,1208.3 1223.2,1205.2 1218.7,1208.3 1220.3,1203.1 1216.0,1199.9 1221.4,1199.7"/>
<polygon points="1374.2,1226.9 1376.0,1232.0 1381.4,1232.2 1377.1,1235.4 1378.7,1240.6 1374.2,1237.5 1369.7,1240.6 1371.3,1235.4 1367.0,1232.2 1372.4,1232.0"/>
<polygon points="1721.2,1288.1 1723.0,1293.2 1728.4,1293.4 1724.1,1296.6 1725.7,1301.8 1721.2,1298.7 1716.7,1301.8 1718.3,1296.6 1714.0,1293.4 1719.4,1293.2"/>
</g>
<path d="M260.6 378.7C264.2 377.4 275.3 374.5 282.0 370.7C288.7 366.9 296.6 359.5 301.0 355.7C305.4 351.9 305.3 353.4 308.2 347.7C311.1 342.0 315.2 329.0 318.5 321.5C321.8 314.0 324.8 307.7 328.0 302.5C331.2 297.3 333.4 293.6 337.6 290.5C341.9 287.4 348.7 286.8 353.5 284.2C358.3 281.6 360.9 278.0 366.2 274.7C371.5 271.4 379.4 267.9 385.2 264.3C391.0 260.7 395.3 256.4 401.1 253.2C406.9 250.0 415.4 247.0 420.2 245.3C425.0 243.6 426.3 244.5 429.7 242.9C433.1 241.3 436.6 239.4 440.8 235.8C445.0 232.2 451.1 225.5 455.1 221.5C459.1 217.5 460.9 214.7 464.6 211.9C468.3 209.1 473.9 206.0 477.3 204.8C480.8 203.6 481.9 204.2 485.3 204.5C488.8 204.8 494.1 206.5 498.0 206.4C501.9 206.3 503.7 206.1 509.0 204.0C514.3 201.9 524.1 194.5 529.7 193.7C535.3 192.9 538.0 197.9 542.4 199.2C546.8 200.5 552.3 201.6 555.9 201.6C559.5 201.6 559.8 200.9 563.8 198.9C567.8 196.9 575.7 191.1 579.7 189.4C583.7 187.7 583.6 188.5 587.6 188.6C591.6 188.7 597.7 189.2 603.5 189.9C609.3 190.6 617.3 192.4 622.6 192.6C627.9 192.8 631.3 191.1 635.3 191.0C639.3 190.9 641.9 190.1 646.4 191.8C650.9 193.5 657.3 196.8 662.3 201.3C667.3 205.8 672.1 213.0 676.6 218.8C681.1 224.6 685.6 230.1 689.3 236.2C693.0 242.3 695.1 248.7 698.8 255.3C702.5 261.9 707.8 269.5 711.5 275.9C715.2 282.2 718.4 287.6 721.0 293.4C723.6 299.2 725.5 305.6 727.4 310.9C729.3 316.2 730.4 321.0 732.2 325.2C734.1 329.4 737.5 334.4 738.5 336.3" fill="none" stroke="#22dd22" stroke-width="1.3" transform="translate(0.5 0.6)"/>
<polyline points="738.5,336.3 742.0,338.0 744.0,339.0 746.4,332.0 748.0,342.0 752.0,350.0 757.6,368.0 762.0,379.0 766.0,384.0 770.0,386.0 775.0,383.0 779.0,387.0 781.4,379.0 784.0,384.0 787.0,392.0 791.0,398.0 795.0,406.0 799.0,414.0 801.0,408.0 803.0,412.0 806.0,411.0 808.0,415.0 812.0,418.0 816.0,428.0 821.0,440.0 825.0,456.0 828.0,450.0 830.0,447.0 831.0,455.0 836.0,470.0 842.0,488.0 846.0,484.0 848.0,476.0 850.0,436.0 852.0,456.0 854.0,408.0 857.0,390.0 859.0,373.0 860.0,400.0 861.0,465.0 863.0,476.0 864.0,470.0 866.0,438.0 868.0,470.0 870.0,460.0 872.0,470.0 874.0,476.0 877.0,480.0 879.0,484.0 882.0,450.0 885.0,393.0 887.0,400.0 889.0,453.0 891.0,462.0 894.0,470.0 896.0,460.0 898.0,464.0 900.0,458.0 903.0,413.0 905.0,462.0 908.0,466.0 910.0,474.0 912.0,470.0 915.0,459.0 918.0,479.0 921.0,476.0 925.0,472.0 928.0,480.0 932.0,484.0 935.0,488.0 938.0,481.0 941.0,486.0 944.0,479.0 946.0,470.0 948.0,478.0 950.0,484.0 951.0,495.0 953.0,488.0 956.0,490.0 960.0,498.0 962.0,502.0 966.0,506.0 970.0,508.0 975.0,507.0 985.0,503.0 988.0,504.0 1005.2,503.6 1022.0,508.9 1036.0,509.2 1044.4,510.6 1058.4,509.5 1064.0,512.0 1070.0,520.0 1073.8,523.9 1077.0,519.0 1081.0,512.0 1085.0,514.0 1090.0,516.0 1094.8,509.2 1098.0,515.0 1104.0,516.0 1107.4,518.3 1111.6,500.8 1116.0,500.0 1123.0,496.0 1127.0,493.8 1131.0,498.0 1136.0,500.0 1136.8,500.8 1148.0,501.5 1160.6,511.3 1162.0,506.7 1176.0,509.9 1183.0,519.7 1190.0,515.5 1206.8,521.8 1218.0,528.8 1223.6,534.4 1229.2,539.3 1230.6,533.7 1234.8,523.2 1237.6,534.4 1246.0,545.6 1254.4,553.3 1264.4,555.5 1275.2,555.8 1284.7,558.2 1294.1,557.1 1302.2,551.7 1315.8,538.2 1329.3,529.4 1345.5,519.2 1361.8,507.1 1369.9,504.4 1380.0,490.8 1390.8,478.2 1399.8,471.0 1410.6,460.2 1423.2,449.4 1434.0,443.1 1443.0,441.3 1453.8,435.0 1466.4,431.0 1479.0,427.8 1486.2,424.7 1497.0,421.5 1506.0,419.0 1516.8,419.0 1526.7,419.3 1533.0,417.9 1539.3,414.1" fill="none" stroke="#22dd22" stroke-width="1.2" stroke-linejoin="round"/>
<polyline points="1646.2,407.4 1662.3,399.8 1672.8,396.0 1686.0,391.7 1694.6,390.3 1719.3,390.1 1729.8,384.6 1739.3,378.0 1752.6,376.1 1761.1,377.5 1771.6,384.1 1775.4,384.6 1785.8,381.8 1796.3,381.8 1810.3,379.4" fill="none" stroke="#22dd22" stroke-width="1.3" transform="translate(0.6 0.6)"/>
<line x1="1369.6" y1="503" x2="1369.6" y2="597" stroke="#22dd22" stroke-width="2.6"/>
<line x1="1369.4" y1="597" x2="1369.4" y2="697" stroke="#22dd22" stroke-width="1.5"/>
<path d="M260.6 378.7C264.2 377.4 275.3 374.5 282.0 370.7C288.7 366.9 296.6 359.5 301.0 355.7C305.4 351.9 305.3 353.4 308.2 347.7C311.1 342.0 315.2 329.0 318.5 321.5C321.8 314.0 324.8 307.7 328.0 302.5C331.2 297.3 333.4 293.6 337.6 290.5C341.9 287.4 348.7 286.8 353.5 284.2C358.3 281.6 360.9 278.0 366.2 274.7C371.5 271.4 379.4 267.9 385.2 264.3C391.0 260.7 395.3 256.4 401.1 253.2C406.9 250.0 415.4 247.0 420.2 245.3C425.0 243.6 426.3 244.5 429.7 242.9C433.1 241.3 436.6 239.4 440.8 235.8C445.0 232.2 451.1 225.5 455.1 221.5C459.1 217.5 460.9 214.7 464.6 211.9C468.3 209.1 473.9 206.0 477.3 204.8C480.8 203.6 481.9 204.2 485.3 204.5C488.8 204.8 494.1 206.5 498.0 206.4C501.9 206.3 503.7 206.1 509.0 204.0C514.3 201.9 524.1 194.5 529.7 193.7C535.3 192.9 538.0 197.9 542.4 199.2C546.8 200.5 552.3 201.6 555.9 201.6C559.5 201.6 559.8 200.9 563.8 198.9C567.8 196.9 575.7 191.1 579.7 189.4C583.7 187.7 583.6 188.5 587.6 188.6C591.6 188.7 597.7 189.2 603.5 189.9C609.3 190.6 617.3 192.4 622.6 192.6C627.9 192.8 631.3 191.1 635.3 191.0C639.3 190.9 641.9 190.1 646.4 191.8C650.9 193.5 657.3 196.8 662.3 201.3C667.3 205.8 672.1 213.0 676.6 218.8C681.1 224.6 685.6 230.1 689.3 236.2C693.0 242.3 695.1 248.7 698.8 255.3C702.5 261.9 707.8 269.5 711.5 275.9C715.2 282.2 718.4 287.6 721.0 293.4C723.6 299.2 725.5 305.6 727.4 310.9C729.3 316.2 730.4 321.0 732.2 325.2C734.1 329.4 735.6 332.6 738.5 336.3C741.4 340.0 746.4 342.1 749.6 347.4C752.8 352.7 755.2 362.4 757.6 368.0C760.0 373.6 761.3 377.9 763.9 380.7C766.5 383.5 770.5 383.8 773.4 384.7C776.3 385.6 778.5 384.1 781.4 386.3C784.3 388.6 788.0 394.1 790.9 398.2C793.8 402.3 796.4 408.5 798.9 410.9C801.4 413.3 803.5 410.8 806.0 412.5C808.5 414.2 812.0 418.4 814.0 421.0C816.0 423.6 816.3 424.2 818.0 428.0C819.7 431.8 822.0 439.0 824.0 444.0C826.0 449.0 827.3 451.8 830.0 458.0C832.7 464.2 837.7 478.0 840.0 481.0C842.3 484.0 842.7 479.8 844.0 476.0C845.3 472.2 846.7 466.7 848.0 458.0C849.3 449.3 851.0 430.9 852.0 424.0C853.0 417.1 853.3 417.8 854.0 416.5C854.7 415.2 855.0 416.1 856.0 416.5C857.0 416.9 858.7 416.2 860.0 419.0C861.3 421.8 862.7 425.5 864.0 433.0C865.3 440.5 866.2 457.8 868.0 464.0C869.8 470.2 873.0 472.8 875.0 470.0C877.0 467.2 878.8 451.7 880.0 447.0C881.2 442.3 880.8 443.6 882.0 442.0C883.2 440.4 885.7 438.0 887.0 437.5C888.3 437.0 889.0 438.1 890.0 439.0C891.0 439.9 892.2 441.0 893.0 443.0C893.8 445.0 894.2 449.9 895.0 451.0C895.8 452.1 896.5 449.8 898.0 449.5C899.5 449.2 902.2 448.6 904.0 449.5C905.8 450.4 907.5 451.6 909.0 455.0C910.5 458.4 911.2 466.8 913.0 470.0C914.8 473.2 917.5 472.7 920.0 474.5C922.5 476.3 925.5 479.3 928.0 481.0C930.5 482.7 932.7 484.5 935.0 484.5C937.3 484.5 939.7 481.2 942.0 481.0C944.3 480.8 946.8 482.0 949.0 483.5C951.2 485.0 952.8 487.4 955.0 490.0C957.2 492.6 959.7 496.5 962.0 499.0C964.3 501.5 966.8 503.8 969.0 505.0C971.2 506.2 971.8 506.2 975.0 506.0C978.2 505.8 983.0 504.4 988.0 504.0C993.0 503.6 999.5 502.8 1005.2 503.6C1010.9 504.4 1016.9 508.0 1022.0 508.9C1027.1 509.8 1032.3 508.9 1036.0 509.2C1039.7 509.5 1040.7 510.6 1044.4 510.6C1048.1 510.7 1055.1 509.3 1058.4 509.5C1061.7 509.7 1061.7 510.5 1064.0 512.0C1066.3 513.5 1069.6 517.8 1072.4 518.3C1075.2 518.8 1078.0 515.4 1080.8 514.8C1083.6 514.2 1085.7 514.3 1089.2 514.5C1092.7 514.7 1098.5 517.0 1101.8 515.9C1105.1 514.8 1106.2 510.6 1108.8 507.8C1111.4 505.1 1114.2 501.1 1117.2 499.4C1120.2 497.6 1123.7 497.1 1127.0 497.3C1130.3 497.5 1133.3 500.1 1136.8 500.8C1140.3 501.5 1143.8 500.5 1148.0 501.5C1152.2 502.5 1157.3 505.3 1162.0 506.7C1166.7 508.1 1171.3 508.4 1176.0 509.9C1180.7 511.4 1184.9 513.5 1190.0 515.5C1195.1 517.5 1202.1 519.6 1206.8 521.8C1211.5 524.0 1215.2 526.7 1218.0 528.8C1220.8 530.9 1221.5 533.6 1223.6 534.4C1225.7 535.2 1228.3 533.7 1230.6 533.7C1232.9 533.7 1235.0 532.4 1237.6 534.4C1240.2 536.4 1243.2 542.5 1246.0 545.6C1248.8 548.8 1251.3 551.6 1254.4 553.3C1257.5 554.9 1260.9 555.1 1264.4 555.5C1267.9 555.9 1271.8 555.3 1275.2 555.8C1278.6 556.2 1281.6 558.0 1284.7 558.2C1287.8 558.4 1291.2 558.2 1294.1 557.1C1297.0 556.0 1298.6 554.9 1302.2 551.7C1305.8 548.6 1311.3 541.9 1315.8 538.2C1320.3 534.5 1324.3 532.6 1329.3 529.4C1334.2 526.2 1340.1 522.9 1345.5 519.2C1350.9 515.5 1357.7 509.6 1361.8 507.1C1365.9 504.6 1366.9 507.1 1369.9 504.4C1372.9 501.7 1376.5 495.2 1380.0 490.8C1383.5 486.4 1387.5 481.5 1390.8 478.2C1394.1 474.9 1396.5 474.0 1399.8 471.0C1403.1 468.0 1406.7 463.8 1410.6 460.2C1414.5 456.6 1419.3 452.2 1423.2 449.4C1427.1 446.5 1430.7 444.5 1434.0 443.1C1437.3 441.8 1439.7 442.7 1443.0 441.3C1446.3 439.9 1449.9 436.7 1453.8 435.0C1457.7 433.3 1462.2 432.2 1466.4 431.0C1470.6 429.8 1475.7 428.9 1479.0 427.8C1482.3 426.8 1483.2 425.8 1486.2 424.7C1489.2 423.6 1493.7 422.4 1497.0 421.5C1500.3 420.6 1502.7 419.4 1506.0 419.0C1509.3 418.6 1513.3 418.9 1516.8 419.0C1520.2 419.1 1524.0 419.5 1526.7 419.3C1529.4 419.1 1530.9 418.8 1533.0 417.9C1535.1 417.0 1538.2 414.7 1539.3 414.1" fill="none" stroke="#000" stroke-width="1.3"/>
<path d="M1646.2 407.4C1648.9 406.1 1657.9 401.7 1662.3 399.8C1666.7 397.9 1668.8 397.4 1672.8 396.0C1676.8 394.6 1682.4 392.6 1686.0 391.7C1689.6 390.8 1689.0 390.6 1694.6 390.3C1700.1 390.0 1713.4 391.1 1719.3 390.1C1725.2 389.2 1726.5 386.6 1729.8 384.6C1733.1 382.6 1735.5 379.4 1739.3 378.0C1743.1 376.6 1749.0 376.2 1752.6 376.1C1756.2 376.0 1757.9 376.2 1761.1 377.5C1764.3 378.8 1769.2 382.9 1771.6 384.1C1774.0 385.3 1773.0 385.0 1775.4 384.6C1777.8 384.2 1782.3 382.3 1785.8 381.8C1789.3 381.3 1792.2 382.2 1796.3 381.8C1800.4 381.4 1808.0 379.8 1810.3 379.4" fill="none" stroke="#000" stroke-width="1.3"/>
<polyline points="260.5,586.8 263.5,591.5 266.5,596.3 269.5,601.0 272.5,605.7 275.5,610.4 278.5,615.0 281.5,619.6 284.5,624.3 287.5,628.8 290.5,633.4 293.5,637.9 296.5,642.4 299.5,646.9 302.5,651.4 305.5,655.8 308.5,660.2 311.5,664.6 314.5,668.9 317.5,673.2 320.5,677.5 323.5,681.8 326.5,686.0 329.5,690.2 332.5,694.4 335.5,698.5 338.5,702.6 341.5,706.7 344.5,710.8 347.5,714.8 350.5,718.8 353.5,722.7 356.5,726.7 359.5,730.6 362.5,734.4 365.5,738.2 368.5,742.0 371.5,745.8 374.5,749.5 377.5,753.2 380.5,756.9 383.5,760.5 386.5,764.1 389.5,767.6 392.5,771.1 395.5,774.6 398.5,778.1 401.5,781.5 404.5,784.8 407.5,788.2 410.5,791.5 413.5,794.7 416.5,797.9 419.5,801.1 422.5,804.2 425.5,807.3 428.5,810.4 431.5,813.4 434.5,816.4 437.5,819.3 440.5,822.2 443.5,825.1 446.5,827.9 449.5,830.6 452.5,833.4 455.5,836.0 458.5,838.7 461.5,841.3 464.5,843.8 467.5,846.3 470.5,848.8 473.5,851.2 476.5,853.6 479.5,855.9 482.5,858.2 485.5,860.4 488.5,862.6 491.5,864.7 494.5,866.8 497.5,868.9 500.5,870.9 503.5,872.8 506.5,874.7 509.5,876.6 512.5,878.4 515.5,880.1 518.5,881.8 521.5,883.5 524.5,885.1 527.5,886.6 530.5,888.1 533.5,889.6 536.5,891.0 539.5,892.3 542.5,893.6 545.5,894.9 548.5,896.1 551.5,897.2 554.5,898.3 557.5,899.3 560.5,900.3 563.5,901.2 566.5,902.0 569.5,902.9 572.5,903.6 575.5,904.3 578.5,904.9 581.5,905.5 584.5,906.0 587.5,906.5 590.5,906.9 593.5,907.3 596.5,907.6 599.5,907.8 602.5,908.0 605.5,908.1 608.5,908.1 611.5,908.1 614.5,908.1 617.5,907.9 620.5,907.7 623.5,907.5 626.5,907.2 629.5,906.8 632.5,906.4 635.5,905.9 638.5,905.3 641.5,904.7 644.5,904.0 647.5,903.3 650.5,902.4 653.5,901.6 656.5,900.6 659.5,899.6 662.5,898.6 665.5,897.5 668.5,896.3 671.5,895.1 674.5,893.8 677.5,892.4 680.5,891.0 683.5,889.5 686.5,888.0 689.5,886.4 692.5,884.8 695.5,883.1 698.5,881.3 701.5,879.5 704.5,877.7 707.5,875.8 710.5,873.8 713.5,871.8 716.5,869.7 719.5,867.6 722.5,865.4 725.5,863.2 728.5,860.9 731.5,858.6 734.5,856.2 737.5,853.8 740.5,851.3 743.5,848.8 746.5,846.2 749.5,843.6 752.5,840.9 755.5,838.2 758.5,835.4 761.5,832.6 764.5,829.8 767.5,826.8 770.5,823.9 773.5,820.9 776.5,817.9 779.5,814.8 782.5,811.7 785.5,808.5 788.5,805.3 791.5,802.0 794.5,798.8 797.5,795.4 800.5,792.0 803.5,788.6 806.5,785.2 809.5,781.7 812.5,778.2 815.5,774.6 818.5,771.0 821.5,767.3 824.5,763.6 827.5,759.9 830.5,756.2 833.5,752.4 836.5,748.5 839.5,744.7 842.5,740.8 845.5,736.8 848.5,732.9 851.5,728.9 854.5,724.8 857.5,720.8 860.5,716.7 863.5,712.5 866.5,708.4 869.5,704.2 872.5,700.0 875.5,695.7 878.5,691.4 881.5,687.1 884.5,682.8 887.5,678.4 890.5,674.0 893.5,669.6 896.5,665.1 899.5,660.7 902.5,656.2 905.5,651.6 908.5,647.1 911.5,642.5 914.5,637.9 917.5,633.3 920.5,628.6 923.5,624.0 926.5,619.3 929.5,614.6 932.5,609.9 935.5,605.1 938.5,600.4 941.5,595.6 944.5,590.9 947.5,586.1 950.5,581.3 953.5,576.5 956.5,571.7 959.5,566.8 962.5,562.0 965.5,557.2 968.5,552.3 971.5,547.5 974.5,542.6 977.5,537.8 980.5,533.0 983.5,528.1 986.5,523.3 989.5,518.4 992.5,513.6 995.5,508.8 998.5,503.9 1001.5,499.1 1004.5,494.3 1007.5,489.5 1010.5,484.7 1013.5,479.9 1016.5,475.2 1019.5,470.4 1022.5,465.7 1025.5,460.9 1028.5,456.2 1031.5,451.5 1034.5,446.8 1037.5,442.2 1040.5,437.5 1043.5,432.9 1046.5,428.3 1049.5,423.8 1052.5,419.2 1055.5,414.7 1058.5,410.2 1061.5,405.7 1064.5,401.3 1067.5,396.8 1070.5,392.5 1073.5,388.1 1076.5,383.7 1079.5,379.4 1082.5,375.2 1085.5,370.9 1088.5,366.7 1091.5,362.5 1094.5,358.4 1097.5,354.2 1100.5,350.1 1103.5,346.1 1106.5,342.1 1109.5,338.1 1112.5,334.2 1115.5,330.3 1118.5,326.4 1121.5,322.6 1124.5,318.8 1127.5,315.0 1130.5,311.3 1133.5,307.7 1136.5,304.0 1139.5,300.5 1142.5,296.9 1145.5,293.4 1148.5,290.0 1151.5,286.6 1154.5,283.3 1157.5,279.9 1160.5,276.7 1163.5,273.5 1166.5,270.3 1169.5,267.2 1172.5,264.2 1175.5,261.2 1178.5,258.2 1181.5,255.3 1184.5,252.5 1187.5,249.7 1190.5,246.9 1193.5,244.3 1196.5,241.6 1199.5,239.0 1202.5,236.5 1205.5,234.0 1208.5,231.6 1211.5,229.3 1214.5,227.0 1217.5,224.7 1220.5,222.5 1223.5,220.4 1226.5,218.3 1229.5,216.2 1232.5,214.3 1235.5,212.3 1238.5,210.5 1241.5,208.7 1244.5,206.9 1247.5,205.2 1250.5,203.6 1253.5,202.0 1256.5,200.4 1259.5,199.0 1262.5,197.5 1265.5,196.2 1268.5,194.9 1271.5,193.6 1274.5,192.4 1277.5,191.3 1280.5,190.2 1283.5,189.2 1286.5,188.3 1289.5,187.4 1292.5,186.5 1295.5,185.7 1298.5,185.0 1301.5,184.3 1304.5,183.7 1307.5,183.2 1310.5,182.7 1313.5,182.3 1316.5,181.9 1319.5,181.6 1322.5,181.3 1325.5,181.2 1328.5,181.0 1331.5,181.0 1334.5,180.9 1337.5,181.0 1340.5,181.1 1343.5,181.3 1346.5,181.5 1349.5,181.8 1352.5,182.2 1355.5,182.6 1358.5,183.1 1361.5,183.6 1364.5,184.2 1367.5,184.9 1370.5,185.6 1373.5,186.4 1376.5,187.2 1379.5,188.2 1382.5,189.1 1385.5,190.2 1388.5,191.3 1391.5,192.5 1394.5,193.7 1397.5,195.0 1400.5,196.3 1403.5,197.8 1406.5,199.3 1409.5,200.8 1412.5,202.4 1415.5,204.1 1418.5,205.9 1421.5,207.7 1424.5,209.5 1427.5,211.5 1430.5,213.5 1433.5,215.6 1436.5,217.7 1439.5,219.9 1442.5,222.2 1445.5,224.5 1448.5,226.9 1451.5,229.4 1454.5,231.9 1457.5,234.5 1460.5,237.2 1463.5,239.9 1466.5,242.7 1469.5,245.6 1472.5,248.5 1475.5,251.5 1478.5,254.6 1481.5,257.7 1484.5,260.9 1487.5,264.2 1490.5,267.6 1493.5,271.0 1496.5,274.4 1499.5,278.0 1502.5,281.6 1505.5,285.3 1508.5,289.1 1511.5,292.9 1514.5,296.8 1517.5,300.8 1520.5,304.8 1523.5,308.9 1526.5,313.1 1529.5,317.3 1532.5,321.6 1535.5,326.0 1538.5,330.5" fill="none" stroke="#14148c" stroke-width="1.4"/>
<line x1="1646.2" y1="335.2" x2="1810.4" y2="584.4" stroke="#14148c" stroke-width="1.4"/>
<polyline points="707.5,875.8 710.5,873.8 713.5,871.8 716.5,869.7 719.5,867.6 722.5,865.4 725.5,863.2 728.5,860.9 731.5,858.6 734.5,856.2 737.5,853.8 740.5,851.3 743.5,848.8 746.5,846.2 749.5,843.6 752.5,840.9 755.5,838.2 758.5,835.4 761.5,832.6 764.5,829.8 767.5,826.8 770.5,823.9 773.5,820.9 776.5,817.9 779.5,814.8 782.5,811.7 785.5,808.5 788.5,805.3 791.5,802.0 794.5,798.8 797.5,795.4 800.5,792.0 803.5,788.6 806.5,785.2 809.5,781.7 812.5,778.2 815.5,774.6 818.5,771.0 821.5,767.3 824.5,763.6 827.5,759.9 830.5,756.2 833.5,752.4 836.5,748.5 839.5,744.7 842.5,740.8 845.5,736.8 848.5,732.9 851.5,728.9 854.5,724.8 857.5,720.8 860.5,716.7 863.5,712.5 866.5,708.4 869.5,704.2 872.5,700.0 875.5,695.7 878.5,691.4 881.5,687.1 884.5,682.8 887.5,678.4 890.5,674.0 893.5,669.6 896.5,665.1 899.5,660.7 902.5,656.2 905.5,651.6 908.5,647.1 911.5,642.5 914.5,637.9 917.5,633.3 920.5,628.6 923.5,624.0 926.5,619.3 929.5,614.6 932.5,609.9 935.5,605.1 938.5,600.4 941.5,595.6 944.5,590.9 947.5,586.1 950.5,581.3 953.5,576.5 956.5,571.7 959.5,566.8 962.5,562.0 965.5,557.2 968.5,552.3 971.5,547.5 974.5,542.6 977.5,537.8 980.5,533.0 983.5,528.1 986.5,523.3 989.5,518.4 992.5,513.6 995.5,508.8 998.5,503.9 1001.5,499.1 1004.5,494.3 1007.5,489.5 1010.5,484.7 1013.5,479.9 1016.5,475.2 1019.5,470.4 1022.5,465.7 1025.5,460.9 1028.5,456.2 1031.5,451.5 1034.5,446.8 1037.5,442.2 1040.5,437.5 1043.5,432.9 1046.5,428.3 1049.5,423.8 1052.5,419.2 1055.5,414.7 1058.5,410.2 1061.5,405.7 1064.5,401.3 1067.5,396.8 1070.5,392.5 1073.5,388.1 1076.5,383.7 1079.5,379.4 1082.5,375.2 1085.5,370.9 1088.5,366.7 1091.5,362.5 1094.5,358.4 1097.5,354.2 1100.5,350.1 1103.5,346.1 1106.5,342.1 1109.5,338.1 1112.5,334.2 1115.5,330.3 1118.5,326.4 1121.5,322.6 1124.5,318.8 1127.5,315.0 1130.5,311.3 1133.5,307.7 1136.5,304.0 1139.5,300.5 1142.5,296.9 1145.5,293.4 1148.5,290.0 1151.5,286.6 1154.5,283.3 1157.5,279.9 1160.5,276.7 1163.5,273.5 1166.5,270.3 1169.5,267.2 1172.5,264.2 1175.5,261.2 1178.5,258.2 1181.5,255.3 1184.5,252.5 1187.5,249.7 1190.5,246.9 1193.5,244.3 1196.5,241.6 1199.5,239.0 1202.5,236.5 1205.5,234.0 1208.5,231.6 1211.5,229.3 1214.5,227.0 1217.5,224.7 1220.5,222.5 1223.5,220.4 1226.5,218.3 1229.5,216.2" fill="none" stroke="#0d0df0" stroke-width="13.5" stroke-dasharray="13.5 4"/>
<line x1="1611.5" y1="834.2" x2="1763" y2="834.2" stroke="#0d0df0" stroke-width="12.7" stroke-dasharray="10.7 3.2"/>
<path d="M260.5 135.5H1810.5V952.5" stroke="#14148c" stroke-width="1" fill="none" shape-rendering="crispEdges"/>
<path d="M260.5 135.5V952.5H1810.5" stroke="#000" stroke-width="1" fill="none" shape-rendering="crispEdges"/>
<path d="M260.5 136.5H276.5" stroke="#000" stroke-width="1" fill="none" shape-rendering="crispEdges"/>
<g stroke="#000" stroke-width="1" fill="none" shape-rendering="crispEdges">
<line x1="260.5" y1="952.5" x2="276.5" y2="952.5"/>
<line x1="260.5" y1="903.5" x2="268.5" y2="903.5"/>
<line x1="260.5" y1="874.5" x2="268.5" y2="874.5"/>
<line x1="260.5" y1="854.5" x2="268.5" y2="854.5"/>
<line x1="260.5" y1="838.5" x2="268.5" y2="838.5"/>
<line x1="260.5" y1="825.5" x2="268.5" y2="825.5"/>
<line x1="260.5" y1="814.5" x2="268.5" y2="814.5"/>
<line x1="260.5" y1="805.5" x2="268.5" y2="805.5"/>
<line x1="260.5" y1="796.5" x2="268.5" y2="796.5"/>
<line x1="260.5" y1="789.5" x2="276.5" y2="789.5"/>
<line x1="260.5" y1="740.5" x2="268.5" y2="740.5"/>
<line x1="260.5" y1="711.5" x2="268.5" y2="711.5"/>
<line x1="260.5" y1="691.5" x2="268.5" y2="691.5"/>
<line x1="260.5" y1="675.5" x2="268.5" y2="675.5"/>
<line x1="260.5" y1="662.5" x2="268.5" y2="662.5"/>
<line x1="260.5" y1="651.5" x2="268.5" y2="651.5"/>
<line x1="260.5" y1="641.5" x2="268.5" y2="641.5"/>
<line x1="260.5" y1="633.5" x2="268.5" y2="633.5"/>
<line x1="260.5" y1="626.5" x2="276.5" y2="626.5"/>
<line x1="260.5" y1="576.5" x2="268.5" y2="576.5"/>
<line x1="260.5" y1="548.5" x2="268.5" y2="548.5"/>
<line x1="260.5" y1="527.5" x2="268.5" y2="527.5"/>
<line x1="260.5" y1="511.5" x2="268.5" y2="511.5"/>
<line x1="260.5" y1="498.5" x2="268.5" y2="498.5"/>
<line x1="260.5" y1="487.5" x2="268.5" y2="487.5"/>
<line x1="260.5" y1="478.5" x2="268.5" y2="478.5"/>
<line x1="260.5" y1="470.5" x2="268.5" y2="470.5"/>
<line x1="260.5" y1="462.5" x2="276.5" y2="462.5"/>
<line x1="260.5" y1="413.5" x2="268.5" y2="413.5"/>
<line x1="260.5" y1="384.5" x2="268.5" y2="384.5"/>
<line x1="260.5" y1="364.5" x2="268.5" y2="364.5"/>
<line x1="260.5" y1="348.5" x2="268.5" y2="348.5"/>
<line x1="260.5" y1="335.5" x2="268.5" y2="335.5"/>
<line x1="260.5" y1="324.5" x2="268.5" y2="324.5"/>
<line x1="260.5" y1="315.5" x2="268.5" y2="315.5"/>
<line x1="260.5" y1="306.5" x2="268.5" y2="306.5"/>
<line x1="260.5" y1="299.5" x2="276.5" y2="299.5"/>
<line x1="260.5" y1="250.5" x2="268.5" y2="250.5"/>
<line x1="260.5" y1="221.5" x2="268.5" y2="221.5"/>
<line x1="260.5" y1="200.5" x2="268.5" y2="200.5"/>
<line x1="260.5" y1="184.5" x2="268.5" y2="184.5"/>
<line x1="260.5" y1="172.5" x2="268.5" y2="172.5"/>
<line x1="260.5" y1="161.5" x2="268.5" y2="161.5"/>
<line x1="260.5" y1="151.5" x2="268.5" y2="151.5"/>
<line x1="260.5" y1="143.5" x2="268.5" y2="143.5"/>
<line x1="260.5" y1="135.5" x2="276.5" y2="135.5"/>
<line x1="441.5" y1="952.5" x2="441.5" y2="936.5"/>
<line x1="622.5" y1="952.5" x2="622.5" y2="936.5"/>
<line x1="804.5" y1="952.5" x2="804.5" y2="936.5"/>
<line x1="984.5" y1="952.5" x2="984.5" y2="936.5"/>
<line x1="1165.5" y1="952.5" x2="1165.5" y2="936.5"/>
<line x1="1345.5" y1="952.5" x2="1345.5" y2="936.5"/>
<line x1="1525.5" y1="952.5" x2="1525.5" y2="936.5"/>
</g>
<g stroke="#14148c" stroke-width="1" shape-rendering="crispEdges">
<line x1="1794.5" y1="911.5" x2="1810.5" y2="911.5"/>
<line x1="1794.5" y1="829.5" x2="1810.5" y2="829.5"/>
<line x1="1794.5" y1="748.5" x2="1810.5" y2="748.5"/>
<line x1="1794.5" y1="666.5" x2="1810.5" y2="666.5"/>
<line x1="1794.5" y1="584.5" x2="1810.5" y2="584.5"/>
<line x1="1794.5" y1="503.5" x2="1810.5" y2="503.5"/>
<line x1="1794.5" y1="421.5" x2="1810.5" y2="421.5"/>
<line x1="1794.5" y1="340.5" x2="1810.5" y2="340.5"/>
<line x1="1794.5" y1="258.5" x2="1810.5" y2="258.5"/>
<line x1="1794.5" y1="176.5" x2="1810.5" y2="176.5"/>
</g>
<g stroke="#000" stroke-width="1" shape-rendering="crispEdges">
<line x1="260.5" y1="1179.5" x2="275.5" y2="1179.5"/>
<line x1="1795.5" y1="1179.5" x2="1810.5" y2="1179.5"/>
<line x1="260.5" y1="1244.5" x2="275.5" y2="1244.5"/>
<line x1="1795.5" y1="1244.5" x2="1810.5" y2="1244.5"/>
<line x1="260.5" y1="1309.5" x2="275.5" y2="1309.5"/>
<line x1="1795.5" y1="1309.5" x2="1810.5" y2="1309.5"/>
<line x1="441.5" y1="1355.5" x2="441.5" y2="1340.5"/>
<line x1="441.5" y1="1133.5" x2="441.5" y2="1148.5"/>
<line x1="622.5" y1="1355.5" x2="622.5" y2="1340.5"/>
<line x1="622.5" y1="1133.5" x2="622.5" y2="1148.5"/>
<line x1="804.5" y1="1355.5" x2="804.5" y2="1340.5"/>
<line x1="804.5" y1="1133.5" x2="804.5" y2="1148.5"/>
<line x1="984.5" y1="1355.5" x2="984.5" y2="1340.5"/>
<line x1="984.5" y1="1133.5" x2="984.5" y2="1148.5"/>
<line x1="1165.5" y1="1355.5" x2="1165.5" y2="1340.5"/>
<line x1="1165.5" y1="1133.5" x2="1165.5" y2="1148.5"/>
<line x1="1345.5" y1="1355.5" x2="1345.5" y2="1340.5"/>
<line x1="1345.5" y1="1133.5" x2="1345.5" y2="1148.5"/>
<line x1="1525.5" y1="1355.5" x2="1525.5" y2="1340.5"/>
<line x1="1525.5" y1="1133.5" x2="1525.5" y2="1148.5"/>
</g>
<rect x="260.5" y="969.5" width="1550" height="153" fill="none" stroke="#000" stroke-width="1" shape-rendering="crispEdges"/>
<rect x="260.5" y="1133.5" width="1550" height="222" fill="none" stroke="#000" stroke-width="1" shape-rendering="crispEdges"/>
<line x1="1014" y1="1121" x2="1369.2" y2="1121" stroke="#fff" stroke-width="1.1"/>
<g font-family="'Liberation Sans', Arial, Helvetica, sans-serif" fill="#000">
<text x="241.6" y="962.7" font-size="27" text-anchor="end">10</text>
<text x="242.6" y="945.1" font-size="16.5">1</text>
<text x="241.6" y="799.3" font-size="27" text-anchor="end">10</text>
<text x="242.6" y="781.7" font-size="16.5">2</text>
<text x="241.6" y="635.9" font-size="27" text-anchor="end">10</text>
<text x="242.6" y="618.3" font-size="16.5">3</text>
<text x="241.6" y="472.5" font-size="27" text-anchor="end">10</text>
<text x="242.6" y="454.9" font-size="16.5">4</text>
<text x="241.6" y="309.1" font-size="27" text-anchor="end">10</text>
<text x="242.6" y="291.5" font-size="16.5">5</text>
<text x="241.6" y="145.7" font-size="27" text-anchor="end">10</text>
<text x="242.6" y="128.1" font-size="16.5">6</text>
</g>
<g font-family="'Liberation Sans', Arial, Helvetica, sans-serif" fill="#0a0ac8" font-size="27">
<text x="1818" y="920.6" textLength="46.5" lengthAdjust="spacingAndGlyphs">400</text>
<text x="1818" y="839" textLength="46.5" lengthAdjust="spacingAndGlyphs">450</text>
<text x="1818" y="757.4" textLength="46.5" lengthAdjust="spacingAndGlyphs">500</text>
<text x="1818" y="675.8" textLength="46.5" lengthAdjust="spacingAndGlyphs">550</text>
<text x="1818" y="594.2" textLength="46.5" lengthAdjust="spacingAndGlyphs">600</text>
<text x="1818" y="512.5" textLength="46.5" lengthAdjust="spacingAndGlyphs">650</text>
<text x="1818" y="430.9" textLength="46.5" lengthAdjust="spacingAndGlyphs">700</text>
<text x="1818" y="349.3" textLength="46.5" lengthAdjust="spacingAndGlyphs">750</text>
<text x="1818" y="267.7" textLength="46.5" lengthAdjust="spacingAndGlyphs">800</text>
<text x="1818" y="186.1" textLength="46.5" lengthAdjust="spacingAndGlyphs">850</text>
</g>
<g font-family="'Liberation Sans', Arial, Helvetica, sans-serif" fill="#000">
<text x="235.8" y="1005.1" font-size="27" text-anchor="end">10</text>
<text x="236.0" y="987.7" font-size="16.5">-1</text>
<text x="235.8" y="1056.1" font-size="27" text-anchor="end">10</text>
<text x="236.4" y="1038.7" font-size="16.5">0</text>
<text x="235.8" y="1107" font-size="27" text-anchor="end">10</text>
<text x="237.6" y="1089.7" font-size="16.5">1</text>
</g>
<g font-family="'Liberation Sans', Arial, Helvetica, sans-serif" fill="#000" font-size="27">
<text x="251.0" y="1192.6" text-anchor="end">15<tspan dy="-14" font-size="19.5">o</tspan><tspan dy="14">N</tspan></text>
<text x="244.5" y="1257.6" text-anchor="end">0<tspan dy="-14" font-size="19.5">o</tspan></text>
<text x="251.0" y="1322.6" text-anchor="end">15<tspan dy="-14" font-size="19.5">o</tspan><tspan dy="14">S</tspan></text>
</g>
<g font-family="'Liberation Sans', Arial, Helvetica, sans-serif" fill="#000">
<text x="748.6" y="113" font-size="27" font-weight="bold" textLength="571.5" lengthAdjust="spacingAndGlyphs" xml:space="preserve">Day 271  27-Sep-2008 15:24:21   orbit 2433</text>
<text transform="translate(179.2 597.4) rotate(-90)" font-size="27.5">N<tspan font-size="18.5" dy="12">i</tspan><tspan dy="-12"> (cm</tspan><tspan font-size="19" dy="-12.5">-3</tspan><tspan dy="12.5">)</tspan></text>
<text transform="translate(185.5 1152) rotate(-90)" font-size="27.5" textLength="211" lengthAdjust="spacingAndGlyphs">Wavelength (km)</text>
<text transform="translate(1900.3 591) rotate(-90)" font-size="27.5" fill="#0a0ac8" textLength="90.5" lengthAdjust="spacingAndGlyphs">alt (km)</text>
<text x="1500" y="843.5" font-size="26.5" fill="#0a0ac8" textLength="89" lengthAdjust="spacingAndGlyphs">Eclipse</text>
<text x="1499" y="884.5" font-size="26.5" textLength="256.5" lengthAdjust="spacingAndGlyphs">One Minute Average</text>
<text x="1499" y="926.5" font-size="26.5" fill="#22dd22" textLength="267.5" lengthAdjust="spacingAndGlyphs">One Second Average</text>
<g font-size="27.5" text-anchor="middle" xml:space="preserve">
<text x="255.8" y="1401.8" textLength="80.3" lengthAdjust="spacingAndGlyphs">GLON</text>
<text x="441.0" y="1401.8" textLength="72.6" lengthAdjust="spacingAndGlyphs">345.9</text>
<text x="621.5" y="1401.8" textLength="72.6" lengthAdjust="spacingAndGlyphs">028.0</text>
<text x="803.5" y="1401.8" textLength="72.6" lengthAdjust="spacingAndGlyphs">070.1</text>
<text x="983.2" y="1401.8" textLength="70.5" lengthAdjust="spacingAndGlyphs">112.1</text>
<text x="1164.6" y="1401.8" textLength="72.6" lengthAdjust="spacingAndGlyphs">154.0</text>
<text x="1344.2" y="1401.8" textLength="72.6" lengthAdjust="spacingAndGlyphs">195.9</text>
<text x="1524.5" y="1401.8" textLength="72.6" lengthAdjust="spacingAndGlyphs">237.6</text>
<text x="1809.5" y="1401.8" textLength="72.6" lengthAdjust="spacingAndGlyphs">303.8</text>
<text x="255.8" y="1442.6" textLength="71.9" lengthAdjust="spacingAndGlyphs">GLAT</text>
<text x="441.0" y="1442.6" textLength="73.4" lengthAdjust="spacingAndGlyphs">+13.0</text>
<text x="621.5" y="1442.6" textLength="73.4" lengthAdjust="spacingAndGlyphs">+10.0</text>
<text x="803.5" y="1442.6" textLength="73.4" lengthAdjust="spacingAndGlyphs">+00.9</text>
<text x="983.2" y="1442.6" textLength="66.1" lengthAdjust="spacingAndGlyphs">-08.7</text>
<text x="1164.6" y="1442.6" textLength="66.1" lengthAdjust="spacingAndGlyphs">-13.0</text>
<text x="1344.2" y="1442.6" textLength="66.1" lengthAdjust="spacingAndGlyphs">-09.9</text>
<text x="1524.5" y="1442.6" textLength="66.1" lengthAdjust="spacingAndGlyphs">-00.9</text>
<text x="1809.5" y="1442.6" textLength="73.4" lengthAdjust="spacingAndGlyphs">+08.6</text>
<text x="259.8" y="1483.6" textLength="71.9" lengthAdjust="spacingAndGlyphs">GALT</text>
<text x="445.0" y="1483.6" textLength="48.4" lengthAdjust="spacingAndGlyphs">454</text>
<text x="625.5" y="1483.6" textLength="48.4" lengthAdjust="spacingAndGlyphs">403</text>
<text x="807.5" y="1483.6" textLength="48.4" lengthAdjust="spacingAndGlyphs">474</text>
<text x="987.2" y="1483.6" textLength="48.4" lengthAdjust="spacingAndGlyphs">636</text>
<text x="1168.6" y="1483.6" textLength="48.4" lengthAdjust="spacingAndGlyphs">791</text>
<text x="1348.2" y="1483.6" textLength="48.4" lengthAdjust="spacingAndGlyphs">848</text>
<text x="1528.5" y="1483.6" textLength="48.4" lengthAdjust="spacingAndGlyphs">768</text>
<text x="1813.5" y="1483.6" textLength="48.4" lengthAdjust="spacingAndGlyphs">599</text>
<text x="255.8" y="1524.6" textLength="81.8" lengthAdjust="spacingAndGlyphs">MLON</text>
<text x="441.0" y="1524.6" textLength="72.6" lengthAdjust="spacingAndGlyphs">060.6</text>
<text x="621.5" y="1524.6" textLength="72.6" lengthAdjust="spacingAndGlyphs">099.4</text>
<text x="803.5" y="1524.6" textLength="72.6" lengthAdjust="spacingAndGlyphs">141.0</text>
<text x="983.2" y="1524.6" textLength="72.6" lengthAdjust="spacingAndGlyphs">183.0</text>
<text x="1164.6" y="1524.6" textLength="72.6" lengthAdjust="spacingAndGlyphs">226.9</text>
<text x="1344.2" y="1524.6" textLength="72.6" lengthAdjust="spacingAndGlyphs">268.4</text>
<text x="1524.5" y="1524.6" textLength="72.6" lengthAdjust="spacingAndGlyphs">307.8</text>
<text x="1809.5" y="1524.6" textLength="72.6" lengthAdjust="spacingAndGlyphs">018.6</text>
<text x="257.1" y="1565.2" textLength="73.4" lengthAdjust="spacingAndGlyphs">MLAT</text>
<text x="441.0" y="1565.2" textLength="73.4" lengthAdjust="spacingAndGlyphs">+01.4</text>
<text x="621.5" y="1565.2" textLength="66.1" lengthAdjust="spacingAndGlyphs">-01.1</text>
<text x="803.5" y="1565.2" textLength="66.1" lengthAdjust="spacingAndGlyphs">-08.1</text>
<text x="983.2" y="1565.2" textLength="66.1" lengthAdjust="spacingAndGlyphs">-18.5</text>
<text x="1164.6" y="1565.2" textLength="66.1" lengthAdjust="spacingAndGlyphs">-20.9</text>
<text x="1344.2" y="1565.2" textLength="66.1" lengthAdjust="spacingAndGlyphs">-09.8</text>
<text x="1524.5" y="1565.2" textLength="73.4" lengthAdjust="spacingAndGlyphs">+04.4</text>
<text x="1809.5" y="1565.2" textLength="73.4" lengthAdjust="spacingAndGlyphs">+19.1</text>
<text x="256.6" y="1605.6" textLength="37.8" lengthAdjust="spacingAndGlyphs">UT</text>
<text x="441.0" y="1605.6" textLength="72.6" lengthAdjust="spacingAndGlyphs">15:47</text>
<text x="621.5" y="1605.6" textLength="72.6" lengthAdjust="spacingAndGlyphs">15:58</text>
<text x="803.5" y="1605.6" textLength="72.6" lengthAdjust="spacingAndGlyphs">16:10</text>
<text x="983.2" y="1605.6" textLength="72.6" lengthAdjust="spacingAndGlyphs">16:22</text>
<text x="1164.6" y="1605.6" textLength="72.6" lengthAdjust="spacingAndGlyphs">16:34</text>
<text x="1344.2" y="1605.6" textLength="72.6" lengthAdjust="spacingAndGlyphs">16:47</text>
<text x="1524.5" y="1605.6" textLength="72.6" lengthAdjust="spacingAndGlyphs">17:00</text>
<text x="1809.5" y="1605.6" textLength="72.6" lengthAdjust="spacingAndGlyphs">15:35</text>
<text x="251.6" y="1645.8" textLength="49.8" lengthAdjust="spacingAndGlyphs">SLT</text>
<text x="441.0" y="1645.8" textLength="72.6" lengthAdjust="spacingAndGlyphs">15:00</text>
<text x="621.5" y="1645.8" textLength="72.6" lengthAdjust="spacingAndGlyphs">18:00</text>
<text x="803.5" y="1645.8" textLength="72.6" lengthAdjust="spacingAndGlyphs">21:00</text>
<text x="983.2" y="1645.8" textLength="72.6" lengthAdjust="spacingAndGlyphs">00:00</text>
<text x="1164.6" y="1645.8" textLength="72.6" lengthAdjust="spacingAndGlyphs">03:00</text>
<text x="1344.2" y="1645.8" textLength="72.6" lengthAdjust="spacingAndGlyphs">06:00</text>
<text x="1524.5" y="1645.8" textLength="72.6" lengthAdjust="spacingAndGlyphs">09:00</text>
<text x="1809.5" y="1645.8" textLength="72.6" lengthAdjust="spacingAndGlyphs">12:00</text>
</g>
<text transform="translate(1900 1663) rotate(-90)" font-size="22.5" textLength="391" lengthAdjust="spacingAndGlyphs">Preliminary corrected calibration, 2/11/09</text>
<text transform="translate(1925.5 1663) rotate(-90)" font-size="22.5" textLength="310" lengthAdjust="spacingAndGlyphs">Produced 19-Feb-2009 10:30:52</text>
</g>
</svg>
</body></html>
